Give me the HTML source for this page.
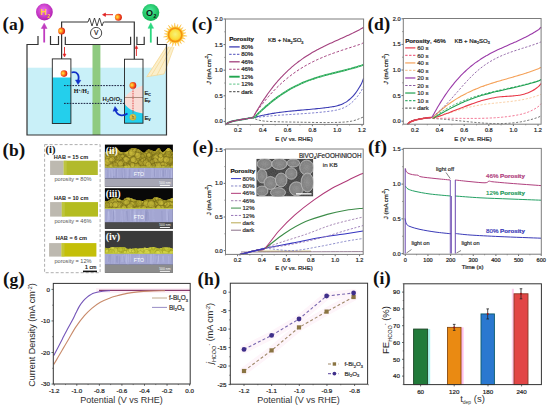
<!DOCTYPE html>
<html><head><meta charset="utf-8"><style>
html,body{margin:0;padding:0;background:#fff;width:550px;height:409px;overflow:hidden}
svg{display:block}
</style></head><body>
<svg width="550" height="409" viewBox="0 0 550 409">
<defs>
<radialGradient id="gE" cx="0.35" cy="0.45" r="0.65"><stop offset="0" stop-color="#ffe850"/><stop offset="0.35" stop-color="#ffa020"/><stop offset="0.8" stop-color="#e83018"/><stop offset="1" stop-color="#d02010"/></radialGradient>
<radialGradient id="gH" cx="0.45" cy="0.4" r="0.6"><stop offset="0" stop-color="#f070f0"/><stop offset="1" stop-color="#b020b0"/></radialGradient>
<radialGradient id="gO" cx="0.45" cy="0.4" r="0.6"><stop offset="0" stop-color="#50f0a0"/><stop offset="1" stop-color="#10b050"/></radialGradient>
<radialGradient id="gS" cx="0.5" cy="0.45" r="0.55"><stop offset="0" stop-color="#f6f27a"/><stop offset="0.6" stop-color="#fbe040"/><stop offset="1" stop-color="#ffc020"/></radialGradient>
<radialGradient id="gHole" cx="0.45" cy="0.45" r="0.6"><stop offset="0" stop-color="#f8f080"/><stop offset="1" stop-color="#c0a020"/></radialGradient>
</defs>

<text x="2.4" y="29.8" font-size="17.5" fill="#111" text-anchor="start" font-weight="bold" font-family='"Liberation Serif",serif' ><tspan font-size="19.5">(</tspan>a<tspan font-size="19.5">)</tspan></text>
<rect x="27" y="67.7" width="139.5" height="67.3" fill="#c9f0f8" stroke="none" stroke-width="1" />
<rect x="92.5" y="44.5" width="7.9" height="90.5" fill="#8fca80" stroke="none" stroke-width="1" />
<polygon points="166,46.5 174,47 164,74 146.5,76.8" fill="#fbefcc"/>
<path d="M166.5,46.5L147,76.5M169,46.7L151,76M171.5,46.8L157,75.2M174,47L164,74M146.5,76.8L164,74" stroke="#f5d68e" stroke-width="0.7" fill="none"/>
<path d="M38,36V44.5H27V135H166.5V44.5H157.4V36.7" fill="none" stroke="#333" stroke-width="1.2" />
<path d="M50.5,36V44.5H58.5V36" fill="none" stroke="#333" stroke-width="1.2" />
<path d="M65.3,36.7V44.5H130.6V36.7" fill="none" stroke="#333" stroke-width="1.2" />
<path d="M136.9,36.7V44.5H144.2V36.7" fill="none" stroke="#333" stroke-width="1.2" />
<path d="M61.6,58.9V22H88" fill="none" stroke="#333" stroke-width="1.2" />
<path d="M105,22H134.3V59.4" fill="none" stroke="#333" stroke-width="1.2" />
<path d="M88,22L89.5,18L92,26L94.5,18L97,26L99.5,18L102,26L103.5,22H105" fill="none" stroke="#333" stroke-width="0.9" />
<circle cx="96.1" cy="33" r="5.6" fill="#fff" stroke="#333" stroke-width="0.9"/>
<text x="96.1" y="35.3" font-size="6.5" fill="#222" text-anchor="middle" font-weight="normal" font-family='"Liberation Sans",sans-serif' stroke="#222" stroke-width="0.22" >V</text>
<path d="M113,14.7H104" fill="none" stroke="#e02020" stroke-width="1" />
<path d="M105.5,13L102.5,14.7L105.5,16.4Z" fill="#e02020" stroke="#e02020" stroke-width="0.6" />
<path d="M64.5,47V55" fill="none" stroke="#e02020" stroke-width="0.9" />
<path d="M63,54L64.5,57L66,54Z" fill="#e02020" stroke="#e02020" stroke-width="0.5" />
<path d="M136.4,56V48" fill="none" stroke="#e02020" stroke-width="0.9" />
<path d="M135,48.5L136.4,45.5L137.8,48.5Z" fill="#e02020" stroke="#e02020" stroke-width="0.5" />
<circle cx="61.6" cy="31.1" r="3.5" fill="url(#gE)"/>
<circle cx="118.4" cy="17.3" r="3.5" fill="url(#gE)"/>
<circle cx="44.4" cy="12" r="8.4" fill="url(#gH)"/>
<text x="43.6" y="15.4" font-size="9" fill="#ffd23a" text-anchor="middle" font-weight="bold" font-family='"Liberation Sans",sans-serif' >H</text>
<text x="48.6" y="17.6" font-size="5" fill="#ffd23a" text-anchor="middle" font-weight="bold" font-family='"Liberation Sans",sans-serif' >2</text>
<path d="M44.2,42.5V27" fill="none" stroke="#c03cc0" stroke-width="1.8" />
<path d="M41.3,28.5L44.2,23.2L47.1,28.5Z" fill="#c03cc0" stroke="#c03cc0" stroke-width="0.5" />
<circle cx="150.8" cy="12.5" r="8.5" fill="url(#gO)"/>
<text x="149.6" y="15.8" font-size="9" fill="#111" text-anchor="middle" font-weight="bold" font-family='"Liberation Sans",sans-serif' >O</text>
<text x="155" y="18" font-size="5" fill="#111" text-anchor="middle" font-weight="bold" font-family='"Liberation Sans",sans-serif' >2</text>
<path d="M150.8,42.6V27" fill="none" stroke="#2cd880" stroke-width="1.8" />
<path d="M148,28.3L150.8,22.8L153.6,28.3Z" fill="#2cd880" stroke="#2cd880" stroke-width="0.5" />
<path d="M182.4,34.83L187.14,36.1L182.24,36.4ZM182.13,36.86L185.39,39.04L181.53,38.32ZM181.3,38.73L184.6,42.36L180.31,39.97ZM179.97,40.29L181.54,43.89L178.68,41.2ZM178.26,41.42L179.07,46.26L176.76,41.93ZM176.3,42.02L175.67,45.89L174.72,42.08ZM174.25,42.04L172.31,46.55L172.71,41.66ZM172.27,41.48L169.65,44.4L170.91,40.68ZM170.54,40.39L166.48,43.14L169.45,39.24ZM169.18,38.85L165.4,39.89L168.46,37.44ZM168.31,37L163.41,37.11L168.02,35.44ZM168,34.97L164.25,33.8L168.16,33.4ZM168.27,32.94L164.08,30.39L168.87,31.48ZM169.1,31.07L166.59,28.06L170.09,29.83ZM170.43,29.51L168.29,25.09L171.72,28.6ZM172.14,28.38L171.65,24.49L173.64,27.87ZM174.1,27.78L174.69,22.91L175.68,27.72ZM176.15,27.76L177.84,24.22L177.69,28.14ZM178.13,28.32L181.25,24.54L179.49,29.12ZM179.86,29.41L183.2,27.35L180.95,30.56ZM181.22,30.95L185.89,29.45L181.94,32.36ZM182.09,32.8L186.01,32.87L182.38,34.36Z" fill="#ffc83a" stroke="#f8b030" stroke-width="0.3" />
<circle cx="175.2" cy="34.9" r="8.4" fill="#ffd850"/>
<circle cx="175.2" cy="34.9" r="6.7" fill="url(#gS)" stroke="#f59410" stroke-width="1.7"/>
<rect x="52.3" y="58.9" width="18.6" height="64.6" fill="#fff" stroke="none" stroke-width="1" />
<rect x="52.3" y="77.5" width="18.6" height="46" fill="#24cfec" stroke="none" stroke-width="1" />
<rect x="52.3" y="58.9" width="18.6" height="64.6" fill="none" stroke="#222" stroke-width="0.9" />
<circle cx="64" cy="73.6" r="3.3" fill="url(#gE)"/>
<rect x="124.5" y="59.2" width="18.5" height="64" fill="#fff" stroke="none" stroke-width="1" />
<rect x="124.5" y="67.7" width="18.5" height="55.5" fill="#c9f0f8" stroke="none" stroke-width="1" />
<path d="M143,85.5C137,87 128,92 124.5,98V123.2H143Z" fill="#f9dcd6" stroke="none" stroke-width="0" />
<path d="M124.5,103.5C127,108 133,112 143,113.5V123.2H124.5Z" fill="#24cfec" stroke="none" stroke-width="0" />
<line x1="124.5" y1="97.5" x2="143" y2="97.5" stroke="#9a7a6a" stroke-width="0.8" />
<line x1="133" y1="89.5" x2="133" y2="113.5" stroke="#d81818" stroke-width="0.9" stroke-dasharray="0.9,0.8" />
<circle cx="132.9" cy="85.4" r="3.4" fill="url(#gE)"/>
<circle cx="132.9" cy="117.3" r="3.3" fill="url(#gHole)"/>
<text x="132.9" y="119.2" font-size="4.5" fill="#7a5a10" text-anchor="middle" font-weight="bold" font-family='"Liberation Sans",sans-serif' >h</text>
<rect x="124.5" y="59.2" width="18.5" height="64" fill="none" stroke="#222" stroke-width="0.9" />
<line x1="64" y1="85.6" x2="124.5" y2="85.6" stroke="#1a2040" stroke-width="1" stroke-dasharray="1.7,1.1" />
<line x1="64" y1="103.4" x2="124.5" y2="103.4" stroke="#1a2040" stroke-width="1" stroke-dasharray="1.7,1.1" />
<path d="M71.5,72.5C77,71 80,75 78,81" fill="none" stroke="#1030c8" stroke-width="1.8" />
<path d="M75.5,80L78,84.5L80.8,80.3Z" fill="#1030c8" stroke="#1030c8" stroke-width="0.5" />
<path d="M127.5,113.5C123,116.5 117,116 115.5,110" fill="none" stroke="#1030c8" stroke-width="1.8" />
<path d="M113,111.3L115,106.5L118,110.5Z" fill="#1030c8" stroke="#1030c8" stroke-width="0.5" />
<text x="73.8" y="93.3" font-size="6" fill="#111" text-anchor="start" font-weight="bold" font-family='"Liberation Serif",serif' >H<tspan font-size="3.8" dy="-2">+</tspan><tspan dy="2">/H</tspan><tspan font-size="3.8" dy="1">2</tspan></text>
<text x="102.6" y="101.4" font-size="6" fill="#222" text-anchor="start" font-weight="bold" font-family='"Liberation Sans",sans-serif' >H<tspan font-size="3.8" dy="1">2</tspan><tspan dy="-1">O/O</tspan><tspan font-size="3.8" dy="1">2</tspan></text>
<text x="144.4" y="94.6" font-size="5.8" fill="#222" text-anchor="start" font-weight="normal" font-family='"Liberation Sans",sans-serif' stroke="#222" stroke-width="0.22" >E<tspan font-size="3.5" dy="1">C</tspan></text>
<text x="144.4" y="101.6" font-size="5.8" fill="#222" text-anchor="start" font-weight="normal" font-family='"Liberation Sans",sans-serif' stroke="#222" stroke-width="0.22" >E<tspan font-size="3.5" dy="1">F</tspan></text>
<text x="144.4" y="120.3" font-size="5.8" fill="#222" text-anchor="start" font-weight="normal" font-family='"Liberation Sans",sans-serif' stroke="#222" stroke-width="0.22" >E<tspan font-size="3.5" dy="1">V</tspan></text>
<text x="2.4" y="155.5" font-size="17.5" fill="#111" text-anchor="start" font-weight="bold" font-family='"Liberation Serif",serif' ><tspan font-size="19.5">(</tspan>b<tspan font-size="19.5">)</tspan></text>
<rect x="44.6" y="144.6" width="55.5" height="128.1" fill="none" stroke="#999" stroke-width="0.8" stroke-dasharray="3,2"/>
<text x="45.6" y="153.4" font-size="10.5" fill="#111" text-anchor="start" font-weight="bold" font-family='"Liberation Serif",serif' >(i)</text>
<rect x="50.1" y="160.7" width="13.6" height="14.3" fill="#bdb9b0" stroke="none" stroke-width="1" />
<rect x="63.7" y="160.7" width="34.1" height="14.3" fill="#b2ba2c" stroke="none" stroke-width="1" />
<rect x="63.7" y="160.7" width="3" height="14.3" fill="#c4cc50" stroke="none" stroke-width="1" opacity="0.6"/>
<rect x="50.1" y="202.1" width="11.7" height="14.5" fill="#bdb9b0" stroke="none" stroke-width="1" />
<rect x="61.8" y="202.1" width="36.2" height="14.5" fill="#b4bc20" stroke="none" stroke-width="1" />
<rect x="61.8" y="202.1" width="3" height="14.5" fill="#c4cc50" stroke="none" stroke-width="1" opacity="0.6"/>
<rect x="49.1" y="243.1" width="12.4" height="13.5" fill="#bdb9b0" stroke="none" stroke-width="1" />
<rect x="61.5" y="243.1" width="34.9" height="13.5" fill="#c4bf08" stroke="none" stroke-width="1" />
<rect x="61.5" y="243.1" width="3" height="13.5" fill="#c4cc50" stroke="none" stroke-width="1" opacity="0.6"/>
<text x="71" y="158.8" font-size="5.6" fill="#222" text-anchor="middle" font-weight="bold" font-family='"Liberation Sans",sans-serif' >HAB = 15 cm</text>
<text x="71.2" y="200" font-size="5.6" fill="#222" text-anchor="middle" font-weight="bold" font-family='"Liberation Sans",sans-serif' >HAB = 10 cm</text>
<text x="71.4" y="240.2" font-size="5.6" fill="#222" text-anchor="middle" font-weight="bold" font-family='"Liberation Sans",sans-serif' >HAB = 6 cm</text>
<text x="73" y="180.5" font-size="5.6" fill="#555" text-anchor="middle" font-weight="normal" font-family='"Liberation Sans",sans-serif' >porosity = 80%</text>
<text x="73" y="222.6" font-size="5.6" fill="#555" text-anchor="middle" font-weight="normal" font-family='"Liberation Sans",sans-serif' >porosity = 46%</text>
<text x="73" y="262.6" font-size="5.6" fill="#555" text-anchor="middle" font-weight="normal" font-family='"Liberation Sans",sans-serif' >porosity = 12%</text>
<text x="90.7" y="269.3" font-size="5.2" fill="#222" text-anchor="middle" font-weight="normal" font-family='"Liberation Sans",sans-serif' stroke="#222" stroke-width="0.22" >1 cm</text>
<rect x="83" y="270.6" width="14" height="1.6" fill="#111" stroke="none" stroke-width="1" />
<rect x="104.9" y="144.6" width="68" height="42.1" fill="#050505" stroke="none" stroke-width="1" />
<rect x="104.9" y="178.6" width="68" height="8.1" fill="#a6a6b4" stroke="none" stroke-width="1" />
<rect x="104.9" y="167.4" width="68" height="11.2" fill="#a3a6d2" stroke="none" stroke-width="1" />
<line x1="127.1" y1="167.85" x2="127.34" y2="178.38" stroke="#b8bce4" stroke-width="0.7" opacity="0.5"/>
<line x1="111.71" y1="169.15" x2="112.36" y2="177.96" stroke="#c4c8ee" stroke-width="0.7" opacity="0.5"/>
<line x1="134.45" y1="167.61" x2="133.8" y2="177.33" stroke="#b8bce4" stroke-width="0.7" opacity="0.5"/>
<line x1="113.69" y1="168.07" x2="113.9" y2="175.76" stroke="#b8bce4" stroke-width="0.7" opacity="0.5"/>
<line x1="144.63" y1="167.55" x2="144.19" y2="176.93" stroke="#c4c8ee" stroke-width="0.7" opacity="0.5"/>
<line x1="124.8" y1="167.83" x2="124.19" y2="177.67" stroke="#b8bce4" stroke-width="0.7" opacity="0.5"/>
<line x1="117.51" y1="169.14" x2="117.73" y2="177.48" stroke="#b8bce4" stroke-width="0.7" opacity="0.5"/>
<line x1="153.11" y1="169.09" x2="153.3" y2="177.11" stroke="#b8bce4" stroke-width="0.7" opacity="0.5"/>
<line x1="134.05" y1="168.34" x2="134.19" y2="177.24" stroke="#8488b8" stroke-width="0.7" opacity="0.5"/>
<line x1="122.04" y1="167.94" x2="122.49" y2="178.35" stroke="#8488b8" stroke-width="0.7" opacity="0.5"/>
<line x1="140.59" y1="170.03" x2="140.96" y2="177.74" stroke="#c4c8ee" stroke-width="0.7" opacity="0.5"/>
<line x1="113.31" y1="168.65" x2="113.72" y2="178.14" stroke="#8488b8" stroke-width="0.7" opacity="0.5"/>
<line x1="133.65" y1="170.29" x2="132.98" y2="176.93" stroke="#8488b8" stroke-width="0.7" opacity="0.5"/>
<line x1="128.19" y1="168.45" x2="128.18" y2="176.21" stroke="#c4c8ee" stroke-width="0.7" opacity="0.5"/>
<line x1="161.68" y1="170.23" x2="161.64" y2="176.61" stroke="#c4c8ee" stroke-width="0.7" opacity="0.5"/>
<line x1="154.39" y1="168.33" x2="154.51" y2="176.56" stroke="#8488b8" stroke-width="0.7" opacity="0.5"/>
<line x1="124.47" y1="168.56" x2="124.74" y2="178.53" stroke="#8488b8" stroke-width="0.7" opacity="0.5"/>
<line x1="129.22" y1="169.23" x2="129.21" y2="177.95" stroke="#8488b8" stroke-width="0.7" opacity="0.5"/>
<line x1="114.07" y1="168.14" x2="113.89" y2="175.99" stroke="#c4c8ee" stroke-width="0.7" opacity="0.5"/>
<line x1="116.55" y1="168.6" x2="116.19" y2="178.19" stroke="#8488b8" stroke-width="0.7" opacity="0.5"/>
<line x1="163.29" y1="168.24" x2="163.15" y2="177.52" stroke="#8488b8" stroke-width="0.7" opacity="0.5"/>
<line x1="169.57" y1="167.85" x2="169.05" y2="177.9" stroke="#c4c8ee" stroke-width="0.7" opacity="0.5"/>
<line x1="106.21" y1="169.89" x2="105.7" y2="177.75" stroke="#c4c8ee" stroke-width="0.7" opacity="0.5"/>
<line x1="133.47" y1="168.51" x2="133.58" y2="175.74" stroke="#b8bce4" stroke-width="0.7" opacity="0.5"/>
<line x1="162.97" y1="170.25" x2="163.21" y2="176.38" stroke="#8488b8" stroke-width="0.7" opacity="0.5"/>
<line x1="165.67" y1="169.74" x2="166.27" y2="176.21" stroke="#8488b8" stroke-width="0.7" opacity="0.5"/>
<line x1="132.07" y1="168.58" x2="132.04" y2="177.4" stroke="#c4c8ee" stroke-width="0.7" opacity="0.5"/>
<line x1="109.91" y1="168.03" x2="109.37" y2="177.58" stroke="#c4c8ee" stroke-width="0.7" opacity="0.5"/>
<line x1="112.26" y1="169.1" x2="112.32" y2="175.75" stroke="#b8bce4" stroke-width="0.7" opacity="0.5"/>
<line x1="107.11" y1="170.02" x2="107.29" y2="178.15" stroke="#8488b8" stroke-width="0.7" opacity="0.5"/>
<line x1="169.42" y1="169.21" x2="169.37" y2="178.25" stroke="#8488b8" stroke-width="0.7" opacity="0.5"/>
<line x1="171.94" y1="168.8" x2="171.91" y2="178.34" stroke="#c4c8ee" stroke-width="0.7" opacity="0.5"/>
<line x1="155.63" y1="169.62" x2="155.59" y2="176.52" stroke="#b8bce4" stroke-width="0.7" opacity="0.5"/>
<line x1="106.95" y1="170.25" x2="106.99" y2="178.16" stroke="#b8bce4" stroke-width="0.7" opacity="0.5"/>
<line x1="166.65" y1="169.67" x2="166.32" y2="176.67" stroke="#c4c8ee" stroke-width="0.7" opacity="0.5"/>
<line x1="152.05" y1="168.18" x2="151.83" y2="178.1" stroke="#c4c8ee" stroke-width="0.7" opacity="0.5"/>
<line x1="141.08" y1="169.74" x2="140.81" y2="177.93" stroke="#c4c8ee" stroke-width="0.7" opacity="0.5"/>
<line x1="159.41" y1="169.85" x2="159.79" y2="177.92" stroke="#b8bce4" stroke-width="0.7" opacity="0.5"/>
<line x1="138.42" y1="169.59" x2="139.2" y2="176.23" stroke="#8488b8" stroke-width="0.7" opacity="0.5"/>
<line x1="122.76" y1="169.48" x2="123.5" y2="177.26" stroke="#b8bce4" stroke-width="0.7" opacity="0.5"/>
<line x1="171.6" y1="170.27" x2="171.38" y2="177.94" stroke="#c4c8ee" stroke-width="0.7" opacity="0.5"/>
<line x1="136.9" y1="168.41" x2="136.87" y2="175.64" stroke="#b8bce4" stroke-width="0.7" opacity="0.5"/>
<clipPath id="c367428"><path d="M104.9,151.91C105.72,151.73 108.03,151.56 109.84,150.86C111.64,150.15 113.84,147.44 115.74,147.67C117.63,147.91 119.33,151.67 121.22,152.29C123.11,152.92 125.27,152.08 127.07,151.4C128.86,150.72 130.2,148.59 132,148.2C133.8,147.81 135.91,148.32 137.87,149.06C139.83,149.8 142,152.58 143.77,152.64C145.53,152.71 146.62,149.68 148.46,149.45C150.3,149.22 153.07,151.51 154.8,151.26C156.52,151 157.48,147.74 158.81,147.91C160.14,148.08 161.12,152.25 162.76,152.27C164.41,152.29 166.99,147.95 168.68,148.02C170.37,148.09 172.2,151.91 172.9,152.69L172.9,167.4L104.9,167.4Z"/></clipPath>
<path d="M104.9,151.91C105.72,151.73 108.03,151.56 109.84,150.86C111.64,150.15 113.84,147.44 115.74,147.67C117.63,147.91 119.33,151.67 121.22,152.29C123.11,152.92 125.27,152.08 127.07,151.4C128.86,150.72 130.2,148.59 132,148.2C133.8,147.81 135.91,148.32 137.87,149.06C139.83,149.8 142,152.58 143.77,152.64C145.53,152.71 146.62,149.68 148.46,149.45C150.3,149.22 153.07,151.51 154.8,151.26C156.52,151 157.48,147.74 158.81,147.91C160.14,148.08 161.12,152.25 162.76,152.27C164.41,152.29 166.99,147.95 168.68,148.02C170.37,148.09 172.2,151.91 172.9,152.69L172.9,167.4L104.9,167.4Z" fill="#a89a2a" stroke="none" stroke-width="0" />
<g clip-path="url(#c367428)">
<circle cx="115.5" cy="158.28" r="1.54" fill="#ccbc3c" stroke="#5e5410" stroke-width="0.6" opacity="0.6"/>
<circle cx="149.08" cy="157.84" r="3.46" fill="#a89a2a" stroke="#5e5410" stroke-width="0.6" opacity="0.6"/>
<circle cx="171.99" cy="151.14" r="3.34" fill="#ccbc3c" stroke="#5e5410" stroke-width="0.6" opacity="0.6"/>
<circle cx="122.02" cy="153.12" r="2.01" fill="#ccbc3c" stroke="#5e5410" stroke-width="0.6" opacity="0.6"/>
<circle cx="127.07" cy="158.2" r="3.25" fill="#ccbc3c" stroke="#5e5410" stroke-width="0.6" opacity="0.6"/>
<circle cx="166.78" cy="154.35" r="2.46" fill="#ccbc3c" stroke="#5e5410" stroke-width="0.6" opacity="0.6"/>
<circle cx="160.32" cy="157.64" r="3.24" fill="#ccbc3c" stroke="#5e5410" stroke-width="0.6" opacity="0.6"/>
<circle cx="113.79" cy="150.27" r="2.57" fill="#a89a2a" stroke="#5e5410" stroke-width="0.6" opacity="0.6"/>
<circle cx="157.7" cy="159.49" r="3.13" fill="#ccbc3c" stroke="#5e5410" stroke-width="0.6" opacity="0.6"/>
<circle cx="116.62" cy="156.76" r="3.02" fill="#ccbc3c" stroke="#5e5410" stroke-width="0.6" opacity="0.6"/>
<circle cx="109.1" cy="160.98" r="2.61" fill="#a89a2a" stroke="#5e5410" stroke-width="0.6" opacity="0.6"/>
<circle cx="158.23" cy="149.34" r="2.68" fill="#ccbc3c" stroke="#5e5410" stroke-width="0.6" opacity="0.6"/>
<circle cx="117.91" cy="148.05" r="1.71" fill="#a89a2a" stroke="#5e5410" stroke-width="0.6" opacity="0.6"/>
<circle cx="143.1" cy="162.55" r="3.42" fill="#a89a2a" stroke="#5e5410" stroke-width="0.6" opacity="0.6"/>
<circle cx="127.04" cy="166.86" r="2.77" fill="#ccbc3c" stroke="#5e5410" stroke-width="0.6" opacity="0.6"/>
<circle cx="152.01" cy="156.34" r="2.62" fill="#a89a2a" stroke="#5e5410" stroke-width="0.6" opacity="0.6"/>
<circle cx="139.43" cy="152.2" r="2.6" fill="#a89a2a" stroke="#5e5410" stroke-width="0.6" opacity="0.6"/>
<circle cx="167.65" cy="165.23" r="1.93" fill="#a89a2a" stroke="#5e5410" stroke-width="0.6" opacity="0.6"/>
<circle cx="114.23" cy="149.66" r="2.43" fill="#ccbc3c" stroke="#5e5410" stroke-width="0.6" opacity="0.6"/>
<circle cx="150.54" cy="155.85" r="1.95" fill="#a89a2a" stroke="#5e5410" stroke-width="0.6" opacity="0.6"/>
<circle cx="158.21" cy="165.32" r="1.82" fill="#ccbc3c" stroke="#5e5410" stroke-width="0.6" opacity="0.6"/>
<circle cx="148.66" cy="154.6" r="2.03" fill="#ccbc3c" stroke="#5e5410" stroke-width="0.6" opacity="0.6"/>
<circle cx="170.69" cy="151.64" r="3.5" fill="#a89a2a" stroke="#5e5410" stroke-width="0.6" opacity="0.6"/>
<circle cx="165.08" cy="150.49" r="2.9" fill="#ccbc3c" stroke="#5e5410" stroke-width="0.6" opacity="0.6"/>
<circle cx="115.88" cy="155.92" r="2.58" fill="#a89a2a" stroke="#5e5410" stroke-width="0.6" opacity="0.6"/>
<circle cx="133.55" cy="154.4" r="1.69" fill="#a89a2a" stroke="#5e5410" stroke-width="0.6" opacity="0.6"/>
<circle cx="106.22" cy="158.39" r="2.42" fill="#ccbc3c" stroke="#5e5410" stroke-width="0.6" opacity="0.6"/>
<circle cx="131.04" cy="157.65" r="2.12" fill="#ccbc3c" stroke="#5e5410" stroke-width="0.6" opacity="0.6"/>
<circle cx="112.57" cy="165.75" r="1.98" fill="#ccbc3c" stroke="#5e5410" stroke-width="0.6" opacity="0.6"/>
<circle cx="110.62" cy="152.69" r="3.4" fill="#ccbc3c" stroke="#5e5410" stroke-width="0.6" opacity="0.6"/>
<circle cx="123.29" cy="149.82" r="2.39" fill="#ccbc3c" stroke="#5e5410" stroke-width="0.6" opacity="0.6"/>
<circle cx="160.59" cy="152.42" r="1.81" fill="#ccbc3c" stroke="#5e5410" stroke-width="0.6" opacity="0.6"/>
<circle cx="143.7" cy="161.35" r="1.69" fill="#ccbc3c" stroke="#5e5410" stroke-width="0.6" opacity="0.6"/>
<circle cx="159.27" cy="150.9" r="3.38" fill="#a89a2a" stroke="#5e5410" stroke-width="0.6" opacity="0.6"/>
<circle cx="168.71" cy="160.02" r="3.18" fill="#ccbc3c" stroke="#5e5410" stroke-width="0.6" opacity="0.6"/>
<circle cx="146.26" cy="151.69" r="2.06" fill="#ccbc3c" stroke="#5e5410" stroke-width="0.6" opacity="0.6"/>
<circle cx="135.76" cy="154.05" r="2.66" fill="#a89a2a" stroke="#5e5410" stroke-width="0.6" opacity="0.6"/>
<circle cx="147.18" cy="148.07" r="2.99" fill="#ccbc3c" stroke="#5e5410" stroke-width="0.6" opacity="0.6"/>
<circle cx="170.81" cy="152.49" r="1.88" fill="#a89a2a" stroke="#5e5410" stroke-width="0.6" opacity="0.6"/>
<circle cx="147.65" cy="157.93" r="1.93" fill="#a89a2a" stroke="#5e5410" stroke-width="0.6" opacity="0.6"/>
<circle cx="138.91" cy="150.79" r="2.23" fill="#ccbc3c" stroke="#5e5410" stroke-width="0.6" opacity="0.6"/>
<circle cx="172.53" cy="147.95" r="1.54" fill="#ccbc3c" stroke="#5e5410" stroke-width="0.6" opacity="0.6"/>
<circle cx="142.37" cy="151.03" r="2.5" fill="#a89a2a" stroke="#5e5410" stroke-width="0.6" opacity="0.6"/>
<circle cx="112.13" cy="163.74" r="2.41" fill="#a89a2a" stroke="#5e5410" stroke-width="0.6" opacity="0.6"/>
<circle cx="142.02" cy="165.15" r="3.54" fill="#a89a2a" stroke="#5e5410" stroke-width="0.6" opacity="0.6"/>
<circle cx="151.67" cy="167.05" r="2.22" fill="#ccbc3c" stroke="#5e5410" stroke-width="0.6" opacity="0.6"/>
<circle cx="154.46" cy="150.02" r="3.58" fill="#ccbc3c" stroke="#5e5410" stroke-width="0.6" opacity="0.6"/>
<circle cx="161.82" cy="147.49" r="2.81" fill="#a89a2a" stroke="#5e5410" stroke-width="0.6" opacity="0.6"/>
<circle cx="134.19" cy="148.32" r="2.9" fill="#a89a2a" stroke="#5e5410" stroke-width="0.6" opacity="0.6"/>
<circle cx="164.1" cy="160.74" r="2.09" fill="#ccbc3c" stroke="#5e5410" stroke-width="0.6" opacity="0.6"/>
<circle cx="152" cy="148.11" r="1.89" fill="#a89a2a" stroke="#5e5410" stroke-width="0.6" opacity="0.6"/>
<circle cx="135.22" cy="152.52" r="3.52" fill="#ccbc3c" stroke="#5e5410" stroke-width="0.6" opacity="0.6"/>
<circle cx="126.9" cy="147.9" r="3.35" fill="#ccbc3c" stroke="#5e5410" stroke-width="0.6" opacity="0.6"/>
<circle cx="129.15" cy="147.22" r="2.3" fill="#a89a2a" stroke="#5e5410" stroke-width="0.6" opacity="0.6"/>
<circle cx="123.87" cy="160.45" r="2.02" fill="#ccbc3c" stroke="#5e5410" stroke-width="0.6" opacity="0.6"/>
<circle cx="111.08" cy="163.7" r="1.8" fill="#ccbc3c" stroke="#5e5410" stroke-width="0.6" opacity="0.6"/>
<circle cx="107.73" cy="147.65" r="2.14" fill="#ccbc3c" stroke="#5e5410" stroke-width="0.6" opacity="0.6"/>
<circle cx="110.64" cy="166.54" r="3.29" fill="#ccbc3c" stroke="#5e5410" stroke-width="0.6" opacity="0.6"/>
<circle cx="149.61" cy="161.66" r="3.35" fill="#a89a2a" stroke="#5e5410" stroke-width="0.6" opacity="0.6"/>
<circle cx="156.87" cy="161.76" r="2.54" fill="#a89a2a" stroke="#5e5410" stroke-width="0.6" opacity="0.6"/>
<circle cx="154.14" cy="160.19" r="1.59" fill="#ccbc3c" stroke="#5e5410" stroke-width="0.6" opacity="0.6"/>
<circle cx="165.55" cy="159.87" r="3.04" fill="#ccbc3c" stroke="#5e5410" stroke-width="0.6" opacity="0.6"/>
<circle cx="114.37" cy="157.78" r="2.56" fill="#ccbc3c" stroke="#5e5410" stroke-width="0.6" opacity="0.6"/>
<circle cx="161.1" cy="159" r="3.37" fill="#ccbc3c" stroke="#5e5410" stroke-width="0.6" opacity="0.6"/>
<circle cx="169.91" cy="160.19" r="1.68" fill="#ccbc3c" stroke="#5e5410" stroke-width="0.6" opacity="0.6"/>
<circle cx="113.95" cy="154.49" r="1.72" fill="#a89a2a" stroke="#5e5410" stroke-width="0.6" opacity="0.6"/>
<circle cx="142.88" cy="159.88" r="2.82" fill="#ccbc3c" stroke="#5e5410" stroke-width="0.6" opacity="0.6"/>
<circle cx="121.53" cy="152.53" r="2.46" fill="#ccbc3c" stroke="#5e5410" stroke-width="0.6" opacity="0.6"/>
<circle cx="155.78" cy="157.36" r="2.62" fill="#ccbc3c" stroke="#5e5410" stroke-width="0.6" opacity="0.6"/>
<circle cx="140.67" cy="162.26" r="2.5" fill="#ccbc3c" stroke="#5e5410" stroke-width="0.6" opacity="0.6"/>
<circle cx="162.44" cy="151.94" r="3.09" fill="#ccbc3c" stroke="#5e5410" stroke-width="0.6" opacity="0.6"/>
<circle cx="155.21" cy="166.91" r="2.54" fill="#a89a2a" stroke="#5e5410" stroke-width="0.6" opacity="0.6"/>
<circle cx="110.12" cy="165.59" r="2.1" fill="#ccbc3c" stroke="#5e5410" stroke-width="0.6" opacity="0.6"/>
<circle cx="146.85" cy="160.18" r="1.66" fill="#ccbc3c" stroke="#5e5410" stroke-width="0.6" opacity="0.6"/>
<circle cx="127.46" cy="160.36" r="2.96" fill="#ccbc3c" stroke="#5e5410" stroke-width="0.6" opacity="0.6"/>
<circle cx="143.51" cy="147.45" r="1.63" fill="#a89a2a" stroke="#5e5410" stroke-width="0.6" opacity="0.6"/>
<circle cx="171.03" cy="149.21" r="1.96" fill="#a89a2a" stroke="#5e5410" stroke-width="0.6" opacity="0.6"/>
<circle cx="124.68" cy="157.63" r="2.48" fill="#a89a2a" stroke="#5e5410" stroke-width="0.6" opacity="0.6"/>
<circle cx="157.07" cy="167.26" r="2.65" fill="#a89a2a" stroke="#5e5410" stroke-width="0.6" opacity="0.6"/>
<circle cx="171.41" cy="166.11" r="1.54" fill="#a89a2a" stroke="#5e5410" stroke-width="0.6" opacity="0.6"/>
<circle cx="110.1" cy="157.43" r="3.59" fill="#a89a2a" stroke="#5e5410" stroke-width="0.6" opacity="0.6"/>
<circle cx="131.21" cy="165.71" r="3.45" fill="#ccbc3c" stroke="#5e5410" stroke-width="0.6" opacity="0.6"/>
<circle cx="144.44" cy="150.06" r="2.6" fill="#a89a2a" stroke="#5e5410" stroke-width="0.6" opacity="0.6"/>
<circle cx="113.92" cy="163.77" r="2.57" fill="#ccbc3c" stroke="#5e5410" stroke-width="0.6" opacity="0.6"/>
<circle cx="152.73" cy="151.87" r="3.39" fill="#a89a2a" stroke="#5e5410" stroke-width="0.6" opacity="0.6"/>
<circle cx="131.7" cy="150.41" r="3.49" fill="#ccbc3c" stroke="#5e5410" stroke-width="0.6" opacity="0.6"/>
<circle cx="135.55" cy="153.3" r="1.8" fill="#a89a2a" stroke="#5e5410" stroke-width="0.6" opacity="0.6"/>
<circle cx="130.48" cy="149.64" r="2.2" fill="#a89a2a" stroke="#5e5410" stroke-width="0.6" opacity="0.6"/>
<circle cx="155.95" cy="164.15" r="1.75" fill="#ccbc3c" stroke="#5e5410" stroke-width="0.6" opacity="0.6"/>
<circle cx="153.39" cy="165.41" r="2.11" fill="#a89a2a" stroke="#5e5410" stroke-width="0.6" opacity="0.6"/>
<circle cx="109.32" cy="155.08" r="3.33" fill="#ccbc3c" stroke="#5e5410" stroke-width="0.6" opacity="0.6"/>
<circle cx="129.43" cy="155.85" r="2.08" fill="#ccbc3c" stroke="#5e5410" stroke-width="0.6" opacity="0.6"/>
<circle cx="123.98" cy="148.24" r="2.89" fill="#ccbc3c" stroke="#5e5410" stroke-width="0.6" opacity="0.6"/>
<circle cx="168.52" cy="152.24" r="2.06" fill="#ccbc3c" stroke="#5e5410" stroke-width="0.6" opacity="0.6"/>
<circle cx="126.36" cy="162.82" r="3.15" fill="#a89a2a" stroke="#5e5410" stroke-width="0.6" opacity="0.6"/>
<circle cx="165.03" cy="163.6" r="2.82" fill="#ccbc3c" stroke="#5e5410" stroke-width="0.6" opacity="0.6"/>
<circle cx="142.25" cy="161.74" r="1.6" fill="#ccbc3c" stroke="#5e5410" stroke-width="0.6" opacity="0.6"/>
<circle cx="132.84" cy="159.62" r="1.79" fill="#a89a2a" stroke="#5e5410" stroke-width="0.6" opacity="0.6"/>
<circle cx="137.92" cy="165.62" r="2.66" fill="#ccbc3c" stroke="#5e5410" stroke-width="0.6" opacity="0.6"/>
<circle cx="137.01" cy="154.14" r="2.13" fill="#ccbc3c" stroke="#5e5410" stroke-width="0.6" opacity="0.6"/>
<circle cx="155.13" cy="160.39" r="2.35" fill="#ccbc3c" stroke="#5e5410" stroke-width="0.6" opacity="0.6"/>
<circle cx="125.36" cy="158.46" r="2.33" fill="#ccbc3c" stroke="#5e5410" stroke-width="0.6" opacity="0.6"/>
<circle cx="148.64" cy="148.72" r="2.55" fill="#a89a2a" stroke="#5e5410" stroke-width="0.6" opacity="0.6"/>
<circle cx="142.33" cy="156.35" r="2.2" fill="#a89a2a" stroke="#5e5410" stroke-width="0.6" opacity="0.6"/>
<circle cx="133.96" cy="158.27" r="2.01" fill="#ccbc3c" stroke="#5e5410" stroke-width="0.6" opacity="0.6"/>
<circle cx="128.15" cy="149.04" r="2" fill="#a89a2a" stroke="#5e5410" stroke-width="0.6" opacity="0.6"/>
<circle cx="159.94" cy="151.28" r="1.54" fill="#a89a2a" stroke="#5e5410" stroke-width="0.6" opacity="0.6"/>
<circle cx="130.93" cy="162.27" r="1.94" fill="#a89a2a" stroke="#5e5410" stroke-width="0.6" opacity="0.6"/>
<circle cx="127.9" cy="148.45" r="2.08" fill="#a89a2a" stroke="#5e5410" stroke-width="0.6" opacity="0.6"/>
<circle cx="113.46" cy="157.37" r="2.82" fill="#ccbc3c" stroke="#5e5410" stroke-width="0.6" opacity="0.6"/>
<circle cx="111.2" cy="165.32" r="2.31" fill="#ccbc3c" stroke="#5e5410" stroke-width="0.6" opacity="0.6"/>
<circle cx="135.22" cy="166.47" r="3.28" fill="#ccbc3c" stroke="#5e5410" stroke-width="0.6" opacity="0.6"/>
<circle cx="113.55" cy="155.79" r="3.1" fill="#a89a2a" stroke="#5e5410" stroke-width="0.6" opacity="0.6"/>
<circle cx="170.74" cy="157.09" r="1.65" fill="#ccbc3c" stroke="#5e5410" stroke-width="0.6" opacity="0.6"/>
<circle cx="163.07" cy="166.84" r="2.02" fill="#ccbc3c" stroke="#5e5410" stroke-width="0.6" opacity="0.6"/>
<circle cx="120.12" cy="150.27" r="3.54" fill="#ccbc3c" stroke="#5e5410" stroke-width="0.6" opacity="0.6"/>
<circle cx="168.92" cy="161.78" r="2.86" fill="#a89a2a" stroke="#5e5410" stroke-width="0.6" opacity="0.6"/>
<circle cx="110.68" cy="162.89" r="1.5" fill="#ccbc3c" stroke="#5e5410" stroke-width="0.6" opacity="0.6"/>
<circle cx="120.72" cy="165.78" r="2.86" fill="#a89a2a" stroke="#5e5410" stroke-width="0.6" opacity="0.6"/>
<circle cx="170.35" cy="159.85" r="2.61" fill="#a89a2a" stroke="#5e5410" stroke-width="0.6" opacity="0.6"/>
<circle cx="152.4" cy="149.47" r="1.65" fill="#ccbc3c" stroke="#5e5410" stroke-width="0.6" opacity="0.6"/>
<circle cx="169.06" cy="151.07" r="2.05" fill="#ccbc3c" stroke="#5e5410" stroke-width="0.6" opacity="0.6"/>
<circle cx="104.98" cy="158.06" r="3.59" fill="#a89a2a" stroke="#5e5410" stroke-width="0.6" opacity="0.6"/>
<circle cx="170.11" cy="160.22" r="3.36" fill="#a89a2a" stroke="#5e5410" stroke-width="0.6" opacity="0.6"/>
<circle cx="140.69" cy="158.25" r="1.56" fill="#a89a2a" stroke="#5e5410" stroke-width="0.6" opacity="0.6"/>
<circle cx="152.82" cy="153.41" r="1.55" fill="#a89a2a" stroke="#5e5410" stroke-width="0.6" opacity="0.6"/>
<circle cx="165.07" cy="160.27" r="1.67" fill="#ccbc3c" stroke="#5e5410" stroke-width="0.6" opacity="0.6"/>
<circle cx="150.28" cy="165.89" r="1.98" fill="#ccbc3c" stroke="#5e5410" stroke-width="0.6" opacity="0.6"/>
<circle cx="152.22" cy="161.71" r="2.26" fill="#a89a2a" stroke="#5e5410" stroke-width="0.6" opacity="0.6"/>
<circle cx="118.37" cy="163.3" r="3.05" fill="#ccbc3c" stroke="#5e5410" stroke-width="0.6" opacity="0.6"/>
<circle cx="109.49" cy="157.21" r="1.92" fill="#ccbc3c" stroke="#5e5410" stroke-width="0.6" opacity="0.6"/>
<circle cx="120.59" cy="151.67" r="3.1" fill="#a89a2a" stroke="#5e5410" stroke-width="0.6" opacity="0.6"/>
<circle cx="112.31" cy="159.8" r="2.78" fill="#ccbc3c" stroke="#5e5410" stroke-width="0.6" opacity="0.6"/>
<circle cx="137.88" cy="165.59" r="1.62" fill="#ccbc3c" stroke="#5e5410" stroke-width="0.6" opacity="0.6"/>
<circle cx="114.85" cy="155.15" r="1.95" fill="#ccbc3c" stroke="#5e5410" stroke-width="0.6" opacity="0.6"/>
<circle cx="114.55" cy="148.25" r="1.63" fill="#a89a2a" stroke="#5e5410" stroke-width="0.6" opacity="0.6"/>
<circle cx="135.48" cy="161.58" r="2.16" fill="#ccbc3c" stroke="#5e5410" stroke-width="0.6" opacity="0.6"/>
<circle cx="172.73" cy="166.02" r="2.19" fill="#ccbc3c" stroke="#5e5410" stroke-width="0.6" opacity="0.6"/>
<circle cx="149.27" cy="157.8" r="2.48" fill="#a89a2a" stroke="#5e5410" stroke-width="0.6" opacity="0.6"/>
<circle cx="150.08" cy="154.85" r="2.29" fill="#a89a2a" stroke="#5e5410" stroke-width="0.6" opacity="0.6"/>
<circle cx="134.99" cy="149.4" r="1.66" fill="#ccbc3c" stroke="#5e5410" stroke-width="0.6" opacity="0.6"/>
<circle cx="128.8" cy="166.5" r="1.76" fill="#ccbc3c" stroke="#5e5410" stroke-width="0.6" opacity="0.6"/>
<circle cx="130.75" cy="162.73" r="2.15" fill="#a89a2a" stroke="#5e5410" stroke-width="0.6" opacity="0.6"/>
<circle cx="110.87" cy="161.45" r="1.91" fill="#ccbc3c" stroke="#5e5410" stroke-width="0.6" opacity="0.6"/>
<circle cx="167.43" cy="151.1" r="2.26" fill="#a89a2a" stroke="#5e5410" stroke-width="0.6" opacity="0.6"/>
<circle cx="106.96" cy="155.5" r="3.2" fill="#a89a2a" stroke="#5e5410" stroke-width="0.6" opacity="0.6"/>
<circle cx="107.66" cy="147.9" r="1.63" fill="#ccbc3c" stroke="#5e5410" stroke-width="0.6" opacity="0.6"/>
<circle cx="122.38" cy="162.3" r="3.39" fill="#a89a2a" stroke="#5e5410" stroke-width="0.6" opacity="0.6"/>
<circle cx="129.58" cy="153.97" r="3.5" fill="#ccbc3c" stroke="#5e5410" stroke-width="0.6" opacity="0.6"/>
<circle cx="122.73" cy="161.68" r="2.16" fill="#a89a2a" stroke="#5e5410" stroke-width="0.6" opacity="0.6"/>
<circle cx="125.12" cy="161.78" r="2.75" fill="#ccbc3c" stroke="#5e5410" stroke-width="0.6" opacity="0.6"/>
<circle cx="169.26" cy="148.52" r="3.23" fill="#ccbc3c" stroke="#5e5410" stroke-width="0.6" opacity="0.6"/>
<circle cx="137.21" cy="166.53" r="3.5" fill="#a89a2a" stroke="#5e5410" stroke-width="0.6" opacity="0.6"/>
<circle cx="158.61" cy="165.65" r="3.21" fill="#ccbc3c" stroke="#5e5410" stroke-width="0.6" opacity="0.6"/>
<circle cx="168.01" cy="150.9" r="3.19" fill="#ccbc3c" stroke="#5e5410" stroke-width="0.6" opacity="0.6"/>
<circle cx="125.53" cy="161.18" r="1.82" fill="#ccbc3c" stroke="#5e5410" stroke-width="0.6" opacity="0.6"/>
<circle cx="127.19" cy="153.65" r="2.26" fill="#ccbc3c" stroke="#5e5410" stroke-width="0.6" opacity="0.6"/>
<circle cx="110.27" cy="151.19" r="3.08" fill="#ccbc3c" stroke="#5e5410" stroke-width="0.6" opacity="0.6"/>
<circle cx="132.63" cy="160.32" r="2.51" fill="#ccbc3c" stroke="#5e5410" stroke-width="0.6" opacity="0.6"/>
<circle cx="127.05" cy="167" r="3.36" fill="#ccbc3c" stroke="#5e5410" stroke-width="0.6" opacity="0.6"/>
<circle cx="122.91" cy="148.9" r="1.7" fill="#a89a2a" stroke="#5e5410" stroke-width="0.6" opacity="0.6"/>
<circle cx="172.11" cy="166.84" r="1.86" fill="#ccbc3c" stroke="#5e5410" stroke-width="0.6" opacity="0.6"/>
<circle cx="133.25" cy="159.73" r="2.92" fill="#ccbc3c" stroke="#5e5410" stroke-width="0.6" opacity="0.6"/>
<circle cx="141.52" cy="162.83" r="3.1" fill="#a89a2a" stroke="#5e5410" stroke-width="0.6" opacity="0.6"/>
<circle cx="124.88" cy="158.65" r="2.28" fill="#ccbc3c" stroke="#5e5410" stroke-width="0.6" opacity="0.6"/>
<circle cx="122.6" cy="156.08" r="1.89" fill="#ccbc3c" stroke="#5e5410" stroke-width="0.6" opacity="0.6"/>
<circle cx="115.33" cy="165.06" r="2.71" fill="#a89a2a" stroke="#5e5410" stroke-width="0.6" opacity="0.6"/>
<circle cx="109.31" cy="152.28" r="2.02" fill="#ccbc3c" stroke="#5e5410" stroke-width="0.6" opacity="0.6"/>
<circle cx="120.63" cy="163.53" r="2.87" fill="#ccbc3c" stroke="#5e5410" stroke-width="0.6" opacity="0.6"/>
<circle cx="111.86" cy="156.79" r="3.22" fill="#a89a2a" stroke="#5e5410" stroke-width="0.6" opacity="0.6"/>
<circle cx="167.08" cy="148.02" r="2.12" fill="#ccbc3c" stroke="#5e5410" stroke-width="0.6" opacity="0.6"/>
<circle cx="108.33" cy="159.33" r="3.24" fill="#ccbc3c" stroke="#5e5410" stroke-width="0.6" opacity="0.6"/>
<circle cx="168.15" cy="154.72" r="3.32" fill="#a89a2a" stroke="#5e5410" stroke-width="0.6" opacity="0.6"/>
<circle cx="145.91" cy="162.85" r="2.9" fill="#ccbc3c" stroke="#5e5410" stroke-width="0.6" opacity="0.6"/>
<circle cx="112.09" cy="159.24" r="2.8" fill="#ccbc3c" stroke="#5e5410" stroke-width="0.6" opacity="0.6"/>
<circle cx="107.45" cy="154.07" r="1.59" fill="#a89a2a" stroke="#5e5410" stroke-width="0.6" opacity="0.6"/>
<circle cx="107.5" cy="161.99" r="3.42" fill="#ccbc3c" stroke="#5e5410" stroke-width="0.6" opacity="0.6"/>
<circle cx="160.58" cy="155.46" r="2.28" fill="#ccbc3c" stroke="#5e5410" stroke-width="0.6" opacity="0.6"/>
<circle cx="126.13" cy="151.31" r="3.17" fill="#ccbc3c" stroke="#5e5410" stroke-width="0.6" opacity="0.6"/>
<circle cx="137.78" cy="155.45" r="3.17" fill="#ccbc3c" stroke="#5e5410" stroke-width="0.6" opacity="0.6"/>
<circle cx="142.31" cy="160.11" r="1.69" fill="#ccbc3c" stroke="#5e5410" stroke-width="0.6" opacity="0.6"/>
<circle cx="131.95" cy="152.68" r="3.58" fill="#ccbc3c" stroke="#5e5410" stroke-width="0.6" opacity="0.6"/>
<circle cx="125.82" cy="166.45" r="2.16" fill="#ccbc3c" stroke="#5e5410" stroke-width="0.6" opacity="0.6"/>
<circle cx="164.99" cy="155.56" r="1.54" fill="#a89a2a" stroke="#5e5410" stroke-width="0.6" opacity="0.6"/>
<circle cx="148.72" cy="155.09" r="2.35" fill="#ccbc3c" stroke="#5e5410" stroke-width="0.6" opacity="0.6"/>
<circle cx="134.42" cy="150.36" r="1.74" fill="#ccbc3c" stroke="#5e5410" stroke-width="0.6" opacity="0.6"/>
<circle cx="132.52" cy="165.03" r="2.47" fill="#ccbc3c" stroke="#5e5410" stroke-width="0.6" opacity="0.6"/>
<circle cx="113.74" cy="148.24" r="1.8" fill="#a89a2a" stroke="#5e5410" stroke-width="0.6" opacity="0.6"/>
<circle cx="110.95" cy="159.77" r="2.28" fill="#ccbc3c" stroke="#5e5410" stroke-width="0.6" opacity="0.6"/>
<circle cx="116.57" cy="154.23" r="1.84" fill="#ccbc3c" stroke="#5e5410" stroke-width="0.6" opacity="0.6"/>
<circle cx="167.83" cy="149.4" r="2.53" fill="#ccbc3c" stroke="#5e5410" stroke-width="0.6" opacity="0.6"/>
<circle cx="125.41" cy="164.11" r="1.59" fill="#a89a2a" stroke="#5e5410" stroke-width="0.6" opacity="0.6"/>
<circle cx="126.29" cy="159.47" r="2.84" fill="#ccbc3c" stroke="#5e5410" stroke-width="0.6" opacity="0.6"/>
<circle cx="166.39" cy="159.73" r="3.23" fill="#ccbc3c" stroke="#5e5410" stroke-width="0.6" opacity="0.6"/>
<circle cx="148.44" cy="164.5" r="2.8" fill="#ccbc3c" stroke="#5e5410" stroke-width="0.6" opacity="0.6"/>
<circle cx="162.45" cy="163.95" r="1.88" fill="#ccbc3c" stroke="#5e5410" stroke-width="0.6" opacity="0.6"/>
</g>
<line x1="104.9" y1="167.1" x2="172.9" y2="167.1" stroke="#c8d050" stroke-width="0.8" />
<text x="105.7" y="153.8" font-size="10" fill="#fff" text-anchor="start" font-weight="bold" font-family='"Liberation Serif",serif' >(ii)</text>
<text x="139" y="176.22" font-size="5.2" fill="#fff" text-anchor="middle" font-weight="normal" font-family='"Liberation Sans",sans-serif' >FTO</text>
<rect x="159.9" y="184.9" width="10" height="0.9" fill="#fff" stroke="none" stroke-width="1" />
<text x="164.9" y="183.7" font-size="3.4" fill="#fff" text-anchor="middle" font-weight="normal" font-family='"Liberation Sans",sans-serif' >500 nm</text>
<rect x="104.9" y="188.2" width="68" height="40.6" fill="#080808" stroke="none" stroke-width="1" />
<rect x="104.9" y="222.3" width="68" height="6.5" fill="#4a4a4a" stroke="none" stroke-width="1" />
<rect x="104.9" y="208.8" width="68" height="13.5" fill="#a3a6d2" stroke="none" stroke-width="1" />
<line x1="108.19" y1="211.62" x2="107.65" y2="221.22" stroke="#c4c8ee" stroke-width="0.7" opacity="0.5"/>
<line x1="121.95" y1="210.97" x2="122.59" y2="222.18" stroke="#b8bce4" stroke-width="0.7" opacity="0.5"/>
<line x1="161.85" y1="210.82" x2="162.12" y2="221.33" stroke="#8488b8" stroke-width="0.7" opacity="0.5"/>
<line x1="145.57" y1="210.45" x2="145.77" y2="221.38" stroke="#8488b8" stroke-width="0.7" opacity="0.5"/>
<line x1="126.05" y1="209.55" x2="125.87" y2="221.2" stroke="#b8bce4" stroke-width="0.7" opacity="0.5"/>
<line x1="134.77" y1="208.87" x2="134.96" y2="220.83" stroke="#c4c8ee" stroke-width="0.7" opacity="0.5"/>
<line x1="135.34" y1="210.66" x2="135.85" y2="219.79" stroke="#8488b8" stroke-width="0.7" opacity="0.5"/>
<line x1="132.22" y1="209" x2="132" y2="221.2" stroke="#8488b8" stroke-width="0.7" opacity="0.5"/>
<line x1="139.19" y1="210.77" x2="138.46" y2="221.91" stroke="#b8bce4" stroke-width="0.7" opacity="0.5"/>
<line x1="126.42" y1="210.96" x2="125.75" y2="220.04" stroke="#8488b8" stroke-width="0.7" opacity="0.5"/>
<line x1="149.13" y1="211.15" x2="148.38" y2="222.1" stroke="#b8bce4" stroke-width="0.7" opacity="0.5"/>
<line x1="154.45" y1="211.24" x2="153.96" y2="219.35" stroke="#8488b8" stroke-width="0.7" opacity="0.5"/>
<line x1="124.69" y1="211.23" x2="125.16" y2="220.24" stroke="#b8bce4" stroke-width="0.7" opacity="0.5"/>
<line x1="167.75" y1="209" x2="167.51" y2="220.03" stroke="#c4c8ee" stroke-width="0.7" opacity="0.5"/>
<line x1="127.1" y1="210.64" x2="127.75" y2="220.93" stroke="#8488b8" stroke-width="0.7" opacity="0.5"/>
<line x1="139.05" y1="211.56" x2="138.58" y2="221.51" stroke="#b8bce4" stroke-width="0.7" opacity="0.5"/>
<line x1="121.31" y1="209.92" x2="120.82" y2="221.09" stroke="#b8bce4" stroke-width="0.7" opacity="0.5"/>
<line x1="168.14" y1="210.84" x2="168.77" y2="221.79" stroke="#8488b8" stroke-width="0.7" opacity="0.5"/>
<line x1="113.11" y1="210.39" x2="113.33" y2="221.22" stroke="#8488b8" stroke-width="0.7" opacity="0.5"/>
<line x1="142.6" y1="210.54" x2="143.21" y2="221.99" stroke="#b8bce4" stroke-width="0.7" opacity="0.5"/>
<line x1="147.6" y1="209.98" x2="148.07" y2="221.51" stroke="#8488b8" stroke-width="0.7" opacity="0.5"/>
<line x1="144.08" y1="209.88" x2="144.51" y2="220.97" stroke="#c4c8ee" stroke-width="0.7" opacity="0.5"/>
<line x1="146.63" y1="211.67" x2="146.3" y2="220.75" stroke="#8488b8" stroke-width="0.7" opacity="0.5"/>
<line x1="148.23" y1="211.75" x2="148.37" y2="220.31" stroke="#8488b8" stroke-width="0.7" opacity="0.5"/>
<line x1="154.51" y1="211.04" x2="154.07" y2="221.43" stroke="#b8bce4" stroke-width="0.7" opacity="0.5"/>
<line x1="134.36" y1="210.34" x2="134.99" y2="221.9" stroke="#c4c8ee" stroke-width="0.7" opacity="0.5"/>
<line x1="146.44" y1="208.94" x2="145.73" y2="220.6" stroke="#8488b8" stroke-width="0.7" opacity="0.5"/>
<line x1="112.53" y1="209.87" x2="112.09" y2="220.55" stroke="#b8bce4" stroke-width="0.7" opacity="0.5"/>
<line x1="114.36" y1="209.9" x2="114.89" y2="221.82" stroke="#c4c8ee" stroke-width="0.7" opacity="0.5"/>
<line x1="168.15" y1="209.53" x2="167.59" y2="222.01" stroke="#b8bce4" stroke-width="0.7" opacity="0.5"/>
<line x1="115.09" y1="210.8" x2="114.73" y2="219.87" stroke="#c4c8ee" stroke-width="0.7" opacity="0.5"/>
<line x1="109.16" y1="211.26" x2="109.79" y2="220.52" stroke="#b8bce4" stroke-width="0.7" opacity="0.5"/>
<line x1="135.13" y1="211.61" x2="135.51" y2="221.55" stroke="#c4c8ee" stroke-width="0.7" opacity="0.5"/>
<line x1="108.35" y1="210.39" x2="108.2" y2="221.59" stroke="#c4c8ee" stroke-width="0.7" opacity="0.5"/>
<line x1="166.49" y1="209.11" x2="166.67" y2="220.33" stroke="#c4c8ee" stroke-width="0.7" opacity="0.5"/>
<line x1="114.93" y1="209.4" x2="115.1" y2="220.78" stroke="#b8bce4" stroke-width="0.7" opacity="0.5"/>
<line x1="133.22" y1="210.64" x2="133.24" y2="222.11" stroke="#b8bce4" stroke-width="0.7" opacity="0.5"/>
<line x1="108.65" y1="211.47" x2="109.1" y2="220.15" stroke="#c4c8ee" stroke-width="0.7" opacity="0.5"/>
<line x1="130.54" y1="210.11" x2="131.2" y2="222.06" stroke="#b8bce4" stroke-width="0.7" opacity="0.5"/>
<line x1="135.72" y1="209.48" x2="135.09" y2="221.6" stroke="#c4c8ee" stroke-width="0.7" opacity="0.5"/>
<line x1="113.66" y1="211.47" x2="114.34" y2="219.47" stroke="#8488b8" stroke-width="0.7" opacity="0.5"/>
<line x1="153.08" y1="209.6" x2="153.17" y2="220.99" stroke="#b8bce4" stroke-width="0.7" opacity="0.5"/>
<clipPath id="c169671"><path d="M104.9,200.99C105.48,200.97 107,201.39 108.41,200.83C109.82,200.27 111.86,198.11 113.36,197.62C114.85,197.14 115.88,197.47 117.37,197.95C118.87,198.42 120.97,200.51 122.34,200.5C123.72,200.49 124.25,198.32 125.63,197.9C127.01,197.49 129.17,197.75 130.63,198.03C132.08,198.31 133.12,199.17 134.36,199.58C135.6,200 136.62,200.3 138.07,200.54C139.52,200.78 141.44,201.23 143.08,201.03C144.72,200.83 146.44,199.62 147.9,199.34C149.36,199.05 150.71,199.64 151.84,199.32C152.96,198.99 153.33,197.59 154.65,197.4C155.97,197.21 158.08,197.71 159.74,198.19C161.41,198.67 163.22,200.08 164.67,200.3C166.11,200.52 167.09,199.92 168.41,199.52C169.72,199.13 171.82,198.25 172.56,197.95C173.31,197.65 172.84,197.76 172.9,197.73L172.9,208.8L104.9,208.8Z"/></clipPath>
<path d="M104.9,200.99C105.48,200.97 107,201.39 108.41,200.83C109.82,200.27 111.86,198.11 113.36,197.62C114.85,197.14 115.88,197.47 117.37,197.95C118.87,198.42 120.97,200.51 122.34,200.5C123.72,200.49 124.25,198.32 125.63,197.9C127.01,197.49 129.17,197.75 130.63,198.03C132.08,198.31 133.12,199.17 134.36,199.58C135.6,200 136.62,200.3 138.07,200.54C139.52,200.78 141.44,201.23 143.08,201.03C144.72,200.83 146.44,199.62 147.9,199.34C149.36,199.05 150.71,199.64 151.84,199.32C152.96,198.99 153.33,197.59 154.65,197.4C155.97,197.21 158.08,197.71 159.74,198.19C161.41,198.67 163.22,200.08 164.67,200.3C166.11,200.52 167.09,199.92 168.41,199.52C169.72,199.13 171.82,198.25 172.56,197.95C173.31,197.65 172.84,197.76 172.9,197.73L172.9,208.8L104.9,208.8Z" fill="#a89e28" stroke="none" stroke-width="0" />
<g clip-path="url(#c169671)">
<circle cx="128.35" cy="198.93" r="1.56" fill="#c8bc3c" stroke="#5e5410" stroke-width="0.6" opacity="0.6"/>
<circle cx="114.31" cy="204.7" r="1.59" fill="#c8bc3c" stroke="#5e5410" stroke-width="0.6" opacity="0.6"/>
<circle cx="155" cy="198.06" r="2.74" fill="#a89e28" stroke="#5e5410" stroke-width="0.6" opacity="0.6"/>
<circle cx="118.45" cy="208.28" r="2.62" fill="#c8bc3c" stroke="#5e5410" stroke-width="0.6" opacity="0.6"/>
<circle cx="109.38" cy="207.28" r="3.42" fill="#a89e28" stroke="#5e5410" stroke-width="0.6" opacity="0.6"/>
<circle cx="112.18" cy="199.67" r="1.74" fill="#c8bc3c" stroke="#5e5410" stroke-width="0.6" opacity="0.6"/>
<circle cx="169.45" cy="207.78" r="3.08" fill="#c8bc3c" stroke="#5e5410" stroke-width="0.6" opacity="0.6"/>
<circle cx="161" cy="204.56" r="2.1" fill="#c8bc3c" stroke="#5e5410" stroke-width="0.6" opacity="0.6"/>
<circle cx="113.92" cy="206.41" r="2.86" fill="#a89e28" stroke="#5e5410" stroke-width="0.6" opacity="0.6"/>
<circle cx="126.6" cy="202.17" r="1.54" fill="#a89e28" stroke="#5e5410" stroke-width="0.6" opacity="0.6"/>
<circle cx="168.15" cy="197.86" r="3.1" fill="#a89e28" stroke="#5e5410" stroke-width="0.6" opacity="0.6"/>
<circle cx="157.21" cy="204.22" r="2.5" fill="#a89e28" stroke="#5e5410" stroke-width="0.6" opacity="0.6"/>
<circle cx="146.94" cy="197.66" r="2.37" fill="#a89e28" stroke="#5e5410" stroke-width="0.6" opacity="0.6"/>
<circle cx="140.17" cy="198.43" r="2.48" fill="#c8bc3c" stroke="#5e5410" stroke-width="0.6" opacity="0.6"/>
<circle cx="141.48" cy="199.79" r="3.31" fill="#c8bc3c" stroke="#5e5410" stroke-width="0.6" opacity="0.6"/>
<circle cx="143.97" cy="200.6" r="2.42" fill="#c8bc3c" stroke="#5e5410" stroke-width="0.6" opacity="0.6"/>
<circle cx="118.64" cy="206.07" r="3.55" fill="#c8bc3c" stroke="#5e5410" stroke-width="0.6" opacity="0.6"/>
<circle cx="128.55" cy="198.4" r="2.96" fill="#c8bc3c" stroke="#5e5410" stroke-width="0.6" opacity="0.6"/>
<circle cx="170.67" cy="204.11" r="3.51" fill="#c8bc3c" stroke="#5e5410" stroke-width="0.6" opacity="0.6"/>
<circle cx="122.62" cy="208.15" r="2.1" fill="#c8bc3c" stroke="#5e5410" stroke-width="0.6" opacity="0.6"/>
<circle cx="168.7" cy="199.96" r="1.85" fill="#c8bc3c" stroke="#5e5410" stroke-width="0.6" opacity="0.6"/>
<circle cx="157.04" cy="202.94" r="3.58" fill="#c8bc3c" stroke="#5e5410" stroke-width="0.6" opacity="0.6"/>
<circle cx="158.41" cy="204.52" r="2.25" fill="#a89e28" stroke="#5e5410" stroke-width="0.6" opacity="0.6"/>
<circle cx="168.04" cy="207.56" r="3.06" fill="#a89e28" stroke="#5e5410" stroke-width="0.6" opacity="0.6"/>
<circle cx="165.31" cy="197.59" r="1.93" fill="#a89e28" stroke="#5e5410" stroke-width="0.6" opacity="0.6"/>
<circle cx="134.01" cy="203.57" r="1.86" fill="#c8bc3c" stroke="#5e5410" stroke-width="0.6" opacity="0.6"/>
<circle cx="120.78" cy="202.6" r="2.62" fill="#c8bc3c" stroke="#5e5410" stroke-width="0.6" opacity="0.6"/>
<circle cx="156.1" cy="204.73" r="2.23" fill="#a89e28" stroke="#5e5410" stroke-width="0.6" opacity="0.6"/>
<circle cx="140.38" cy="207.28" r="2.45" fill="#c8bc3c" stroke="#5e5410" stroke-width="0.6" opacity="0.6"/>
<circle cx="155.36" cy="199.25" r="2.42" fill="#a89e28" stroke="#5e5410" stroke-width="0.6" opacity="0.6"/>
<circle cx="144.28" cy="198.75" r="2.47" fill="#c8bc3c" stroke="#5e5410" stroke-width="0.6" opacity="0.6"/>
<circle cx="121.08" cy="199.5" r="2.13" fill="#c8bc3c" stroke="#5e5410" stroke-width="0.6" opacity="0.6"/>
<circle cx="161.1" cy="204.4" r="3.02" fill="#c8bc3c" stroke="#5e5410" stroke-width="0.6" opacity="0.6"/>
<circle cx="154.07" cy="204.23" r="2.23" fill="#c8bc3c" stroke="#5e5410" stroke-width="0.6" opacity="0.6"/>
<circle cx="127.21" cy="199.48" r="3.55" fill="#c8bc3c" stroke="#5e5410" stroke-width="0.6" opacity="0.6"/>
<circle cx="172.55" cy="199.19" r="2.88" fill="#c8bc3c" stroke="#5e5410" stroke-width="0.6" opacity="0.6"/>
<circle cx="131.03" cy="208.61" r="3.17" fill="#c8bc3c" stroke="#5e5410" stroke-width="0.6" opacity="0.6"/>
<circle cx="125.12" cy="200.45" r="1.73" fill="#c8bc3c" stroke="#5e5410" stroke-width="0.6" opacity="0.6"/>
<circle cx="123.99" cy="207.48" r="2.47" fill="#c8bc3c" stroke="#5e5410" stroke-width="0.6" opacity="0.6"/>
<circle cx="132.03" cy="206.4" r="2.96" fill="#c8bc3c" stroke="#5e5410" stroke-width="0.6" opacity="0.6"/>
<circle cx="171.6" cy="200.71" r="1.55" fill="#a89e28" stroke="#5e5410" stroke-width="0.6" opacity="0.6"/>
<circle cx="145.95" cy="201.95" r="3.06" fill="#a89e28" stroke="#5e5410" stroke-width="0.6" opacity="0.6"/>
<circle cx="152.58" cy="204.06" r="2.86" fill="#c8bc3c" stroke="#5e5410" stroke-width="0.6" opacity="0.6"/>
<circle cx="150.32" cy="204.8" r="3.34" fill="#c8bc3c" stroke="#5e5410" stroke-width="0.6" opacity="0.6"/>
<circle cx="152.51" cy="207.1" r="2.93" fill="#c8bc3c" stroke="#5e5410" stroke-width="0.6" opacity="0.6"/>
<circle cx="113.35" cy="202.27" r="2.05" fill="#c8bc3c" stroke="#5e5410" stroke-width="0.6" opacity="0.6"/>
<circle cx="111.55" cy="202.13" r="3.14" fill="#c8bc3c" stroke="#5e5410" stroke-width="0.6" opacity="0.6"/>
<circle cx="153.36" cy="199.1" r="3.28" fill="#a89e28" stroke="#5e5410" stroke-width="0.6" opacity="0.6"/>
<circle cx="135.85" cy="204.45" r="2.36" fill="#c8bc3c" stroke="#5e5410" stroke-width="0.6" opacity="0.6"/>
<circle cx="149.86" cy="207.34" r="3.38" fill="#a89e28" stroke="#5e5410" stroke-width="0.6" opacity="0.6"/>
<circle cx="157.82" cy="201.77" r="2.53" fill="#c8bc3c" stroke="#5e5410" stroke-width="0.6" opacity="0.6"/>
<circle cx="107.49" cy="203.55" r="1.84" fill="#c8bc3c" stroke="#5e5410" stroke-width="0.6" opacity="0.6"/>
<circle cx="140.21" cy="198.46" r="2.71" fill="#c8bc3c" stroke="#5e5410" stroke-width="0.6" opacity="0.6"/>
<circle cx="118.84" cy="202.77" r="1.53" fill="#a89e28" stroke="#5e5410" stroke-width="0.6" opacity="0.6"/>
<circle cx="140.37" cy="202.02" r="3.49" fill="#c8bc3c" stroke="#5e5410" stroke-width="0.6" opacity="0.6"/>
<circle cx="172.24" cy="199.41" r="2.58" fill="#c8bc3c" stroke="#5e5410" stroke-width="0.6" opacity="0.6"/>
<circle cx="154.48" cy="204.36" r="2.84" fill="#a89e28" stroke="#5e5410" stroke-width="0.6" opacity="0.6"/>
<circle cx="123.56" cy="201.9" r="1.53" fill="#a89e28" stroke="#5e5410" stroke-width="0.6" opacity="0.6"/>
<circle cx="167.15" cy="204.53" r="2.92" fill="#c8bc3c" stroke="#5e5410" stroke-width="0.6" opacity="0.6"/>
<circle cx="122.93" cy="199.88" r="3.06" fill="#c8bc3c" stroke="#5e5410" stroke-width="0.6" opacity="0.6"/>
<circle cx="170.96" cy="208.73" r="3.52" fill="#a89e28" stroke="#5e5410" stroke-width="0.6" opacity="0.6"/>
<circle cx="119.32" cy="198.79" r="3.13" fill="#c8bc3c" stroke="#5e5410" stroke-width="0.6" opacity="0.6"/>
<circle cx="118.04" cy="204.69" r="3.01" fill="#c8bc3c" stroke="#5e5410" stroke-width="0.6" opacity="0.6"/>
<circle cx="128.91" cy="204.65" r="3.22" fill="#a89e28" stroke="#5e5410" stroke-width="0.6" opacity="0.6"/>
<circle cx="136.73" cy="200.68" r="2.65" fill="#c8bc3c" stroke="#5e5410" stroke-width="0.6" opacity="0.6"/>
<circle cx="157.93" cy="202.7" r="3.15" fill="#c8bc3c" stroke="#5e5410" stroke-width="0.6" opacity="0.6"/>
<circle cx="123.08" cy="201.63" r="2.03" fill="#a89e28" stroke="#5e5410" stroke-width="0.6" opacity="0.6"/>
<circle cx="151.06" cy="202.84" r="3.19" fill="#a89e28" stroke="#5e5410" stroke-width="0.6" opacity="0.6"/>
<circle cx="129.24" cy="204.83" r="2.17" fill="#a89e28" stroke="#5e5410" stroke-width="0.6" opacity="0.6"/>
<circle cx="134.04" cy="204.63" r="2.88" fill="#a89e28" stroke="#5e5410" stroke-width="0.6" opacity="0.6"/>
<circle cx="115.29" cy="200.79" r="2.31" fill="#c8bc3c" stroke="#5e5410" stroke-width="0.6" opacity="0.6"/>
<circle cx="161.2" cy="207.72" r="3.15" fill="#c8bc3c" stroke="#5e5410" stroke-width="0.6" opacity="0.6"/>
<circle cx="140.98" cy="201.27" r="2.72" fill="#c8bc3c" stroke="#5e5410" stroke-width="0.6" opacity="0.6"/>
<circle cx="105.68" cy="208.25" r="2.88" fill="#a89e28" stroke="#5e5410" stroke-width="0.6" opacity="0.6"/>
<circle cx="146.26" cy="203.95" r="3.29" fill="#c8bc3c" stroke="#5e5410" stroke-width="0.6" opacity="0.6"/>
<circle cx="157.69" cy="201.28" r="1.82" fill="#a89e28" stroke="#5e5410" stroke-width="0.6" opacity="0.6"/>
<circle cx="158.73" cy="199.23" r="3.37" fill="#c8bc3c" stroke="#5e5410" stroke-width="0.6" opacity="0.6"/>
<circle cx="171.35" cy="198.34" r="3.39" fill="#c8bc3c" stroke="#5e5410" stroke-width="0.6" opacity="0.6"/>
<circle cx="158.49" cy="206.95" r="1.91" fill="#c8bc3c" stroke="#5e5410" stroke-width="0.6" opacity="0.6"/>
<circle cx="119.39" cy="198.2" r="3.26" fill="#c8bc3c" stroke="#5e5410" stroke-width="0.6" opacity="0.6"/>
<circle cx="164.92" cy="203.68" r="2.06" fill="#c8bc3c" stroke="#5e5410" stroke-width="0.6" opacity="0.6"/>
<circle cx="161.14" cy="202.74" r="2.67" fill="#a89e28" stroke="#5e5410" stroke-width="0.6" opacity="0.6"/>
<circle cx="136.66" cy="198.96" r="2.53" fill="#a89e28" stroke="#5e5410" stroke-width="0.6" opacity="0.6"/>
<circle cx="116.09" cy="204.2" r="3.04" fill="#c8bc3c" stroke="#5e5410" stroke-width="0.6" opacity="0.6"/>
<circle cx="162.07" cy="202.68" r="2.68" fill="#c8bc3c" stroke="#5e5410" stroke-width="0.6" opacity="0.6"/>
<circle cx="125.08" cy="202.66" r="2.39" fill="#c8bc3c" stroke="#5e5410" stroke-width="0.6" opacity="0.6"/>
<circle cx="110.03" cy="204.63" r="2.84" fill="#c8bc3c" stroke="#5e5410" stroke-width="0.6" opacity="0.6"/>
<circle cx="106.3" cy="197.83" r="3.05" fill="#a89e28" stroke="#5e5410" stroke-width="0.6" opacity="0.6"/>
<circle cx="159.88" cy="198.38" r="2.52" fill="#c8bc3c" stroke="#5e5410" stroke-width="0.6" opacity="0.6"/>
<circle cx="107.2" cy="205.56" r="2.81" fill="#a89e28" stroke="#5e5410" stroke-width="0.6" opacity="0.6"/>
<circle cx="111.32" cy="204.88" r="2.22" fill="#c8bc3c" stroke="#5e5410" stroke-width="0.6" opacity="0.6"/>
<circle cx="142.58" cy="207.79" r="2.1" fill="#a89e28" stroke="#5e5410" stroke-width="0.6" opacity="0.6"/>
<circle cx="133.62" cy="203.67" r="3.24" fill="#a89e28" stroke="#5e5410" stroke-width="0.6" opacity="0.6"/>
<circle cx="129.05" cy="202.98" r="2.2" fill="#a89e28" stroke="#5e5410" stroke-width="0.6" opacity="0.6"/>
<circle cx="164.26" cy="201.27" r="1.93" fill="#a89e28" stroke="#5e5410" stroke-width="0.6" opacity="0.6"/>
<circle cx="158.75" cy="201.11" r="2.17" fill="#a89e28" stroke="#5e5410" stroke-width="0.6" opacity="0.6"/>
<circle cx="113.57" cy="208.49" r="1.68" fill="#c8bc3c" stroke="#5e5410" stroke-width="0.6" opacity="0.6"/>
<circle cx="132.02" cy="203.67" r="2.35" fill="#c8bc3c" stroke="#5e5410" stroke-width="0.6" opacity="0.6"/>
<circle cx="108.28" cy="200.75" r="1.51" fill="#c8bc3c" stroke="#5e5410" stroke-width="0.6" opacity="0.6"/>
<circle cx="160.79" cy="202.76" r="3.11" fill="#c8bc3c" stroke="#5e5410" stroke-width="0.6" opacity="0.6"/>
<circle cx="158.55" cy="207.76" r="2.78" fill="#c8bc3c" stroke="#5e5410" stroke-width="0.6" opacity="0.6"/>
<circle cx="114.9" cy="205.05" r="2.95" fill="#c8bc3c" stroke="#5e5410" stroke-width="0.6" opacity="0.6"/>
<circle cx="110.54" cy="197.75" r="2.83" fill="#c8bc3c" stroke="#5e5410" stroke-width="0.6" opacity="0.6"/>
<circle cx="156.76" cy="198.47" r="1.88" fill="#c8bc3c" stroke="#5e5410" stroke-width="0.6" opacity="0.6"/>
<circle cx="133.57" cy="198.46" r="3.45" fill="#c8bc3c" stroke="#5e5410" stroke-width="0.6" opacity="0.6"/>
<circle cx="129.98" cy="206.76" r="3.15" fill="#c8bc3c" stroke="#5e5410" stroke-width="0.6" opacity="0.6"/>
<circle cx="153.19" cy="207.22" r="1.89" fill="#c8bc3c" stroke="#5e5410" stroke-width="0.6" opacity="0.6"/>
<circle cx="126.56" cy="202.25" r="2.85" fill="#c8bc3c" stroke="#5e5410" stroke-width="0.6" opacity="0.6"/>
<circle cx="138.75" cy="203.3" r="3.23" fill="#a89e28" stroke="#5e5410" stroke-width="0.6" opacity="0.6"/>
<circle cx="144.02" cy="207.86" r="2.44" fill="#c8bc3c" stroke="#5e5410" stroke-width="0.6" opacity="0.6"/>
<circle cx="151.14" cy="204.13" r="3.59" fill="#c8bc3c" stroke="#5e5410" stroke-width="0.6" opacity="0.6"/>
</g>
<line x1="104.9" y1="208.5" x2="172.9" y2="208.5" stroke="#c8d050" stroke-width="0.8" />
<text x="105.7" y="197.4" font-size="10" fill="#fff" text-anchor="start" font-weight="bold" font-family='"Liberation Serif",serif' >(iii)</text>
<text x="139" y="219.18" font-size="5.2" fill="#fff" text-anchor="middle" font-weight="normal" font-family='"Liberation Sans",sans-serif' >FTO</text>
<rect x="159.9" y="227" width="10" height="0.9" fill="#fff" stroke="none" stroke-width="1" />
<text x="164.9" y="225.8" font-size="3.4" fill="#fff" text-anchor="middle" font-weight="normal" font-family='"Liberation Sans",sans-serif' >500 nm</text>
<rect x="104.9" y="230.9" width="68" height="41.8" fill="#3a3a3a" stroke="none" stroke-width="1" />
<rect x="104.9" y="264.6" width="68" height="8.1" fill="#8c8c8c" stroke="none" stroke-width="1" />
<rect x="104.9" y="253.6" width="68" height="11" fill="#a3a6d2" stroke="none" stroke-width="1" />
<line x1="171.11" y1="255.03" x2="170.97" y2="264.29" stroke="#b8bce4" stroke-width="0.7" opacity="0.5"/>
<line x1="137.04" y1="256.29" x2="137.24" y2="263.32" stroke="#c4c8ee" stroke-width="0.7" opacity="0.5"/>
<line x1="151.21" y1="253.97" x2="151.96" y2="264.34" stroke="#c4c8ee" stroke-width="0.7" opacity="0.5"/>
<line x1="114.04" y1="253.65" x2="114.39" y2="263.87" stroke="#b8bce4" stroke-width="0.7" opacity="0.5"/>
<line x1="155.26" y1="256.37" x2="155.05" y2="262.36" stroke="#b8bce4" stroke-width="0.7" opacity="0.5"/>
<line x1="162.72" y1="255.79" x2="162.05" y2="262.71" stroke="#b8bce4" stroke-width="0.7" opacity="0.5"/>
<line x1="138.77" y1="255.61" x2="139.4" y2="261.86" stroke="#c4c8ee" stroke-width="0.7" opacity="0.5"/>
<line x1="153.45" y1="253.63" x2="152.68" y2="262.65" stroke="#b8bce4" stroke-width="0.7" opacity="0.5"/>
<line x1="110.74" y1="254.53" x2="111.11" y2="264.1" stroke="#8488b8" stroke-width="0.7" opacity="0.5"/>
<line x1="146.2" y1="254.55" x2="146.92" y2="262.42" stroke="#8488b8" stroke-width="0.7" opacity="0.5"/>
<line x1="150.75" y1="254.03" x2="151.23" y2="263.51" stroke="#b8bce4" stroke-width="0.7" opacity="0.5"/>
<line x1="116.39" y1="256.01" x2="116.35" y2="262.27" stroke="#8488b8" stroke-width="0.7" opacity="0.5"/>
<line x1="168.71" y1="255.95" x2="168.82" y2="263.72" stroke="#c4c8ee" stroke-width="0.7" opacity="0.5"/>
<line x1="147.06" y1="255.55" x2="147.55" y2="262.8" stroke="#b8bce4" stroke-width="0.7" opacity="0.5"/>
<line x1="154.02" y1="253.65" x2="153.46" y2="262.1" stroke="#b8bce4" stroke-width="0.7" opacity="0.5"/>
<line x1="134.11" y1="256.26" x2="133.92" y2="262.55" stroke="#b8bce4" stroke-width="0.7" opacity="0.5"/>
<line x1="157.09" y1="254.3" x2="157.01" y2="262.53" stroke="#8488b8" stroke-width="0.7" opacity="0.5"/>
<line x1="123.02" y1="254.87" x2="123.16" y2="262.15" stroke="#c4c8ee" stroke-width="0.7" opacity="0.5"/>
<line x1="124.73" y1="254.02" x2="125.36" y2="261.62" stroke="#c4c8ee" stroke-width="0.7" opacity="0.5"/>
<line x1="123.75" y1="256.15" x2="124.24" y2="262.55" stroke="#8488b8" stroke-width="0.7" opacity="0.5"/>
<line x1="128.64" y1="253.86" x2="128.73" y2="262.21" stroke="#c4c8ee" stroke-width="0.7" opacity="0.5"/>
<line x1="158.18" y1="255.77" x2="158.95" y2="263.67" stroke="#c4c8ee" stroke-width="0.7" opacity="0.5"/>
<line x1="150.8" y1="255" x2="150.33" y2="263.84" stroke="#c4c8ee" stroke-width="0.7" opacity="0.5"/>
<line x1="158.44" y1="254.98" x2="157.78" y2="262.18" stroke="#c4c8ee" stroke-width="0.7" opacity="0.5"/>
<line x1="121" y1="255.34" x2="121.64" y2="261.94" stroke="#b8bce4" stroke-width="0.7" opacity="0.5"/>
<line x1="126.91" y1="255.12" x2="126.43" y2="263.96" stroke="#c4c8ee" stroke-width="0.7" opacity="0.5"/>
<line x1="117.51" y1="255.7" x2="117.29" y2="262.91" stroke="#8488b8" stroke-width="0.7" opacity="0.5"/>
<line x1="157.64" y1="256.17" x2="157.23" y2="261.83" stroke="#8488b8" stroke-width="0.7" opacity="0.5"/>
<line x1="130.46" y1="253.92" x2="130.67" y2="262.24" stroke="#c4c8ee" stroke-width="0.7" opacity="0.5"/>
<line x1="126.56" y1="253.69" x2="126.21" y2="262.78" stroke="#c4c8ee" stroke-width="0.7" opacity="0.5"/>
<line x1="107.65" y1="256.57" x2="108.24" y2="263.14" stroke="#b8bce4" stroke-width="0.7" opacity="0.5"/>
<line x1="119.71" y1="256.38" x2="119.36" y2="264.31" stroke="#8488b8" stroke-width="0.7" opacity="0.5"/>
<line x1="156.81" y1="256.06" x2="157.55" y2="263.84" stroke="#c4c8ee" stroke-width="0.7" opacity="0.5"/>
<line x1="128.1" y1="256.58" x2="127.91" y2="264.52" stroke="#c4c8ee" stroke-width="0.7" opacity="0.5"/>
<line x1="142.74" y1="256.21" x2="142.68" y2="261.76" stroke="#c4c8ee" stroke-width="0.7" opacity="0.5"/>
<line x1="163.22" y1="255.52" x2="163.89" y2="262.48" stroke="#c4c8ee" stroke-width="0.7" opacity="0.5"/>
<line x1="122.63" y1="255.29" x2="122.86" y2="261.73" stroke="#b8bce4" stroke-width="0.7" opacity="0.5"/>
<line x1="139.34" y1="254.15" x2="139.9" y2="263.49" stroke="#c4c8ee" stroke-width="0.7" opacity="0.5"/>
<line x1="171.84" y1="254.27" x2="171.11" y2="263.83" stroke="#8488b8" stroke-width="0.7" opacity="0.5"/>
<line x1="109.37" y1="255.26" x2="108.62" y2="261.84" stroke="#8488b8" stroke-width="0.7" opacity="0.5"/>
<line x1="158.09" y1="255.73" x2="158.32" y2="261.64" stroke="#c4c8ee" stroke-width="0.7" opacity="0.5"/>
<line x1="112.17" y1="254.55" x2="111.38" y2="264" stroke="#b8bce4" stroke-width="0.7" opacity="0.5"/>
<clipPath id="c938514"><path d="M104.9,247.6C105.43,247.75 107.16,248.51 108.06,248.52C108.97,248.52 109.55,247.86 110.35,247.65C111.16,247.44 112,247.3 112.92,247.25C113.84,247.2 114.97,247.33 115.88,247.34C116.8,247.34 117.44,247.34 118.41,247.29C119.39,247.23 120.61,247.01 121.73,247.03C122.85,247.04 124.2,247.09 125.12,247.39C126.05,247.7 126.51,248.61 127.29,248.86C128.07,249.1 128.76,248.88 129.79,248.87C130.81,248.85 132.44,248.94 133.45,248.78C134.45,248.62 135.03,247.88 135.8,247.89C136.57,247.91 137.09,248.8 138.07,248.86C139.05,248.92 140.6,248.45 141.69,248.26C142.78,248.06 143.52,247.73 144.6,247.68C145.68,247.63 147.05,248.02 148.18,247.96C149.32,247.89 150.46,247.43 151.41,247.29C152.37,247.15 152.93,246.98 153.91,247.11C154.89,247.25 156.34,247.84 157.3,248.11C158.26,248.38 158.83,248.79 159.66,248.74C160.48,248.69 161.41,248.02 162.24,247.82C163.06,247.62 163.62,247.57 164.62,247.54C165.62,247.52 167.23,247.6 168.23,247.67C169.23,247.74 169.85,247.79 170.63,247.98C171.41,248.17 172.52,248.64 172.9,248.81C173.28,248.97 172.9,248.93 172.9,248.96L172.9,253.6L104.9,253.6Z"/></clipPath>
<path d="M104.9,247.6C105.43,247.75 107.16,248.51 108.06,248.52C108.97,248.52 109.55,247.86 110.35,247.65C111.16,247.44 112,247.3 112.92,247.25C113.84,247.2 114.97,247.33 115.88,247.34C116.8,247.34 117.44,247.34 118.41,247.29C119.39,247.23 120.61,247.01 121.73,247.03C122.85,247.04 124.2,247.09 125.12,247.39C126.05,247.7 126.51,248.61 127.29,248.86C128.07,249.1 128.76,248.88 129.79,248.87C130.81,248.85 132.44,248.94 133.45,248.78C134.45,248.62 135.03,247.88 135.8,247.89C136.57,247.91 137.09,248.8 138.07,248.86C139.05,248.92 140.6,248.45 141.69,248.26C142.78,248.06 143.52,247.73 144.6,247.68C145.68,247.63 147.05,248.02 148.18,247.96C149.32,247.89 150.46,247.43 151.41,247.29C152.37,247.15 152.93,246.98 153.91,247.11C154.89,247.25 156.34,247.84 157.3,248.11C158.26,248.38 158.83,248.79 159.66,248.74C160.48,248.69 161.41,248.02 162.24,247.82C163.06,247.62 163.62,247.57 164.62,247.54C165.62,247.52 167.23,247.6 168.23,247.67C169.23,247.74 169.85,247.79 170.63,247.98C171.41,248.17 172.52,248.64 172.9,248.81C173.28,248.97 172.9,248.93 172.9,248.96L172.9,253.6L104.9,253.6Z" fill="#c2c432" stroke="none" stroke-width="0" />
<g clip-path="url(#c938514)">
<circle cx="158.46" cy="253.11" r="2.68" fill="#c2c432" stroke="#8a8a18" stroke-width="0.6" opacity="0.6"/>
<circle cx="113" cy="251.98" r="3.54" fill="#c2c432" stroke="#8a8a18" stroke-width="0.6" opacity="0.6"/>
<circle cx="172.29" cy="253.59" r="3.44" fill="#dcdc50" stroke="#8a8a18" stroke-width="0.6" opacity="0.6"/>
<circle cx="131.43" cy="249.74" r="1.84" fill="#dcdc50" stroke="#8a8a18" stroke-width="0.6" opacity="0.6"/>
<circle cx="171.44" cy="247.95" r="2.84" fill="#c2c432" stroke="#8a8a18" stroke-width="0.6" opacity="0.6"/>
<circle cx="159.78" cy="249.25" r="1.79" fill="#dcdc50" stroke="#8a8a18" stroke-width="0.6" opacity="0.6"/>
<circle cx="158.59" cy="253.23" r="2.1" fill="#c2c432" stroke="#8a8a18" stroke-width="0.6" opacity="0.6"/>
<circle cx="134.5" cy="253.02" r="1.96" fill="#dcdc50" stroke="#8a8a18" stroke-width="0.6" opacity="0.6"/>
<circle cx="117.19" cy="252.57" r="2.6" fill="#dcdc50" stroke="#8a8a18" stroke-width="0.6" opacity="0.6"/>
<circle cx="153.29" cy="248.3" r="1.67" fill="#dcdc50" stroke="#8a8a18" stroke-width="0.6" opacity="0.6"/>
<circle cx="165.37" cy="251.82" r="3.1" fill="#dcdc50" stroke="#8a8a18" stroke-width="0.6" opacity="0.6"/>
<circle cx="118.91" cy="251.04" r="2.99" fill="#dcdc50" stroke="#8a8a18" stroke-width="0.6" opacity="0.6"/>
<circle cx="144.54" cy="248.34" r="1.64" fill="#dcdc50" stroke="#8a8a18" stroke-width="0.6" opacity="0.6"/>
<circle cx="140.23" cy="252.55" r="3.42" fill="#dcdc50" stroke="#8a8a18" stroke-width="0.6" opacity="0.6"/>
<circle cx="160.02" cy="249.21" r="3.27" fill="#c2c432" stroke="#8a8a18" stroke-width="0.6" opacity="0.6"/>
<circle cx="111.04" cy="249.7" r="3.1" fill="#dcdc50" stroke="#8a8a18" stroke-width="0.6" opacity="0.6"/>
<circle cx="164.2" cy="248.76" r="1.89" fill="#c2c432" stroke="#8a8a18" stroke-width="0.6" opacity="0.6"/>
<circle cx="107.39" cy="251.63" r="2.71" fill="#dcdc50" stroke="#8a8a18" stroke-width="0.6" opacity="0.6"/>
<circle cx="129.12" cy="253.15" r="3.53" fill="#dcdc50" stroke="#8a8a18" stroke-width="0.6" opacity="0.6"/>
<circle cx="113.11" cy="251.72" r="3.21" fill="#c2c432" stroke="#8a8a18" stroke-width="0.6" opacity="0.6"/>
<circle cx="157.88" cy="252.73" r="2.71" fill="#dcdc50" stroke="#8a8a18" stroke-width="0.6" opacity="0.6"/>
<circle cx="124.72" cy="247.71" r="3.03" fill="#c2c432" stroke="#8a8a18" stroke-width="0.6" opacity="0.6"/>
<circle cx="139.81" cy="250.5" r="2.63" fill="#dcdc50" stroke="#8a8a18" stroke-width="0.6" opacity="0.6"/>
<circle cx="121.46" cy="247.58" r="2.8" fill="#dcdc50" stroke="#8a8a18" stroke-width="0.6" opacity="0.6"/>
<circle cx="111.88" cy="248.65" r="3.22" fill="#dcdc50" stroke="#8a8a18" stroke-width="0.6" opacity="0.6"/>
<circle cx="106.22" cy="253.11" r="3.05" fill="#c2c432" stroke="#8a8a18" stroke-width="0.6" opacity="0.6"/>
<circle cx="106.1" cy="250.96" r="2.71" fill="#dcdc50" stroke="#8a8a18" stroke-width="0.6" opacity="0.6"/>
<circle cx="121.11" cy="249.93" r="2.24" fill="#dcdc50" stroke="#8a8a18" stroke-width="0.6" opacity="0.6"/>
<circle cx="153.66" cy="247.3" r="1.76" fill="#c2c432" stroke="#8a8a18" stroke-width="0.6" opacity="0.6"/>
<circle cx="144.74" cy="252.03" r="1.73" fill="#dcdc50" stroke="#8a8a18" stroke-width="0.6" opacity="0.6"/>
<circle cx="132.48" cy="247.9" r="2.74" fill="#dcdc50" stroke="#8a8a18" stroke-width="0.6" opacity="0.6"/>
<circle cx="114.91" cy="250.78" r="3.07" fill="#dcdc50" stroke="#8a8a18" stroke-width="0.6" opacity="0.6"/>
<circle cx="169.38" cy="247.12" r="2.83" fill="#dcdc50" stroke="#8a8a18" stroke-width="0.6" opacity="0.6"/>
<circle cx="133.49" cy="252.54" r="2.6" fill="#c2c432" stroke="#8a8a18" stroke-width="0.6" opacity="0.6"/>
<circle cx="170.89" cy="247.34" r="2.26" fill="#c2c432" stroke="#8a8a18" stroke-width="0.6" opacity="0.6"/>
<circle cx="121.25" cy="249.21" r="2.41" fill="#dcdc50" stroke="#8a8a18" stroke-width="0.6" opacity="0.6"/>
<circle cx="159.6" cy="253.02" r="3.21" fill="#dcdc50" stroke="#8a8a18" stroke-width="0.6" opacity="0.6"/>
<circle cx="108.54" cy="250.41" r="3.51" fill="#c2c432" stroke="#8a8a18" stroke-width="0.6" opacity="0.6"/>
<circle cx="121.85" cy="249.79" r="2.83" fill="#c2c432" stroke="#8a8a18" stroke-width="0.6" opacity="0.6"/>
<circle cx="112.31" cy="248.24" r="2.18" fill="#dcdc50" stroke="#8a8a18" stroke-width="0.6" opacity="0.6"/>
<circle cx="139.22" cy="247.14" r="1.79" fill="#c2c432" stroke="#8a8a18" stroke-width="0.6" opacity="0.6"/>
<circle cx="157.71" cy="253.18" r="2.83" fill="#dcdc50" stroke="#8a8a18" stroke-width="0.6" opacity="0.6"/>
<circle cx="107.24" cy="251.23" r="2.06" fill="#dcdc50" stroke="#8a8a18" stroke-width="0.6" opacity="0.6"/>
<circle cx="147.3" cy="251.15" r="3.19" fill="#dcdc50" stroke="#8a8a18" stroke-width="0.6" opacity="0.6"/>
<circle cx="147.15" cy="248.65" r="2.59" fill="#c2c432" stroke="#8a8a18" stroke-width="0.6" opacity="0.6"/>
<circle cx="120.99" cy="247.26" r="1.74" fill="#c2c432" stroke="#8a8a18" stroke-width="0.6" opacity="0.6"/>
<circle cx="148.93" cy="247.79" r="2.75" fill="#dcdc50" stroke="#8a8a18" stroke-width="0.6" opacity="0.6"/>
<circle cx="166.2" cy="247.56" r="2.74" fill="#dcdc50" stroke="#8a8a18" stroke-width="0.6" opacity="0.6"/>
<circle cx="134.82" cy="250.38" r="3.36" fill="#c2c432" stroke="#8a8a18" stroke-width="0.6" opacity="0.6"/>
<circle cx="144.16" cy="248.81" r="3.05" fill="#dcdc50" stroke="#8a8a18" stroke-width="0.6" opacity="0.6"/>
<circle cx="142.05" cy="252.54" r="2.78" fill="#dcdc50" stroke="#8a8a18" stroke-width="0.6" opacity="0.6"/>
<circle cx="119.97" cy="249.55" r="2.65" fill="#c2c432" stroke="#8a8a18" stroke-width="0.6" opacity="0.6"/>
<circle cx="136.24" cy="250.62" r="2.79" fill="#c2c432" stroke="#8a8a18" stroke-width="0.6" opacity="0.6"/>
<circle cx="160.58" cy="247.2" r="2.2" fill="#dcdc50" stroke="#8a8a18" stroke-width="0.6" opacity="0.6"/>
<circle cx="139.75" cy="249.53" r="2.73" fill="#dcdc50" stroke="#8a8a18" stroke-width="0.6" opacity="0.6"/>
<circle cx="167.75" cy="248.07" r="3.5" fill="#c2c432" stroke="#8a8a18" stroke-width="0.6" opacity="0.6"/>
<circle cx="142.75" cy="250.24" r="2.1" fill="#dcdc50" stroke="#8a8a18" stroke-width="0.6" opacity="0.6"/>
<circle cx="124.99" cy="252.1" r="1.83" fill="#dcdc50" stroke="#8a8a18" stroke-width="0.6" opacity="0.6"/>
<circle cx="146.1" cy="249.3" r="2.88" fill="#dcdc50" stroke="#8a8a18" stroke-width="0.6" opacity="0.6"/>
<circle cx="131.28" cy="249.9" r="3.04" fill="#dcdc50" stroke="#8a8a18" stroke-width="0.6" opacity="0.6"/>
<circle cx="140.32" cy="253.53" r="2.92" fill="#dcdc50" stroke="#8a8a18" stroke-width="0.6" opacity="0.6"/>
<circle cx="133.24" cy="251.41" r="1.79" fill="#dcdc50" stroke="#8a8a18" stroke-width="0.6" opacity="0.6"/>
<circle cx="146.81" cy="252.61" r="3.22" fill="#dcdc50" stroke="#8a8a18" stroke-width="0.6" opacity="0.6"/>
<circle cx="111.36" cy="252.65" r="3.44" fill="#c2c432" stroke="#8a8a18" stroke-width="0.6" opacity="0.6"/>
</g>
<line x1="104.9" y1="253.3" x2="172.9" y2="253.3" stroke="#c8d050" stroke-width="0.8" />
<text x="105.7" y="240.1" font-size="10" fill="#fff" text-anchor="start" font-weight="bold" font-family='"Liberation Serif",serif' >(iv)</text>
<text x="139" y="262.28" font-size="5.2" fill="#fff" text-anchor="middle" font-weight="normal" font-family='"Liberation Sans",sans-serif' >FTO</text>
<rect x="159.9" y="270.9" width="10" height="0.9" fill="#fff" stroke="none" stroke-width="1" />
<text x="164.9" y="269.7" font-size="3.4" fill="#fff" text-anchor="middle" font-weight="normal" font-family='"Liberation Sans",sans-serif' >500 nm</text>
<text x="191.8" y="30" font-size="17.5" fill="#111" text-anchor="start" font-weight="bold" font-family='"Liberation Serif",serif' ><tspan font-size="19.5">(</tspan>c<tspan font-size="19.5">)</tspan></text>
<line x1="223.6" y1="121.4" x2="225.4" y2="121.4" stroke="#444" stroke-width="0.8" />
<text x="222.6" y="123.42" font-size="5.6" fill="#262626" text-anchor="end" font-weight="normal" font-family='"Liberation Sans",sans-serif' stroke="#262626" stroke-width="0.22" >0.0</text>
<line x1="223.6" y1="95.8" x2="225.4" y2="95.8" stroke="#444" stroke-width="0.8" />
<text x="222.6" y="97.82" font-size="5.6" fill="#262626" text-anchor="end" font-weight="normal" font-family='"Liberation Sans",sans-serif' stroke="#262626" stroke-width="0.22" >0.5</text>
<line x1="223.6" y1="70.2" x2="225.4" y2="70.2" stroke="#444" stroke-width="0.8" />
<text x="222.6" y="72.22" font-size="5.6" fill="#262626" text-anchor="end" font-weight="normal" font-family='"Liberation Sans",sans-serif' stroke="#262626" stroke-width="0.22" >1.0</text>
<line x1="223.6" y1="44.6" x2="225.4" y2="44.6" stroke="#444" stroke-width="0.8" />
<text x="222.6" y="46.62" font-size="5.6" fill="#262626" text-anchor="end" font-weight="normal" font-family='"Liberation Sans",sans-serif' stroke="#262626" stroke-width="0.22" >1.5</text>
<line x1="223.6" y1="19" x2="225.4" y2="19" stroke="#444" stroke-width="0.8" />
<text x="222.6" y="21.02" font-size="5.6" fill="#262626" text-anchor="end" font-weight="normal" font-family='"Liberation Sans",sans-serif' stroke="#262626" stroke-width="0.22" >2.0</text>
<line x1="224.3" y1="108.6" x2="225.4" y2="108.6" stroke="#444" stroke-width="0.6" />
<line x1="224.3" y1="83" x2="225.4" y2="83" stroke="#444" stroke-width="0.6" />
<line x1="224.3" y1="57.4" x2="225.4" y2="57.4" stroke="#444" stroke-width="0.6" />
<line x1="224.3" y1="31.8" x2="225.4" y2="31.8" stroke="#444" stroke-width="0.6" />
<line x1="238" y1="124.4" x2="238" y2="126.2" stroke="#444" stroke-width="0.8" />
<text x="238" y="132.3" font-size="5.6" fill="#262626" text-anchor="middle" font-weight="normal" font-family='"Liberation Sans",sans-serif' stroke="#262626" stroke-width="0.22" >0.2</text>
<line x1="262.8" y1="124.4" x2="262.8" y2="126.2" stroke="#444" stroke-width="0.8" />
<text x="262.8" y="132.3" font-size="5.6" fill="#262626" text-anchor="middle" font-weight="normal" font-family='"Liberation Sans",sans-serif' stroke="#262626" stroke-width="0.22" >0.4</text>
<line x1="287.6" y1="124.4" x2="287.6" y2="126.2" stroke="#444" stroke-width="0.8" />
<text x="287.6" y="132.3" font-size="5.6" fill="#262626" text-anchor="middle" font-weight="normal" font-family='"Liberation Sans",sans-serif' stroke="#262626" stroke-width="0.22" >0.6</text>
<line x1="312.4" y1="124.4" x2="312.4" y2="126.2" stroke="#444" stroke-width="0.8" />
<text x="312.4" y="132.3" font-size="5.6" fill="#262626" text-anchor="middle" font-weight="normal" font-family='"Liberation Sans",sans-serif' stroke="#262626" stroke-width="0.22" >0.8</text>
<line x1="337.2" y1="124.4" x2="337.2" y2="126.2" stroke="#444" stroke-width="0.8" />
<text x="337.2" y="132.3" font-size="5.6" fill="#262626" text-anchor="middle" font-weight="normal" font-family='"Liberation Sans",sans-serif' stroke="#262626" stroke-width="0.22" >1.0</text>
<line x1="362" y1="124.4" x2="362" y2="126.2" stroke="#444" stroke-width="0.8" />
<text x="362" y="132.3" font-size="5.6" fill="#262626" text-anchor="middle" font-weight="normal" font-family='"Liberation Sans",sans-serif' stroke="#262626" stroke-width="0.22" >1.2</text>
<line x1="225.6" y1="124.4" x2="225.6" y2="125.5" stroke="#444" stroke-width="0.6" />
<line x1="250.4" y1="124.4" x2="250.4" y2="125.5" stroke="#444" stroke-width="0.6" />
<line x1="275.2" y1="124.4" x2="275.2" y2="125.5" stroke="#444" stroke-width="0.6" />
<line x1="300" y1="124.4" x2="300" y2="125.5" stroke="#444" stroke-width="0.6" />
<line x1="324.8" y1="124.4" x2="324.8" y2="125.5" stroke="#444" stroke-width="0.6" />
<line x1="349.6" y1="124.4" x2="349.6" y2="125.5" stroke="#444" stroke-width="0.6" />
<text x="294" y="141.2" font-size="6" fill="#262626" text-anchor="middle" font-weight="normal" font-family='"Liberation Sans",sans-serif' stroke="#262626" stroke-width="0.22" >E (V vs. RHE)</text>
<text transform="translate(210.5,69) rotate(-90)" font-size="6" fill="#262626" text-anchor="middle" font-family='"Liberation Sans",sans-serif' stroke="#262626" stroke-width="0.22"><tspan font-style="italic">J</tspan> (mA cm<tspan font-size="3.8" dy="-2.2">-2</tspan><tspan dy="2.2">)</tspan></text>
<path d="M225.9,124.2C226.42,123.9 227.65,122.95 229,122.4C230.35,121.85 232.17,121.33 234,120.9C235.83,120.47 238,120.13 240,119.8C242,119.47 243.9,119.15 246,118.9C248.1,118.65 249.38,117.92 252.6,118.3C255.82,118.68 257.4,120.55 265.3,121.2C273.2,121.85 288.8,121.98 300,122.2C311.2,122.42 323.95,122.67 332.5,122.5C341.05,122.33 346.15,122.12 351.3,121.2C356.45,120.28 361.38,117.7 363.4,117" fill="none" stroke="#666" stroke-width="0.9" stroke-dasharray="2.2,1.6" stroke-linejoin="round"/>
<path d="M225.9,124.2C226.42,123.9 227.65,122.95 229,122.4C230.35,121.85 232.17,121.33 234,120.9C235.83,120.47 238,120.15 240,119.8C242,119.45 243.9,119.17 246,118.8C248.1,118.43 251.16,117.77 252.6,117.6C254.04,117.43 253.95,117.78 254.62,117.76C255.29,117.75 255.96,117.58 256.64,117.48C257.31,117.39 257.98,117.31 258.65,117.22C259.33,117.13 260,117.05 260.67,116.97C261.35,116.89 262.02,116.81 262.69,116.73C263.36,116.66 264.04,116.58 264.71,116.51C265.38,116.44 266.05,116.37 266.73,116.3C267.4,116.23 268.07,116.17 268.75,116.1C269.42,116.04 270.09,115.98 270.76,115.92C271.44,115.86 272.11,115.8 272.78,115.74C273.45,115.68 274.13,115.62 274.8,115.57C275.47,115.52 276.15,115.46 276.82,115.41C277.49,115.36 278.16,115.31 278.84,115.26C279.51,115.21 280.18,115.16 280.85,115.11C281.53,115.06 282.2,115.01 282.87,114.97C283.55,114.92 284.22,114.88 284.89,114.83C285.56,114.79 286.24,114.74 286.91,114.7C287.58,114.65 288.25,114.61 288.93,114.57C289.6,114.52 290.27,114.48 290.95,114.44C291.62,114.4 292.29,114.35 292.96,114.31C293.64,114.27 294.31,114.23 294.98,114.19C295.65,114.14 296.33,114.1 297,114.06C297.67,114.02 298.35,113.97 299.02,113.93C299.69,113.89 300.36,113.84 301.04,113.8C301.71,113.76 302.38,113.71 303.05,113.67C303.73,113.62 304.4,113.57 305.07,113.53C305.75,113.48 306.42,113.43 307.09,113.39C307.76,113.34 308.44,113.29 309.11,113.24C309.78,113.19 310.45,113.13 311.13,113.08C311.8,113.03 312.47,112.97 313.15,112.92C313.82,112.86 314.49,112.81 315.16,112.75C315.84,112.69 316.51,112.63 317.18,112.57C317.85,112.51 318.53,112.44 319.2,112.38C319.87,112.31 320.55,112.25 321.22,112.18C321.89,112.11 322.56,112.04 323.24,111.96C323.91,111.89 324.58,111.82 325.25,111.74C325.93,111.66 326.6,111.58 327.27,111.5C327.95,111.42 328.62,111.33 329.29,111.25C329.96,111.16 330.64,111.07 331.31,110.98C331.98,110.88 332.65,110.79 333.33,110.68C334,110.57 334.67,110.45 335.35,110.32C336.02,110.19 336.69,110.05 337.36,109.89C338.04,109.73 338.71,109.56 339.38,109.36C340.05,109.16 340.73,108.95 341.4,108.71C342.07,108.47 342.75,108.2 343.42,107.91C344.09,107.62 344.76,107.3 345.44,106.94C346.11,106.59 346.78,106.21 347.45,105.78C348.13,105.36 348.8,104.91 349.47,104.41C350.15,103.91 350.82,103.38 351.49,102.8C352.16,102.22 352.84,101.6 353.51,100.93C354.18,100.25 354.85,99.54 355.53,98.77C356.2,98 356.87,97.18 357.55,96.3C358.22,95.43 358.89,94.5 359.56,93.51C360.24,92.52 360.91,91.58 361.58,90.36C362.25,89.15 363.26,86.89 363.6,86.2" fill="none" stroke="#7070c8" stroke-width="0.9" stroke-dasharray="2.2,1.6" stroke-linejoin="round"/>
<path d="M225.9,124.2C226.42,123.9 227.65,122.95 229,122.4C230.35,121.85 232.17,121.33 234,120.9C235.83,120.47 238,120.15 240,119.8C242,119.45 243.9,119.18 246,118.8C248.1,118.42 251.16,117.74 252.6,117.5C254.04,117.26 253.95,117.46 254.62,117.34C255.29,117.22 255.96,116.97 256.64,116.79C257.31,116.61 257.98,116.44 258.65,116.28C259.33,116.11 260,115.95 260.67,115.79C261.35,115.63 262.02,115.48 262.69,115.33C263.36,115.18 264.04,115.04 264.71,114.9C265.38,114.76 266.05,114.62 266.73,114.49C267.4,114.36 268.07,114.23 268.75,114.11C269.42,113.98 270.09,113.86 270.76,113.74C271.44,113.63 272.11,113.51 272.78,113.4C273.45,113.29 274.13,113.19 274.8,113.09C275.47,112.98 276.15,112.88 276.82,112.78C277.49,112.69 278.16,112.59 278.84,112.5C279.51,112.41 280.18,112.32 280.85,112.23C281.53,112.15 282.2,112.06 282.87,111.98C283.55,111.9 284.22,111.82 284.89,111.74C285.56,111.66 286.24,111.59 286.91,111.51C287.58,111.44 288.25,111.37 288.93,111.3C289.6,111.23 290.27,111.16 290.95,111.09C291.62,111.02 292.29,110.96 292.96,110.89C293.64,110.83 294.31,110.76 294.98,110.7C295.65,110.64 296.33,110.57 297,110.51C297.67,110.45 298.35,110.39 299.02,110.33C299.69,110.27 300.36,110.21 301.04,110.15C301.71,110.09 302.38,110.03 303.05,109.97C303.73,109.91 304.4,109.86 305.07,109.8C305.75,109.74 306.42,109.68 307.09,109.62C307.76,109.56 308.44,109.5 309.11,109.44C309.78,109.38 310.45,109.31 311.13,109.25C311.8,109.19 312.47,109.13 313.15,109.06C313.82,109 314.49,108.93 315.16,108.87C315.84,108.8 316.51,108.73 317.18,108.66C317.85,108.59 318.53,108.52 319.2,108.45C319.87,108.38 320.55,108.31 321.22,108.23C321.89,108.15 322.56,108.08 323.24,108C323.91,107.92 324.58,107.83 325.25,107.75C325.93,107.66 326.6,107.58 327.27,107.49C327.95,107.4 328.62,107.31 329.29,107.21C329.96,107.12 330.64,107.02 331.31,106.92C331.98,106.81 332.65,106.71 333.33,106.59C334,106.47 334.67,106.34 335.35,106.2C336.02,106.05 336.69,105.9 337.36,105.72C338.04,105.54 338.71,105.35 339.38,105.13C340.05,104.91 340.73,104.67 341.4,104.39C342.07,104.12 342.75,103.83 343.42,103.49C344.09,103.16 344.76,102.8 345.44,102.4C346.11,101.99 346.78,101.56 347.45,101.08C348.13,100.6 348.8,100.08 349.47,99.52C350.15,98.95 350.82,98.34 351.49,97.68C352.16,97.01 352.84,96.3 353.51,95.54C354.18,94.77 354.85,93.95 355.53,93.07C356.2,92.19 356.87,91.25 357.55,90.25C358.22,89.24 358.89,88.18 359.56,87.04C360.24,85.91 360.91,84.91 361.58,83.43C362.25,81.96 363.26,79.07 363.6,78.2" fill="none" stroke="#3c3cb4" stroke-width="1.1" stroke-linejoin="round"/>
<path d="M225.9,124.2C226.42,123.9 227.65,122.95 229,122.4C230.35,121.85 232.17,121.33 234,120.9C235.83,120.47 238,120.15 240,119.8C242,119.45 243.9,119.18 246,118.8C248.1,118.42 251.16,117.76 252.6,117.5C254.04,117.24 253.95,117.64 254.62,117.25C255.29,116.87 255.96,115.87 256.64,115.19C257.31,114.52 257.98,113.85 258.65,113.19C259.33,112.53 260,111.89 260.67,111.25C261.35,110.61 262.02,109.98 262.69,109.36C263.36,108.74 264.04,108.13 264.71,107.53C265.38,106.93 266.05,106.34 266.73,105.76C267.4,105.18 268.07,104.6 268.75,104.04C269.42,103.47 270.09,102.92 270.76,102.37C271.44,101.83 272.11,101.29 272.78,100.76C273.45,100.23 274.13,99.72 274.8,99.21C275.47,98.69 276.15,98.19 276.82,97.7C277.49,97.21 278.16,96.72 278.84,96.25C279.51,95.77 280.18,95.3 280.85,94.85C281.53,94.39 282.2,93.94 282.87,93.49C283.55,93.05 284.22,92.62 284.89,92.19C285.56,91.77 286.24,91.35 286.91,90.94C287.58,90.53 288.25,90.13 288.93,89.74C289.6,89.35 290.27,88.96 290.95,88.59C291.62,88.21 292.29,87.84 292.96,87.48C293.64,87.12 294.31,86.77 294.98,86.42C295.65,86.08 296.33,85.74 297,85.41C297.67,85.08 298.35,84.76 299.02,84.44C299.69,84.13 300.36,83.82 301.04,83.52C301.71,83.22 302.38,82.93 303.05,82.64C303.73,82.36 304.4,82.08 305.07,81.81C305.75,81.53 306.42,81.27 307.09,81.01C307.76,80.75 308.44,80.49 309.11,80.25C309.78,80 310.45,79.76 311.13,79.52C311.8,79.28 312.47,79.05 313.15,78.82C313.82,78.6 314.49,78.37 315.16,78.16C315.84,77.94 316.51,77.73 317.18,77.52C317.85,77.31 318.53,77.1 319.2,76.9C319.87,76.7 320.55,76.5 321.22,76.31C321.89,76.11 322.56,75.92 323.24,75.74C323.91,75.55 324.58,75.36 325.25,75.18C325.93,75 326.6,74.82 327.27,74.64C327.95,74.46 328.62,74.29 329.29,74.11C329.96,73.94 330.64,73.77 331.31,73.59C331.98,73.42 332.65,73.25 333.33,73.09C334,72.92 334.67,72.75 335.35,72.58C336.02,72.41 336.69,72.25 337.36,72.08C338.04,71.91 338.71,71.75 339.38,71.58C340.05,71.42 340.73,71.25 341.4,71.08C342.07,70.91 342.75,70.75 343.42,70.58C344.09,70.41 344.76,70.24 345.44,70.07C346.11,69.9 346.78,69.72 347.45,69.55C348.13,69.37 348.8,69.2 349.47,69.02C350.15,68.84 350.82,68.66 351.49,68.47C352.16,68.29 352.84,68.11 353.51,67.92C354.18,67.73 354.85,67.54 355.53,67.34C356.2,67.14 356.87,66.95 357.55,66.74C358.22,66.54 358.89,66.33 359.56,66.12C360.24,65.91 360.91,65.73 361.58,65.48C362.25,65.22 363.26,64.75 363.6,64.6" fill="none" stroke="#22a650" stroke-width="1.7" stroke-linejoin="round"/>
<path d="M225.9,124.2C226.42,123.9 227.65,122.95 229,122.4C230.35,121.85 232.17,121.33 234,120.9C235.83,120.47 238,120.15 240,119.8C242,119.45 243.9,119.18 246,118.8C248.1,118.42 251.16,117.76 252.6,117.5C254.04,117.24 253.95,117.64 254.62,117.25C255.29,116.87 255.96,115.87 256.64,115.19C257.31,114.52 257.98,113.85 258.65,113.19C259.33,112.53 260,111.89 260.67,111.25C261.35,110.61 262.02,109.98 262.69,109.36C263.36,108.74 264.04,108.13 264.71,107.53C265.38,106.93 266.05,106.34 266.73,105.76C267.4,105.18 268.07,104.6 268.75,104.04C269.42,103.47 270.09,102.92 270.76,102.37C271.44,101.83 272.11,101.29 272.78,100.76C273.45,100.23 274.13,99.72 274.8,99.21C275.47,98.69 276.15,98.19 276.82,97.7C277.49,97.21 278.16,96.72 278.84,96.25C279.51,95.77 280.18,95.3 280.85,94.85C281.53,94.39 282.2,93.94 282.87,93.49C283.55,93.05 284.22,92.62 284.89,92.19C285.56,91.77 286.24,91.35 286.91,90.94C287.58,90.53 288.25,90.13 288.93,89.74C289.6,89.35 290.27,88.96 290.95,88.59C291.62,88.21 292.29,87.84 292.96,87.48C293.64,87.12 294.31,86.77 294.98,86.42C295.65,86.08 296.33,85.74 297,85.41C297.67,85.08 298.35,84.76 299.02,84.44C299.69,84.13 300.36,83.82 301.04,83.52C301.71,83.22 302.38,82.93 303.05,82.64C303.73,82.36 304.4,82.08 305.07,81.81C305.75,81.53 306.42,81.27 307.09,81.01C307.76,80.75 308.44,80.49 309.11,80.25C309.78,80 310.45,79.76 311.13,79.52C311.8,79.28 312.47,79.05 313.15,78.82C313.82,78.6 314.49,78.37 315.16,78.16C315.84,77.94 316.51,77.73 317.18,77.52C317.85,77.31 318.53,77.1 319.2,76.9C319.87,76.7 320.55,76.5 321.22,76.31C321.89,76.11 322.56,75.92 323.24,75.74C323.91,75.55 324.58,75.36 325.25,75.18C325.93,75 326.6,74.82 327.27,74.64C327.95,74.46 328.62,74.29 329.29,74.11C329.96,73.94 330.64,73.77 331.31,73.59C331.98,73.42 332.65,73.25 333.33,73.09C334,72.92 334.67,72.75 335.35,72.58C336.02,72.41 336.69,72.25 337.36,72.08C338.04,71.91 338.71,71.75 339.38,71.58C340.05,71.42 340.73,71.25 341.4,71.08C342.07,70.91 342.75,70.75 343.42,70.58C344.09,70.41 344.76,70.24 345.44,70.07C346.11,69.9 346.78,69.72 347.45,69.55C348.13,69.37 348.8,69.2 349.47,69.02C350.15,68.84 350.82,68.66 351.49,68.47C352.16,68.29 352.84,68.11 353.51,67.92C354.18,67.73 354.85,67.54 355.53,67.34C356.2,67.14 356.87,66.95 357.55,66.74C358.22,66.54 358.89,66.33 359.56,66.12C360.24,65.91 360.91,65.73 361.58,65.48C362.25,65.22 363.26,64.75 363.6,64.6" fill="none" stroke="#7fd0a0" stroke-width="0.8" stroke-dasharray="1.5,1.5" stroke-linejoin="round"/>
<path d="M225.9,124.2C226.42,123.9 227.65,122.95 229,122.4C230.35,121.85 232.17,121.33 234,120.9C235.83,120.47 238,120.15 240,119.8C242,119.45 243.9,119.2 246,118.8C248.1,118.4 251.16,118.09 252.6,117.4C254.04,116.71 253.95,115.59 254.62,114.64C255.29,113.7 255.96,112.7 256.64,111.75C257.31,110.8 257.98,109.86 258.65,108.94C259.33,108.03 260,107.12 260.67,106.24C261.35,105.35 262.02,104.47 262.69,103.62C263.36,102.76 264.04,101.91 264.71,101.09C265.38,100.26 266.05,99.44 266.73,98.64C267.4,97.84 268.07,97.06 268.75,96.28C269.42,95.51 270.09,94.75 270.76,94.01C271.44,93.26 272.11,92.53 272.78,91.81C273.45,91.09 274.13,90.39 274.8,89.69C275.47,89 276.15,88.32 276.82,87.65C277.49,86.98 278.16,86.33 278.84,85.69C279.51,85.04 280.18,84.41 280.85,83.79C281.53,83.17 282.2,82.56 282.87,81.97C283.55,81.37 284.22,80.79 284.89,80.21C285.56,79.64 286.24,79.07 286.91,78.52C287.58,77.97 288.25,77.43 288.93,76.9C289.6,76.36 290.27,75.84 290.95,75.33C291.62,74.82 292.29,74.32 292.96,73.83C293.64,73.34 294.31,72.86 294.98,72.38C295.65,71.91 296.33,71.45 297,70.99C297.67,70.54 298.35,70.1 299.02,69.66C299.69,69.22 300.36,68.79 301.04,68.38C301.71,67.96 302.38,67.54 303.05,67.14C303.73,66.74 304.4,66.34 305.07,65.95C305.75,65.57 306.42,65.19 307.09,64.81C307.76,64.44 308.44,64.08 309.11,63.72C309.78,63.36 310.45,63.01 311.13,62.66C311.8,62.32 312.47,61.98 313.15,61.65C313.82,61.31 314.49,60.99 315.16,60.67C315.84,60.35 316.51,60.04 317.18,59.73C317.85,59.42 318.53,59.12 319.2,58.82C319.87,58.52 320.55,58.23 321.22,57.94C321.89,57.65 322.56,57.37 323.24,57.09C323.91,56.81 324.58,56.54 325.25,56.27C325.93,56 326.6,55.74 327.27,55.47C327.95,55.21 328.62,54.96 329.29,54.7C329.96,54.45 330.64,54.2 331.31,53.95C331.98,53.7 332.65,53.46 333.33,53.22C334,52.98 334.67,52.74 335.35,52.5C336.02,52.27 336.69,52.03 337.36,51.8C338.04,51.57 338.71,51.34 339.38,51.11C340.05,50.89 340.73,50.66 341.4,50.44C342.07,50.21 342.75,49.99 343.42,49.77C344.09,49.55 344.76,49.33 345.44,49.11C346.11,48.89 346.78,48.67 347.45,48.45C348.13,48.24 348.8,48.02 349.47,47.8C350.15,47.58 350.82,47.37 351.49,47.15C352.16,46.93 352.84,46.71 353.51,46.49C354.18,46.28 354.85,46.06 355.53,45.84C356.2,45.62 356.87,45.4 357.55,45.17C358.22,44.95 358.89,44.73 359.56,44.5C360.24,44.28 360.91,44.16 361.58,43.82C362.25,43.49 363.26,42.72 363.6,42.5" fill="none" stroke="#a3407e" stroke-width="1" stroke-dasharray="2.6,1.8" stroke-linejoin="round"/>
<path d="M225.9,124.2C226.42,123.9 227.65,122.95 229,122.4C230.35,121.85 232.17,121.33 234,120.9C235.83,120.47 238,120.15 240,119.8C242,119.45 243.9,119.2 246,118.8C248.1,118.4 251.16,118.09 252.6,117.4C254.04,116.71 253.95,115.7 254.62,114.66C255.29,113.61 255.96,112.29 256.64,111.13C257.31,109.97 257.98,108.84 258.65,107.73C259.33,106.61 260,105.52 260.67,104.45C261.35,103.37 262.02,102.32 262.69,101.28C263.36,100.25 264.04,99.24 264.71,98.24C265.38,97.24 266.05,96.27 266.73,95.31C267.4,94.35 268.07,93.41 268.75,92.49C269.42,91.56 270.09,90.66 270.76,89.77C271.44,88.88 272.11,88.01 272.78,87.16C273.45,86.31 274.13,85.47 274.8,84.65C275.47,83.83 276.15,83.03 276.82,82.24C277.49,81.45 278.16,80.68 278.84,79.93C279.51,79.17 280.18,78.43 280.85,77.7C281.53,76.97 282.2,76.26 282.87,75.57C283.55,74.87 284.22,74.18 284.89,73.52C285.56,72.85 286.24,72.19 286.91,71.55C287.58,70.9 288.25,70.28 288.93,69.66C289.6,69.04 290.27,68.44 290.95,67.85C291.62,67.26 292.29,66.68 292.96,66.11C293.64,65.54 294.31,64.99 294.98,64.44C295.65,63.9 296.33,63.36 297,62.84C297.67,62.32 298.35,61.8 299.02,61.3C299.69,60.8 300.36,60.31 301.04,59.83C301.71,59.34 302.38,58.87 303.05,58.41C303.73,57.94 304.4,57.49 305.07,57.04C305.75,56.6 306.42,56.16 307.09,55.73C307.76,55.3 308.44,54.88 309.11,54.47C309.78,54.05 310.45,53.65 311.13,53.25C311.8,52.85 312.47,52.46 313.15,52.08C313.82,51.69 314.49,51.31 315.16,50.94C315.84,50.57 316.51,50.2 317.18,49.84C317.85,49.48 318.53,49.12 319.2,48.77C319.87,48.42 320.55,48.08 321.22,47.74C321.89,47.4 322.56,47.06 323.24,46.73C323.91,46.39 324.58,46.07 325.25,45.74C325.93,45.42 326.6,45.1 327.27,44.78C327.95,44.46 328.62,44.14 329.29,43.83C329.96,43.52 330.64,43.21 331.31,42.9C331.98,42.59 332.65,42.28 333.33,41.98C334,41.67 334.67,41.37 335.35,41.07C336.02,40.76 336.69,40.46 337.36,40.16C338.04,39.86 338.71,39.56 339.38,39.25C340.05,38.95 340.73,38.65 341.4,38.35C342.07,38.05 342.75,37.75 343.42,37.44C344.09,37.14 344.76,36.83 345.44,36.53C346.11,36.22 346.78,35.91 347.45,35.6C348.13,35.29 348.8,34.98 349.47,34.66C350.15,34.35 350.82,34.03 351.49,33.71C352.16,33.39 352.84,33.06 353.51,32.73C354.18,32.4 354.85,32.07 355.53,31.74C356.2,31.4 356.87,31.06 357.55,30.72C358.22,30.37 358.89,30.02 359.56,29.67C360.24,29.31 360.91,28.99 361.58,28.58C362.25,28.17 363.26,27.43 363.6,27.2" fill="none" stroke="#a3407e" stroke-width="1.1" stroke-linejoin="round"/>
<rect x="225.4" y="19" width="138.2" height="105.4" fill="none" stroke="#7c7c7c" stroke-width="1" />
<text x="229.2" y="41.4" font-size="6.2" fill="#111" text-anchor="start" font-weight="bold" font-family='"Liberation Sans",sans-serif' stroke="#111" stroke-width="0.18">Porosity</text>
<line x1="229.2" y1="46.9" x2="239.7" y2="46.9" stroke="#3c3cb4" stroke-width="1.3" />
<text x="241.2" y="49" font-size="6" fill="#262626" text-anchor="start" font-weight="normal" font-family='"Liberation Sans",sans-serif' stroke="#262626" stroke-width="0.22" >80%</text>
<line x1="229.2" y1="54.35" x2="239.7" y2="54.35" stroke="#7070c8" stroke-width="1.1" stroke-dasharray="2.4,1.5" />
<text x="241.2" y="56.45" font-size="6" fill="#262626" text-anchor="start" font-weight="normal" font-family='"Liberation Sans",sans-serif' stroke="#262626" stroke-width="0.22" >80%</text>
<line x1="229.2" y1="61.8" x2="239.7" y2="61.8" stroke="#a3407e" stroke-width="1.3" />
<text x="241.2" y="63.9" font-size="6" fill="#262626" text-anchor="start" font-weight="normal" font-family='"Liberation Sans",sans-serif' stroke="#262626" stroke-width="0.22" >46%</text>
<line x1="229.2" y1="69.25" x2="239.7" y2="69.25" stroke="#a3407e" stroke-width="1.1" stroke-dasharray="2.4,1.5" />
<text x="241.2" y="71.35" font-size="6" fill="#262626" text-anchor="start" font-weight="normal" font-family='"Liberation Sans",sans-serif' stroke="#262626" stroke-width="0.22" >46%</text>
<line x1="229.2" y1="76.7" x2="239.7" y2="76.7" stroke="#22a650" stroke-width="1.9" />
<text x="241.2" y="78.8" font-size="6" fill="#262626" text-anchor="start" font-weight="normal" font-family='"Liberation Sans",sans-serif' stroke="#262626" stroke-width="0.22" >12%</text>
<line x1="229.2" y1="84.15" x2="239.7" y2="84.15" stroke="#7fd0a0" stroke-width="1.1" stroke-dasharray="2.4,1.5" />
<text x="241.2" y="86.25" font-size="6" fill="#262626" text-anchor="start" font-weight="normal" font-family='"Liberation Sans",sans-serif' stroke="#262626" stroke-width="0.22" >12%</text>
<line x1="229.2" y1="91.6" x2="239.7" y2="91.6" stroke="#666" stroke-width="1.1" stroke-dasharray="2.4,1.5" />
<text x="241.2" y="93.7" font-size="6" fill="#262626" text-anchor="start" font-weight="normal" font-family='"Liberation Sans",sans-serif' stroke="#262626" stroke-width="0.22" >dark</text>
<text x="268" y="42" font-size="6" fill="#222" text-anchor="start" font-weight="normal" font-family='"Liberation Sans",sans-serif' stroke="#222" stroke-width="0.22" >KB + Na<tspan font-size="3.8" dy="1.5">2</tspan><tspan dy="-1.5">SO</tspan><tspan font-size="3.8" dy="1.5">3</tspan></text>
<text x="367.4" y="30.2" font-size="17.5" fill="#111" text-anchor="start" font-weight="bold" font-family='"Liberation Serif",serif' ><tspan font-size="19.5">(</tspan>d<tspan font-size="19.5">)</tspan></text>
<line x1="401.5" y1="121.2" x2="403.3" y2="121.2" stroke="#444" stroke-width="0.8" />
<text x="400.5" y="123.22" font-size="5.6" fill="#262626" text-anchor="end" font-weight="normal" font-family='"Liberation Sans",sans-serif' stroke="#262626" stroke-width="0.22" >0.0</text>
<line x1="401.5" y1="95.6" x2="403.3" y2="95.6" stroke="#444" stroke-width="0.8" />
<text x="400.5" y="97.62" font-size="5.6" fill="#262626" text-anchor="end" font-weight="normal" font-family='"Liberation Sans",sans-serif' stroke="#262626" stroke-width="0.22" >0.5</text>
<line x1="401.5" y1="70" x2="403.3" y2="70" stroke="#444" stroke-width="0.8" />
<text x="400.5" y="72.02" font-size="5.6" fill="#262626" text-anchor="end" font-weight="normal" font-family='"Liberation Sans",sans-serif' stroke="#262626" stroke-width="0.22" >1.0</text>
<line x1="401.5" y1="44.4" x2="403.3" y2="44.4" stroke="#444" stroke-width="0.8" />
<text x="400.5" y="46.42" font-size="5.6" fill="#262626" text-anchor="end" font-weight="normal" font-family='"Liberation Sans",sans-serif' stroke="#262626" stroke-width="0.22" >1.5</text>
<line x1="401.5" y1="18.8" x2="403.3" y2="18.8" stroke="#444" stroke-width="0.8" />
<text x="400.5" y="20.82" font-size="5.6" fill="#262626" text-anchor="end" font-weight="normal" font-family='"Liberation Sans",sans-serif' stroke="#262626" stroke-width="0.22" >2.0</text>
<line x1="402.2" y1="108.4" x2="403.3" y2="108.4" stroke="#444" stroke-width="0.6" />
<line x1="402.2" y1="82.8" x2="403.3" y2="82.8" stroke="#444" stroke-width="0.6" />
<line x1="402.2" y1="57.2" x2="403.3" y2="57.2" stroke="#444" stroke-width="0.6" />
<line x1="402.2" y1="31.6" x2="403.3" y2="31.6" stroke="#444" stroke-width="0.6" />
<line x1="415" y1="124.2" x2="415" y2="126" stroke="#444" stroke-width="0.8" />
<text x="415" y="132.1" font-size="5.6" fill="#262626" text-anchor="middle" font-weight="normal" font-family='"Liberation Sans",sans-serif' stroke="#262626" stroke-width="0.22" >0.2</text>
<line x1="439.6" y1="124.2" x2="439.6" y2="126" stroke="#444" stroke-width="0.8" />
<text x="439.6" y="132.1" font-size="5.6" fill="#262626" text-anchor="middle" font-weight="normal" font-family='"Liberation Sans",sans-serif' stroke="#262626" stroke-width="0.22" >0.4</text>
<line x1="464.2" y1="124.2" x2="464.2" y2="126" stroke="#444" stroke-width="0.8" />
<text x="464.2" y="132.1" font-size="5.6" fill="#262626" text-anchor="middle" font-weight="normal" font-family='"Liberation Sans",sans-serif' stroke="#262626" stroke-width="0.22" >0.6</text>
<line x1="488.8" y1="124.2" x2="488.8" y2="126" stroke="#444" stroke-width="0.8" />
<text x="488.8" y="132.1" font-size="5.6" fill="#262626" text-anchor="middle" font-weight="normal" font-family='"Liberation Sans",sans-serif' stroke="#262626" stroke-width="0.22" >0.8</text>
<line x1="513.4" y1="124.2" x2="513.4" y2="126" stroke="#444" stroke-width="0.8" />
<text x="513.4" y="132.1" font-size="5.6" fill="#262626" text-anchor="middle" font-weight="normal" font-family='"Liberation Sans",sans-serif' stroke="#262626" stroke-width="0.22" >1.0</text>
<line x1="538" y1="124.2" x2="538" y2="126" stroke="#444" stroke-width="0.8" />
<text x="538" y="132.1" font-size="5.6" fill="#262626" text-anchor="middle" font-weight="normal" font-family='"Liberation Sans",sans-serif' stroke="#262626" stroke-width="0.22" >1.2</text>
<line x1="402.7" y1="124.2" x2="402.7" y2="125.3" stroke="#444" stroke-width="0.6" />
<line x1="427.3" y1="124.2" x2="427.3" y2="125.3" stroke="#444" stroke-width="0.6" />
<line x1="451.9" y1="124.2" x2="451.9" y2="125.3" stroke="#444" stroke-width="0.6" />
<line x1="476.5" y1="124.2" x2="476.5" y2="125.3" stroke="#444" stroke-width="0.6" />
<line x1="501.1" y1="124.2" x2="501.1" y2="125.3" stroke="#444" stroke-width="0.6" />
<line x1="525.7" y1="124.2" x2="525.7" y2="125.3" stroke="#444" stroke-width="0.6" />
<text x="473" y="140.6" font-size="6" fill="#262626" text-anchor="middle" font-weight="normal" font-family='"Liberation Sans",sans-serif' stroke="#262626" stroke-width="0.22" >E (V vs. RHE)</text>
<text transform="translate(387.5,69) rotate(-90)" font-size="6" fill="#262626" text-anchor="middle" font-family='"Liberation Sans",sans-serif' stroke="#262626" stroke-width="0.22"><tspan font-style="italic">J</tspan> (mA cm<tspan font-size="3.8" dy="-2.2">-2</tspan><tspan dy="2.2">)</tspan></text>
<path d="M407.6,124C408.08,123.63 409.43,122.4 410.5,121.8C411.57,121.2 412.42,120.87 414,120.4C415.58,119.93 418,119.4 420,119C422,118.6 424.12,118.25 426,118C427.88,117.75 430.08,117.42 431.3,117.5C432.52,117.58 432.65,118.32 433.33,118.51C434.01,118.7 434.69,118.58 435.36,118.62C436.04,118.65 436.72,118.7 437.39,118.74C438.07,118.78 438.75,118.83 439.43,118.88C440.1,118.93 440.78,118.98 441.46,119.03C442.13,119.08 442.81,119.14 443.49,119.19C444.17,119.25 444.84,119.31 445.52,119.37C446.2,119.43 446.87,119.49 447.55,119.56C448.23,119.62 448.91,119.69 449.58,119.75C450.26,119.82 450.94,119.89 451.61,119.96C452.29,120.02 452.97,120.09 453.65,120.16C454.32,120.24 455,120.31 455.68,120.38C456.35,120.45 457.03,120.52 457.71,120.6C458.39,120.67 459.06,120.74 459.74,120.81C460.42,120.89 461.1,120.96 461.77,121.03C462.45,121.11 463.13,121.18 463.8,121.25C464.48,121.33 465.16,121.4 465.84,121.47C466.51,121.54 467.19,121.62 467.87,121.69C468.54,121.76 469.22,121.83 469.9,121.9C470.58,121.97 471.25,122.03 471.93,122.1C472.61,122.17 473.28,122.23 473.96,122.3C474.64,122.36 475.32,122.43 475.99,122.49C476.67,122.55 477.35,122.61 478.02,122.67C478.7,122.73 479.38,122.78 480.06,122.84C480.73,122.89 481.41,122.94 482.09,122.99C482.76,123.04 483.44,123.09 484.12,123.13C484.8,123.18 485.47,123.22 486.15,123.26C486.83,123.3 487.5,123.34 488.18,123.37C488.86,123.41 489.54,123.44 490.21,123.47C490.89,123.49 491.57,123.52 492.24,123.54C492.92,123.56 493.6,123.58 494.28,123.59C494.95,123.61 495.63,123.62 496.31,123.63C496.98,123.63 497.66,123.64 498.34,123.64C499.02,123.64 499.69,123.63 500.37,123.62C501.05,123.61 501.72,123.6 502.4,123.58C503.08,123.56 503.76,123.54 504.43,123.51C505.11,123.49 505.79,123.46 506.46,123.42C507.14,123.38 507.82,123.34 508.5,123.3C509.17,123.25 509.85,123.2 510.53,123.14C511.2,123.08 511.88,123.02 512.56,122.95C513.24,122.88 513.91,122.81 514.59,122.73C515.27,122.65 515.95,122.57 516.62,122.48C517.3,122.38 517.98,122.29 518.65,122.18C519.33,122.08 520.01,121.97 520.69,121.86C521.36,121.74 522.04,121.62 522.72,121.49C523.39,121.36 524.07,121.22 524.75,121.08C525.43,120.94 526.1,120.79 526.78,120.63C527.46,120.47 528.13,120.31 528.81,120.14C529.49,119.97 530.17,119.79 530.84,119.6C531.52,119.42 532.2,119.22 532.87,119.02C533.55,118.82 534.23,118.61 534.91,118.39C535.58,118.18 536.26,117.95 536.94,117.72C537.61,117.48 538.29,117.31 538.97,116.99C539.65,116.67 540.66,116 541,115.8" fill="none" stroke="#666" stroke-width="0.9" stroke-dasharray="2.2,1.6" stroke-linejoin="round"/>
<path d="M407.6,124C408.08,123.63 409.43,122.4 410.5,121.8C411.57,121.2 412.42,120.87 414,120.4C415.58,119.93 418,119.4 420,119C422,118.6 424.12,118.25 426,118C427.88,117.75 430.08,117.43 431.3,117.5C432.52,117.57 432.65,118.26 433.33,118.4C434.01,118.54 434.69,118.37 435.36,118.35C436.04,118.34 436.72,118.32 437.39,118.31C438.07,118.3 438.75,118.29 439.43,118.29C440.1,118.28 440.78,118.27 441.46,118.27C442.13,118.26 442.81,118.26 443.49,118.26C444.17,118.25 444.84,118.25 445.52,118.25C446.2,118.25 446.87,118.25 447.55,118.25C448.23,118.26 448.91,118.26 449.58,118.26C450.26,118.27 450.94,118.27 451.61,118.27C452.29,118.28 452.97,118.28 453.65,118.29C454.32,118.29 455,118.3 455.68,118.31C456.35,118.31 457.03,118.32 457.71,118.33C458.39,118.33 459.06,118.34 459.74,118.34C460.42,118.35 461.1,118.36 461.77,118.36C462.45,118.37 463.13,118.37 463.8,118.38C464.48,118.39 465.16,118.39 465.84,118.4C466.51,118.4 467.19,118.4 467.87,118.41C468.54,118.41 469.22,118.41 469.9,118.41C470.58,118.41 471.25,118.42 471.93,118.42C472.61,118.41 473.28,118.41 473.96,118.41C474.64,118.41 475.32,118.4 475.99,118.4C476.67,118.39 477.35,118.39 478.02,118.38C478.7,118.37 479.38,118.36 480.06,118.35C480.73,118.34 481.41,118.33 482.09,118.31C482.76,118.3 483.44,118.28 484.12,118.26C484.8,118.24 485.47,118.22 486.15,118.2C486.83,118.18 487.5,118.15 488.18,118.12C488.86,118.1 489.54,118.07 490.21,118.03C490.89,118 491.57,117.97 492.24,117.93C492.92,117.89 493.6,117.85 494.28,117.81C494.95,117.77 495.63,117.72 496.31,117.67C496.98,117.63 497.66,117.57 498.34,117.52C499.02,117.47 499.69,117.41 500.37,117.35C501.05,117.29 501.72,117.22 502.4,117.15C503.08,117.09 503.76,117.02 504.43,116.94C505.11,116.87 505.79,116.79 506.46,116.71C507.14,116.63 507.82,116.54 508.5,116.45C509.17,116.36 509.85,116.27 510.53,116.17C511.2,116.07 511.88,115.97 512.56,115.87C513.24,115.76 513.91,115.65 514.59,115.54C515.27,115.42 515.95,115.3 516.62,115.18C517.3,115.05 517.98,114.92 518.65,114.78C519.33,114.64 520.01,114.5 520.69,114.34C521.36,114.18 522.04,114.02 522.72,113.83C523.39,113.65 524.07,113.46 524.75,113.25C525.43,113.05 526.1,112.83 526.78,112.59C527.46,112.35 528.13,112.09 528.81,111.82C529.49,111.54 530.17,111.25 530.84,110.94C531.52,110.63 532.2,110.29 532.87,109.94C533.55,109.58 534.23,109.2 534.91,108.8C535.58,108.39 536.26,107.96 536.94,107.51C537.61,107.05 538.29,106.69 538.97,106.06C539.65,105.42 540.66,104.09 541,103.7" fill="none" stroke="#f06a8a" stroke-width="0.9" stroke-dasharray="2.2,1.6" stroke-linejoin="round"/>
<path d="M407.6,124C408.08,123.63 409.43,122.4 410.5,121.8C411.57,121.2 412.42,120.87 414,120.4C415.58,119.93 418,119.4 420,119C422,118.6 424.12,118.25 426,118C427.88,117.75 430.08,117.52 431.3,117.5C432.52,117.48 432.65,117.93 433.33,117.9C434.01,117.86 434.69,117.51 435.36,117.31C436.04,117.11 436.72,116.91 437.39,116.7C438.07,116.5 438.75,116.29 439.43,116.08C440.1,115.87 440.78,115.66 441.46,115.44C442.13,115.23 442.81,115.01 443.49,114.8C444.17,114.58 444.84,114.36 445.52,114.14C446.2,113.93 446.87,113.71 447.55,113.49C448.23,113.27 448.91,113.05 449.58,112.83C450.26,112.62 450.94,112.4 451.61,112.18C452.29,111.97 452.97,111.75 453.65,111.54C454.32,111.33 455,111.12 455.68,110.91C456.35,110.7 457.03,110.49 457.71,110.29C458.39,110.09 459.06,109.89 459.74,109.69C460.42,109.5 461.1,109.3 461.77,109.12C462.45,108.93 463.13,108.74 463.8,108.56C464.48,108.38 465.16,108.21 465.84,108.03C466.51,107.86 467.19,107.69 467.87,107.53C468.54,107.36 469.22,107.2 469.9,107.05C470.58,106.89 471.25,106.74 471.93,106.59C472.61,106.45 473.28,106.3 473.96,106.16C474.64,106.02 475.32,105.89 475.99,105.76C476.67,105.63 477.35,105.5 478.02,105.38C478.7,105.26 479.38,105.14 480.06,105.03C480.73,104.92 481.41,104.81 482.09,104.71C482.76,104.61 483.44,104.51 484.12,104.41C484.8,104.31 485.47,104.22 486.15,104.13C486.83,104.04 487.5,103.96 488.18,103.88C488.86,103.79 489.54,103.71 490.21,103.63C490.89,103.56 491.57,103.48 492.24,103.41C492.92,103.33 493.6,103.26 494.28,103.19C494.95,103.12 495.63,103.05 496.31,102.98C496.98,102.91 497.66,102.84 498.34,102.77C499.02,102.7 499.69,102.64 500.37,102.57C501.05,102.5 501.72,102.43 502.4,102.36C503.08,102.29 503.76,102.22 504.43,102.15C505.11,102.08 505.79,102.01 506.46,101.94C507.14,101.86 507.82,101.79 508.5,101.71C509.17,101.63 509.85,101.55 510.53,101.47C511.2,101.39 511.88,101.3 512.56,101.21C513.24,101.13 513.91,101.04 514.59,100.94C515.27,100.85 515.95,100.75 516.62,100.65C517.3,100.54 517.98,100.44 518.65,100.33C519.33,100.22 520.01,100.1 520.69,99.98C521.36,99.86 522.04,99.74 522.72,99.61C523.39,99.47 524.07,99.34 524.75,99.2C525.43,99.05 526.1,98.91 526.78,98.75C527.46,98.6 528.13,98.44 528.81,98.27C529.49,98.1 530.17,97.92 530.84,97.74C531.52,97.56 532.2,97.37 532.87,97.17C533.55,96.98 534.23,96.77 534.91,96.56C535.58,96.34 536.26,96.12 536.94,95.89C537.61,95.66 538.29,95.43 538.97,95.17C539.65,94.9 540.66,94.44 541,94.3" fill="none" stroke="#f8c89a" stroke-width="0.9" stroke-dasharray="2.2,1.6" stroke-linejoin="round"/>
<path d="M407.6,124C408.08,123.63 409.43,122.4 410.5,121.8C411.57,121.2 412.42,120.87 414,120.4C415.58,119.93 418,119.4 420,119C422,118.6 424.12,118.25 426,118C427.88,117.75 430.08,117.48 431.3,117.5C432.52,117.52 432.65,118.14 433.33,118.14C434.01,118.14 434.69,117.72 435.36,117.5C436.04,117.28 436.72,117.06 437.39,116.83C438.07,116.6 438.75,116.37 439.43,116.13C440.1,115.9 440.78,115.66 441.46,115.42C442.13,115.18 442.81,114.93 443.49,114.68C444.17,114.44 444.84,114.19 445.52,113.94C446.2,113.68 446.87,113.43 447.55,113.17C448.23,112.92 448.91,112.66 449.58,112.4C450.26,112.14 450.94,111.88 451.61,111.62C452.29,111.35 452.97,111.09 453.65,110.83C454.32,110.57 455,110.3 455.68,110.04C456.35,109.77 457.03,109.51 457.71,109.24C458.39,108.98 459.06,108.72 459.74,108.45C460.42,108.19 461.1,107.93 461.77,107.67C462.45,107.41 463.13,107.15 463.8,106.89C464.48,106.63 465.16,106.37 465.84,106.12C466.51,105.86 467.19,105.61 467.87,105.36C468.54,105.11 469.22,104.86 469.9,104.61C470.58,104.36 471.25,104.12 471.93,103.88C472.61,103.64 473.28,103.4 473.96,103.17C474.64,102.94 475.32,102.71 475.99,102.48C476.67,102.26 477.35,102.04 478.02,101.82C478.7,101.6 479.38,101.39 480.06,101.18C480.73,100.97 481.41,100.77 482.09,100.57C482.76,100.37 483.44,100.18 484.12,99.99C484.8,99.81 485.47,99.63 486.15,99.45C486.83,99.28 487.5,99.11 488.18,98.94C488.86,98.78 489.54,98.62 490.21,98.48C490.89,98.33 491.57,98.18 492.24,98.05C492.92,97.91 493.6,97.79 494.28,97.67C494.95,97.55 495.63,97.43 496.31,97.33C496.98,97.23 497.66,97.13 498.34,97.04C499.02,96.96 499.69,96.88 500.37,96.81C501.05,96.74 501.72,96.68 502.4,96.62C503.08,96.57 503.76,96.52 504.43,96.47C505.11,96.43 505.79,96.39 506.46,96.35C507.14,96.3 507.82,96.27 508.5,96.23C509.17,96.19 509.85,96.15 510.53,96.11C511.2,96.06 511.88,96.02 512.56,95.97C513.24,95.91 513.91,95.86 514.59,95.79C515.27,95.73 515.95,95.66 516.62,95.57C517.3,95.49 517.98,95.4 518.65,95.29C519.33,95.19 520.01,95.07 520.69,94.94C521.36,94.81 522.04,94.66 522.72,94.5C523.39,94.33 524.07,94.15 524.75,93.95C525.43,93.75 526.1,93.53 526.78,93.29C527.46,93.05 528.13,92.78 528.81,92.5C529.49,92.21 530.17,91.9 530.84,91.56C531.52,91.22 532.2,90.86 532.87,90.47C533.55,90.07 534.23,89.65 534.91,89.2C535.58,88.75 536.26,88.27 536.94,87.75C537.61,87.23 538.29,86.81 538.97,86.1C539.65,85.39 540.66,83.93 541,83.5" fill="none" stroke="#e83848" stroke-width="1.1" stroke-linejoin="round"/>
<path d="M407.6,124C408.08,123.63 409.43,122.4 410.5,121.8C411.57,121.2 412.42,120.87 414,120.4C415.58,119.93 418,119.4 420,119C422,118.6 424.12,118.25 426,118C427.88,117.75 430.08,117.63 431.3,117.5C432.52,117.37 432.65,117.51 433.33,117.22C434.01,116.93 434.69,116.25 435.36,115.78C436.04,115.3 436.72,114.84 437.39,114.39C438.07,113.93 438.75,113.48 439.43,113.05C440.1,112.61 440.78,112.18 441.46,111.76C442.13,111.34 442.81,110.93 443.49,110.52C444.17,110.12 444.84,109.72 445.52,109.34C446.2,108.95 446.87,108.57 447.55,108.19C448.23,107.82 448.91,107.46 449.58,107.1C450.26,106.74 450.94,106.39 451.61,106.05C452.29,105.7 452.97,105.36 453.65,105.03C454.32,104.7 455,104.38 455.68,104.06C456.35,103.75 457.03,103.44 457.71,103.13C458.39,102.83 459.06,102.53 459.74,102.24C460.42,101.95 461.1,101.66 461.77,101.38C462.45,101.1 463.13,100.83 463.8,100.56C464.48,100.29 465.16,100.03 465.84,99.77C466.51,99.51 467.19,99.26 467.87,99.01C468.54,98.77 469.22,98.52 469.9,98.28C470.58,98.05 471.25,97.81 471.93,97.59C472.61,97.36 473.28,97.13 473.96,96.91C474.64,96.69 475.32,96.48 475.99,96.27C476.67,96.05 477.35,95.85 478.02,95.64C478.7,95.44 479.38,95.24 480.06,95.04C480.73,94.85 481.41,94.65 482.09,94.46C482.76,94.27 483.44,94.09 484.12,93.9C484.8,93.72 485.47,93.54 486.15,93.36C486.83,93.19 487.5,93.01 488.18,92.84C488.86,92.67 489.54,92.5 490.21,92.33C490.89,92.16 491.57,92 492.24,91.83C492.92,91.67 493.6,91.51 494.28,91.35C494.95,91.19 495.63,91.03 496.31,90.87C496.98,90.72 497.66,90.56 498.34,90.41C499.02,90.25 499.69,90.1 500.37,89.95C501.05,89.8 501.72,89.65 502.4,89.5C503.08,89.35 503.76,89.2 504.43,89.05C505.11,88.9 505.79,88.75 506.46,88.61C507.14,88.46 507.82,88.31 508.5,88.16C509.17,88.02 509.85,87.87 510.53,87.72C511.2,87.57 511.88,87.43 512.56,87.28C513.24,87.13 513.91,86.98 514.59,86.83C515.27,86.68 515.95,86.53 516.62,86.38C517.3,86.23 517.98,86.07 518.65,85.92C519.33,85.76 520.01,85.61 520.69,85.45C521.36,85.3 522.04,85.14 522.72,84.98C523.39,84.82 524.07,84.66 524.75,84.49C525.43,84.33 526.1,84.16 526.78,83.99C527.46,83.83 528.13,83.66 528.81,83.48C529.49,83.31 530.17,83.13 530.84,82.96C531.52,82.78 532.2,82.6 532.87,82.41C533.55,82.23 534.23,82.04 534.91,81.85C535.58,81.66 536.26,81.47 536.94,81.27C537.61,81.07 538.29,80.96 538.97,80.67C539.65,80.37 540.66,79.69 541,79.5" fill="none" stroke="#40b070" stroke-width="0.9" stroke-dasharray="2.2,1.6" stroke-linejoin="round"/>
<path d="M407.6,124C408.08,123.63 409.43,122.4 410.5,121.8C411.57,121.2 412.42,120.87 414,120.4C415.58,119.93 418,119.4 420,119C422,118.6 424.12,118.25 426,118C427.88,117.75 430.08,117.51 431.3,117.5C432.52,117.49 432.65,118.05 433.33,117.92C434.01,117.8 434.69,117.15 435.36,116.76C436.04,116.38 436.72,115.99 437.39,115.61C438.07,115.22 438.75,114.84 439.43,114.45C440.1,114.07 440.78,113.69 441.46,113.31C442.13,112.93 442.81,112.55 443.49,112.18C444.17,111.8 444.84,111.43 445.52,111.05C446.2,110.68 446.87,110.31 447.55,109.95C448.23,109.58 448.91,109.22 449.58,108.86C450.26,108.5 450.94,108.14 451.61,107.79C452.29,107.44 452.97,107.09 453.65,106.74C454.32,106.4 455,106.06 455.68,105.72C456.35,105.38 457.03,105.05 457.71,104.73C458.39,104.4 459.06,104.08 459.74,103.76C460.42,103.44 461.1,103.13 461.77,102.82C462.45,102.52 463.13,102.21 463.8,101.92C464.48,101.62 465.16,101.34 465.84,101.05C466.51,100.77 467.19,100.49 467.87,100.22C468.54,99.95 469.22,99.69 469.9,99.43C470.58,99.17 471.25,98.92 471.93,98.67C472.61,98.43 473.28,98.18 473.96,97.95C474.64,97.71 475.32,97.48 475.99,97.25C476.67,97.03 477.35,96.8 478.02,96.59C478.7,96.37 479.38,96.16 480.06,95.95C480.73,95.74 481.41,95.54 482.09,95.34C482.76,95.14 483.44,94.94 484.12,94.75C484.8,94.55 485.47,94.36 486.15,94.18C486.83,93.99 487.5,93.81 488.18,93.63C488.86,93.45 489.54,93.27 490.21,93.1C490.89,92.92 491.57,92.75 492.24,92.58C492.92,92.41 493.6,92.25 494.28,92.08C494.95,91.92 495.63,91.76 496.31,91.59C496.98,91.43 497.66,91.27 498.34,91.12C499.02,90.96 499.69,90.8 500.37,90.65C501.05,90.49 501.72,90.34 502.4,90.18C503.08,90.03 503.76,89.88 504.43,89.72C505.11,89.57 505.79,89.42 506.46,89.27C507.14,89.12 507.82,88.96 508.5,88.81C509.17,88.66 509.85,88.51 510.53,88.36C511.2,88.2 511.88,88.05 512.56,87.9C513.24,87.74 513.91,87.59 514.59,87.43C515.27,87.28 515.95,87.12 516.62,86.96C517.3,86.81 517.98,86.65 518.65,86.49C519.33,86.32 520.01,86.16 520.69,86C521.36,85.83 522.04,85.66 522.72,85.5C523.39,85.33 524.07,85.16 524.75,84.98C525.43,84.81 526.1,84.63 526.78,84.45C527.46,84.27 528.13,84.09 528.81,83.9C529.49,83.72 530.17,83.53 530.84,83.33C531.52,83.14 532.2,82.94 532.87,82.74C533.55,82.54 534.23,82.34 534.91,82.13C535.58,81.92 536.26,81.71 536.94,81.49C537.61,81.28 538.29,81.16 538.97,80.83C539.65,80.5 540.66,79.72 541,79.5" fill="none" stroke="#1fa050" stroke-width="1.1" stroke-linejoin="round"/>
<path d="M407.6,124C408.08,123.63 409.43,122.4 410.5,121.8C411.57,121.2 412.42,120.87 414,120.4C415.58,119.93 418,119.4 420,119C422,118.6 424.12,118.25 426,118C427.88,117.75 430.08,117.66 431.3,117.5C432.52,117.34 432.65,117.45 433.33,117.06C434.01,116.66 434.69,115.75 435.36,115.11C436.04,114.47 436.72,113.85 437.39,113.24C438.07,112.63 438.75,112.03 439.43,111.44C440.1,110.85 440.78,110.27 441.46,109.71C442.13,109.14 442.81,108.59 443.49,108.04C444.17,107.5 444.84,106.97 445.52,106.45C446.2,105.92 446.87,105.41 447.55,104.91C448.23,104.41 448.91,103.92 449.58,103.44C450.26,102.96 450.94,102.49 451.61,102.03C452.29,101.57 452.97,101.12 453.65,100.67C454.32,100.23 455,99.8 455.68,99.37C456.35,98.95 457.03,98.54 457.71,98.13C458.39,97.72 459.06,97.32 459.74,96.93C460.42,96.54 461.1,96.16 461.77,95.79C462.45,95.41 463.13,95.05 463.8,94.69C464.48,94.33 465.16,93.98 465.84,93.64C466.51,93.29 467.19,92.96 467.87,92.63C468.54,92.3 469.22,91.98 469.9,91.66C470.58,91.34 471.25,91.03 471.93,90.73C472.61,90.43 473.28,90.13 473.96,89.84C474.64,89.54 475.32,89.26 475.99,88.98C476.67,88.7 477.35,88.42 478.02,88.15C478.7,87.88 479.38,87.62 480.06,87.36C480.73,87.1 481.41,86.84 482.09,86.59C482.76,86.34 483.44,86.1 484.12,85.86C484.8,85.61 485.47,85.38 486.15,85.14C486.83,84.91 487.5,84.68 488.18,84.45C488.86,84.22 489.54,84 490.21,83.78C490.89,83.56 491.57,83.34 492.24,83.13C492.92,82.91 493.6,82.7 494.28,82.49C494.95,82.28 495.63,82.08 496.31,81.87C496.98,81.66 497.66,81.46 498.34,81.26C499.02,81.06 499.69,80.86 500.37,80.66C501.05,80.46 501.72,80.27 502.4,80.07C503.08,79.88 503.76,79.68 504.43,79.49C505.11,79.29 505.79,79.1 506.46,78.91C507.14,78.71 507.82,78.52 508.5,78.33C509.17,78.14 509.85,77.95 510.53,77.75C511.2,77.56 511.88,77.37 512.56,77.17C513.24,76.98 513.91,76.78 514.59,76.59C515.27,76.39 515.95,76.2 516.62,76C517.3,75.8 517.98,75.6 518.65,75.4C519.33,75.2 520.01,75 520.69,74.79C521.36,74.59 522.04,74.38 522.72,74.17C523.39,73.96 524.07,73.75 524.75,73.54C525.43,73.32 526.1,73.11 526.78,72.89C527.46,72.67 528.13,72.44 528.81,72.22C529.49,71.99 530.17,71.76 530.84,71.53C531.52,71.29 532.2,71.06 532.87,70.81C533.55,70.57 534.23,70.33 534.91,70.08C535.58,69.83 536.26,69.57 536.94,69.31C537.61,69.05 538.29,68.84 538.97,68.52C539.65,68.2 540.66,67.59 541,67.4" fill="none" stroke="#f5a25a" stroke-width="1.1" stroke-linejoin="round"/>
<path d="M407.6,124C408.08,123.63 409.43,122.4 410.5,121.8C411.57,121.2 412.42,120.87 414,120.4C415.58,119.93 418,119.4 420,119C422,118.6 424.12,118.25 426,118C427.88,117.75 430.08,117.81 431.3,117.5C432.52,117.19 432.65,116.65 433.33,116.17C434.01,115.69 434.69,115.15 435.36,114.61C436.04,114.07 436.72,113.5 437.39,112.92C438.07,112.34 438.75,111.73 439.43,111.11C440.1,110.49 440.78,109.85 441.46,109.2C442.13,108.54 442.81,107.87 443.49,107.19C444.17,106.51 444.84,105.81 445.52,105.1C446.2,104.39 446.87,103.67 447.55,102.94C448.23,102.21 448.91,101.47 449.58,100.72C450.26,99.97 450.94,99.22 451.61,98.46C452.29,97.7 452.97,96.93 453.65,96.16C454.32,95.39 455,94.61 455.68,93.84C456.35,93.06 457.03,92.28 457.71,91.51C458.39,90.73 459.06,89.95 459.74,89.18C460.42,88.4 461.1,87.63 461.77,86.86C462.45,86.1 463.13,85.33 463.8,84.58C464.48,83.82 465.16,83.07 465.84,82.33C466.51,81.59 467.19,80.85 467.87,80.13C468.54,79.41 469.22,78.69 469.9,77.99C470.58,77.29 471.25,76.6 471.93,75.93C472.61,75.26 473.28,74.6 473.96,73.95C474.64,73.31 475.32,72.68 475.99,72.08C476.67,71.47 477.35,70.88 478.02,70.3C478.7,69.72 479.38,69.17 480.06,68.62C480.73,68.08 481.41,67.55 482.09,67.04C482.76,66.53 483.44,66.03 484.12,65.55C484.8,65.06 485.47,64.59 486.15,64.14C486.83,63.68 487.5,63.24 488.18,62.81C488.86,62.38 489.54,61.96 490.21,61.55C490.89,61.15 491.57,60.76 492.24,60.37C492.92,59.99 493.6,59.62 494.28,59.26C494.95,58.9 495.63,58.55 496.31,58.21C496.98,57.87 497.66,57.54 498.34,57.21C499.02,56.89 499.69,56.58 500.37,56.27C501.05,55.97 501.72,55.67 502.4,55.38C503.08,55.1 503.76,54.81 504.43,54.54C505.11,54.26 505.79,54 506.46,53.73C507.14,53.47 507.82,53.22 508.5,52.97C509.17,52.72 509.85,52.47 510.53,52.23C511.2,51.99 511.88,51.75 512.56,51.52C513.24,51.29 513.91,51.06 514.59,50.83C515.27,50.61 515.95,50.39 516.62,50.17C517.3,49.95 517.98,49.73 518.65,49.51C519.33,49.3 520.01,49.08 520.69,48.87C521.36,48.66 522.04,48.44 522.72,48.23C523.39,48.02 524.07,47.81 524.75,47.59C525.43,47.38 526.1,47.17 526.78,46.95C527.46,46.73 528.13,46.52 528.81,46.3C529.49,46.08 530.17,45.86 530.84,45.64C531.52,45.41 532.2,45.19 532.87,44.96C533.55,44.73 534.23,44.49 534.91,44.26C535.58,44.02 536.26,43.78 536.94,43.53C537.61,43.28 538.29,43.04 538.97,42.77C539.65,42.5 540.66,42.05 541,41.9" fill="none" stroke="#8a5aa0" stroke-width="0.9" stroke-dasharray="2.2,1.6" stroke-linejoin="round"/>
<path d="M407.6,124C408.08,123.63 409.43,122.4 410.5,121.8C411.57,121.2 412.42,120.87 414,120.4C415.58,119.93 418,119.4 420,119C422,118.6 424.12,118.25 426,118C427.88,117.75 430.08,118.02 431.3,117.5C432.52,116.98 432.65,115.93 433.33,114.88C434.01,113.82 434.69,112.38 435.36,111.17C436.04,109.95 436.72,108.77 437.39,107.6C438.07,106.43 438.75,105.29 439.43,104.17C440.1,103.05 440.78,101.95 441.46,100.88C442.13,99.8 442.81,98.75 443.49,97.72C444.17,96.68 444.84,95.67 445.52,94.68C446.2,93.69 446.87,92.73 447.55,91.78C448.23,90.83 448.91,89.9 449.58,88.99C450.26,88.09 450.94,87.2 451.61,86.33C452.29,85.46 452.97,84.61 453.65,83.78C454.32,82.95 455,82.14 455.68,81.34C456.35,80.55 457.03,79.77 457.71,79.02C458.39,78.26 459.06,77.52 459.74,76.79C460.42,76.07 461.1,75.36 461.77,74.67C462.45,73.98 463.13,73.31 463.8,72.65C464.48,71.99 465.16,71.35 465.84,70.73C466.51,70.1 467.19,69.49 467.87,68.89C468.54,68.3 469.22,67.72 469.9,67.15C470.58,66.58 471.25,66.03 471.93,65.49C472.61,64.95 473.28,64.42 473.96,63.91C474.64,63.39 475.32,62.89 475.99,62.4C476.67,61.91 477.35,61.43 478.02,60.97C478.7,60.5 479.38,60.04 480.06,59.6C480.73,59.15 481.41,58.72 482.09,58.29C482.76,57.86 483.44,57.45 484.12,57.04C484.8,56.63 485.47,56.24 486.15,55.85C486.83,55.46 487.5,55.07 488.18,54.7C488.86,54.33 489.54,53.96 490.21,53.6C490.89,53.24 491.57,52.89 492.24,52.54C492.92,52.19 493.6,51.85 494.28,51.51C494.95,51.18 495.63,50.85 496.31,50.52C496.98,50.2 497.66,49.87 498.34,49.56C499.02,49.24 499.69,48.93 500.37,48.62C501.05,48.3 501.72,48 502.4,47.69C503.08,47.39 503.76,47.09 504.43,46.78C505.11,46.48 505.79,46.19 506.46,45.89C507.14,45.59 507.82,45.29 508.5,45C509.17,44.7 509.85,44.4 510.53,44.11C511.2,43.81 511.88,43.51 512.56,43.21C513.24,42.91 513.91,42.62 514.59,42.31C515.27,42.01 515.95,41.71 516.62,41.4C517.3,41.1 517.98,40.79 518.65,40.48C519.33,40.17 520.01,39.85 520.69,39.53C521.36,39.21 522.04,38.89 522.72,38.56C523.39,38.23 524.07,37.9 524.75,37.56C525.43,37.22 526.1,36.88 526.78,36.53C527.46,36.18 528.13,35.82 528.81,35.46C529.49,35.1 530.17,34.73 530.84,34.35C531.52,33.97 532.2,33.59 532.87,33.19C533.55,32.8 534.23,32.4 534.91,31.99C535.58,31.58 536.26,31.16 536.94,30.73C537.61,30.3 538.29,30.01 538.97,29.41C539.65,28.8 540.66,27.48 541,27.1" fill="none" stroke="#9a3aa8" stroke-width="1.1" stroke-linejoin="round"/>
<path d="M407.6,124C408.08,123.63 409.43,122.4 410.5,121.8C411.57,121.2 412.42,120.87 414,120.4C415.58,119.93 418,119.4 420,119C422,118.6 424.12,118.25 426,118C427.88,117.75 430.42,117.58 431.3,117.5" fill="none" stroke="#e8404c" stroke-width="1.6" stroke-linejoin="round"/>
<rect x="403.3" y="18.5" width="137.8" height="105.7" fill="none" stroke="#7c7c7c" stroke-width="1" />
<text x="405.2" y="42.6" font-size="6.2" fill="#222" text-anchor="start" font-weight="normal" font-family='"Liberation Sans",sans-serif' stroke="#222" stroke-width="0.22" ><tspan font-weight="bold">Porosity</tspan>, 46%</text>
<line x1="405.2" y1="47.9" x2="415.4" y2="47.9" stroke="#e83848" stroke-width="1.2" />
<text x="417.2" y="50" font-size="6" fill="#333" text-anchor="start" font-weight="normal" font-family='"Liberation Sans",sans-serif' stroke="#333" stroke-width="0.22" >60 s</text>
<line x1="405.2" y1="55.42" x2="415.4" y2="55.42" stroke="#f06a8a" stroke-width="1.2" stroke-dasharray="2.4,1.5" />
<text x="417.2" y="57.52" font-size="6" fill="#333" text-anchor="start" font-weight="normal" font-family='"Liberation Sans",sans-serif' stroke="#333" stroke-width="0.22" >60 s</text>
<line x1="405.2" y1="62.94" x2="415.4" y2="62.94" stroke="#f5a25a" stroke-width="1.2" />
<text x="417.2" y="65.04" font-size="6" fill="#333" text-anchor="start" font-weight="normal" font-family='"Liberation Sans",sans-serif' stroke="#333" stroke-width="0.22" >40 s</text>
<line x1="405.2" y1="70.46" x2="415.4" y2="70.46" stroke="#f8c89a" stroke-width="1.2" stroke-dasharray="2.4,1.5" />
<text x="417.2" y="72.56" font-size="6" fill="#333" text-anchor="start" font-weight="normal" font-family='"Liberation Sans",sans-serif' stroke="#333" stroke-width="0.22" >40 s</text>
<line x1="405.2" y1="77.98" x2="415.4" y2="77.98" stroke="#9a3aa8" stroke-width="1.2" />
<text x="417.2" y="80.08" font-size="6" fill="#333" text-anchor="start" font-weight="normal" font-family='"Liberation Sans",sans-serif' stroke="#333" stroke-width="0.22" >20 s</text>
<line x1="405.2" y1="85.5" x2="415.4" y2="85.5" stroke="#8a5aa0" stroke-width="1.2" stroke-dasharray="2.4,1.5" />
<text x="417.2" y="87.6" font-size="6" fill="#333" text-anchor="start" font-weight="normal" font-family='"Liberation Sans",sans-serif' stroke="#333" stroke-width="0.22" >20 s</text>
<line x1="405.2" y1="93.02" x2="415.4" y2="93.02" stroke="#1fa050" stroke-width="1.2" />
<text x="417.2" y="95.12" font-size="6" fill="#333" text-anchor="start" font-weight="normal" font-family='"Liberation Sans",sans-serif' stroke="#333" stroke-width="0.22" >10 s</text>
<line x1="405.2" y1="100.54" x2="415.4" y2="100.54" stroke="#40b070" stroke-width="1.2" stroke-dasharray="2.4,1.5" />
<text x="417.2" y="102.64" font-size="6" fill="#333" text-anchor="start" font-weight="normal" font-family='"Liberation Sans",sans-serif' stroke="#333" stroke-width="0.22" >10 s</text>
<line x1="405.2" y1="108.06" x2="415.4" y2="108.06" stroke="#666" stroke-width="1.2" stroke-dasharray="2.4,1.5" />
<text x="417.2" y="110.16" font-size="6" fill="#333" text-anchor="start" font-weight="normal" font-family='"Liberation Sans",sans-serif' stroke="#333" stroke-width="0.22" >dark</text>
<text x="454.4" y="42.6" font-size="6" fill="#222" text-anchor="start" font-weight="normal" font-family='"Liberation Sans",sans-serif' stroke="#222" stroke-width="0.22" >KB + Na<tspan font-size="3.8" dy="1.5">2</tspan><tspan dy="-1.5">SO</tspan><tspan font-size="3.8" dy="1.5">3</tspan></text>
<text x="192.6" y="152.6" font-size="17.5" fill="#111" text-anchor="start" font-weight="bold" font-family='"Liberation Serif",serif' ><tspan font-size="19.5">(</tspan>e<tspan font-size="19.5">)</tspan></text>
<line x1="223.7" y1="250.6" x2="225.5" y2="250.6" stroke="#444" stroke-width="0.8" />
<text x="222.7" y="252.62" font-size="5.6" fill="#262626" text-anchor="end" font-weight="normal" font-family='"Liberation Sans",sans-serif' stroke="#262626" stroke-width="0.22" >0.0</text>
<line x1="223.7" y1="217" x2="225.5" y2="217" stroke="#444" stroke-width="0.8" />
<text x="222.7" y="219.02" font-size="5.6" fill="#262626" text-anchor="end" font-weight="normal" font-family='"Liberation Sans",sans-serif' stroke="#262626" stroke-width="0.22" >0.5</text>
<line x1="223.7" y1="183.4" x2="225.5" y2="183.4" stroke="#444" stroke-width="0.8" />
<text x="222.7" y="185.42" font-size="5.6" fill="#262626" text-anchor="end" font-weight="normal" font-family='"Liberation Sans",sans-serif' stroke="#262626" stroke-width="0.22" >1.0</text>
<line x1="223.7" y1="149.8" x2="225.5" y2="149.8" stroke="#444" stroke-width="0.8" />
<text x="222.7" y="151.82" font-size="5.6" fill="#262626" text-anchor="end" font-weight="normal" font-family='"Liberation Sans",sans-serif' stroke="#262626" stroke-width="0.22" >1.5</text>
<line x1="224.4" y1="233.8" x2="225.5" y2="233.8" stroke="#444" stroke-width="0.6" />
<line x1="224.4" y1="200.2" x2="225.5" y2="200.2" stroke="#444" stroke-width="0.6" />
<line x1="224.4" y1="166.6" x2="225.5" y2="166.6" stroke="#444" stroke-width="0.6" />
<line x1="237.6" y1="254.4" x2="237.6" y2="256.2" stroke="#444" stroke-width="0.8" />
<text x="237.6" y="262.3" font-size="5.6" fill="#262626" text-anchor="middle" font-weight="normal" font-family='"Liberation Sans",sans-serif' stroke="#262626" stroke-width="0.22" >0.2</text>
<line x1="262" y1="254.4" x2="262" y2="256.2" stroke="#444" stroke-width="0.8" />
<text x="262" y="262.3" font-size="5.6" fill="#262626" text-anchor="middle" font-weight="normal" font-family='"Liberation Sans",sans-serif' stroke="#262626" stroke-width="0.22" >0.4</text>
<line x1="286.4" y1="254.4" x2="286.4" y2="256.2" stroke="#444" stroke-width="0.8" />
<text x="286.4" y="262.3" font-size="5.6" fill="#262626" text-anchor="middle" font-weight="normal" font-family='"Liberation Sans",sans-serif' stroke="#262626" stroke-width="0.22" >0.6</text>
<line x1="310.8" y1="254.4" x2="310.8" y2="256.2" stroke="#444" stroke-width="0.8" />
<text x="310.8" y="262.3" font-size="5.6" fill="#262626" text-anchor="middle" font-weight="normal" font-family='"Liberation Sans",sans-serif' stroke="#262626" stroke-width="0.22" >0.8</text>
<line x1="335.2" y1="254.4" x2="335.2" y2="256.2" stroke="#444" stroke-width="0.8" />
<text x="335.2" y="262.3" font-size="5.6" fill="#262626" text-anchor="middle" font-weight="normal" font-family='"Liberation Sans",sans-serif' stroke="#262626" stroke-width="0.22" >1.0</text>
<line x1="359.6" y1="254.4" x2="359.6" y2="256.2" stroke="#444" stroke-width="0.8" />
<text x="359.6" y="262.3" font-size="5.6" fill="#262626" text-anchor="middle" font-weight="normal" font-family='"Liberation Sans",sans-serif' stroke="#262626" stroke-width="0.22" >1.2</text>
<line x1="225.4" y1="254.4" x2="225.4" y2="255.5" stroke="#444" stroke-width="0.6" />
<line x1="249.8" y1="254.4" x2="249.8" y2="255.5" stroke="#444" stroke-width="0.6" />
<line x1="274.2" y1="254.4" x2="274.2" y2="255.5" stroke="#444" stroke-width="0.6" />
<line x1="298.6" y1="254.4" x2="298.6" y2="255.5" stroke="#444" stroke-width="0.6" />
<line x1="323" y1="254.4" x2="323" y2="255.5" stroke="#444" stroke-width="0.6" />
<line x1="347.4" y1="254.4" x2="347.4" y2="255.5" stroke="#444" stroke-width="0.6" />
<text x="294" y="270" font-size="6" fill="#262626" text-anchor="middle" font-weight="normal" font-family='"Liberation Sans",sans-serif' stroke="#262626" stroke-width="0.22" >E (V vs. RHE)</text>
<text transform="translate(210.5,200) rotate(-90)" font-size="6" fill="#262626" text-anchor="middle" font-family='"Liberation Sans",sans-serif' stroke="#262626" stroke-width="0.22">J (mA cm<tspan font-size="3.8" dy="-2.2">-2</tspan><tspan dy="2.2">)</tspan></text>
<path d="M258,251.2L311,251.2" fill="none" stroke="#b8a850" stroke-width="1" stroke-linejoin="round"/>
<path d="M241,252C250.83,251.97 279.67,251.87 300,251.8C320.33,251.73 352.5,251.63 363,251.6" fill="none" stroke="#8a7088" stroke-width="0.9" stroke-linejoin="round"/>
<path d="M239.6,254.6C240.67,254.33 243.93,253.53 246,253C248.07,252.47 249.92,251.92 252,251.4C254.08,250.88 256.33,250.42 258.5,249.9C260.67,249.38 259.38,248.18 265,248.3C270.62,248.42 283.2,250.88 292.2,250.6C301.2,250.32 310.03,248.17 319,246.6C327.97,245.03 338.67,242.55 346,241.2C353.33,239.85 360.17,238.95 363,238.5" fill="none" stroke="#8888c8" stroke-width="0.9" stroke-dasharray="2.2,1.6" stroke-linejoin="round"/>
<path d="M239.6,254.6C240.67,254.33 243.93,253.53 246,253C248.07,252.47 249.92,251.92 252,251.4C254.08,250.88 256.33,250.42 258.5,249.9C260.67,249.38 259.38,249.43 265,248.3C270.62,247.17 283.2,244.87 292.2,243.1C301.2,241.33 310.03,239.27 319,237.7C327.97,236.13 338.67,234.82 346,233.7C353.33,232.58 360.17,231.45 363,231" fill="none" stroke="#3434c0" stroke-width="1.1" stroke-linejoin="round"/>
<path d="M239.6,254.6C240.67,254.33 243.93,253.53 246,253C248.07,252.47 249.92,251.92 252,251.4C254.08,250.88 256.33,250.42 258.5,249.9C260.67,249.38 261.62,248.88 265,248.3C268.38,247.72 274.27,247.08 278.8,246.4C283.33,245.72 285.5,245.53 292.2,244.2C298.9,242.87 310.03,240.7 319,238.4C327.97,236.1 338.67,232.53 346,230.4C353.33,228.27 360.17,226.4 363,225.6" fill="none" stroke="#9878b8" stroke-width="0.9" stroke-dasharray="2.2,1.6" stroke-linejoin="round"/>
<path d="M239.6,254.6C240.67,254.33 243.93,253.53 246,253C248.07,252.47 249.92,251.92 252,251.4C254.08,250.88 256.33,250.42 258.5,249.9C260.67,249.38 261.62,249.45 265,248.3C268.38,247.15 272.03,245.32 278.8,243C285.57,240.68 296.65,237.47 305.6,234.4C314.55,231.33 322.93,227.5 332.5,224.6C342.07,221.7 357.92,218.27 363,217" fill="none" stroke="#a080b0" stroke-width="0.9" stroke-dasharray="2.2,1.6" stroke-linejoin="round"/>
<path d="M239.6,254.6C240.67,254.33 243.93,253.53 246,253C248.07,252.47 249.92,251.92 252,251.4C254.08,250.88 256.33,250.42 258.5,249.9C260.67,249.38 260.73,251 265,248.3C269.27,245.6 277.33,238.15 284.1,233.7C290.87,229.25 298.42,224.82 305.6,221.6C312.78,218.38 320.47,216.28 327.2,214.4C333.93,212.52 340.03,211.33 346,210.3C351.97,209.27 360.17,208.55 363,208.2" fill="none" stroke="#3c8c48" stroke-width="1.1" stroke-linejoin="round"/>
<path d="M239.6,254.6C240.67,254.33 243.93,253.53 246,253C248.07,252.47 249.92,251.92 252,251.4C254.08,250.88 256.33,250.42 258.5,249.9C260.67,249.38 261.62,251.45 265,248.3C268.38,245.15 273.82,236.57 278.8,231C283.78,225.43 289.08,220.05 294.9,214.9C300.72,209.75 307.43,204.58 313.7,200.1C319.97,195.62 326.67,191.35 332.5,188C338.33,184.65 343.62,182.47 348.7,180C353.78,177.53 360.62,174.33 363,173.2" fill="none" stroke="#b03a78" stroke-width="1.1" stroke-linejoin="round"/>
<path d="M239.6,254.6C240.67,254.33 243.93,253.53 246,253C248.07,252.47 249.92,251.92 252,251.4C254.08,250.88 256.33,250.42 258.5,249.9C260.67,249.38 263.92,248.57 265,248.3" fill="none" stroke="#3838c0" stroke-width="1.3" stroke-linejoin="round"/>
<rect x="225.5" y="149" width="137.7" height="105.4" fill="none" stroke="#7c7c7c" stroke-width="1" />
<clipPath id="semE"><rect x="256.3" y="158.7" width="57" height="37.8"/></clipPath>
<radialGradient id="gGr" cx="0.5" cy="0.5" r="0.55"><stop offset="0" stop-color="#8a8a8a"/><stop offset="0.75" stop-color="#7a7a7a"/><stop offset="1" stop-color="#a8a8a8"/></radialGradient>
<filter id="nz" x="0" y="0" width="1" height="1"><feTurbulence type="fractalNoise" baseFrequency="0.9" numOctaves="2" seed="3"/><feColorMatrix values="0 0 0 0 0.5  0 0 0 0 0.5  0 0 0 0 0.5  0 0 0 0.55 0"/><feComposite in2="SourceGraphic" operator="in"/></filter>
<g clip-path="url(#semE)">
<rect x="256.3" y="158.7" width="57" height="37.8" fill="#3a3a3a" stroke="none" stroke-width="1" />
<ellipse cx="264.6" cy="164" rx="7.5" ry="5.5" fill="url(#gGr)" stroke="#b8b8b8" stroke-width="0.8"/>
<ellipse cx="279.3" cy="164" rx="7.7" ry="5.5" fill="url(#gGr)" stroke="#b8b8b8" stroke-width="0.8"/>
<ellipse cx="293.3" cy="163" rx="6.3" ry="4" fill="url(#gGr)" stroke="#b8b8b8" stroke-width="0.8"/>
<ellipse cx="306.6" cy="167.5" rx="7" ry="7.5" fill="url(#gGr)" stroke="#b8b8b8" stroke-width="0.8"/>
<ellipse cx="262" cy="176" rx="5" ry="7" fill="url(#gGr)" stroke="#b8b8b8" stroke-width="0.8"/>
<ellipse cx="270.4" cy="183" rx="6.5" ry="6.5" fill="url(#gGr)" stroke="#b8b8b8" stroke-width="0.8"/>
<ellipse cx="281.2" cy="180" rx="5.8" ry="7" fill="url(#gGr)" stroke="#b8b8b8" stroke-width="0.8"/>
<ellipse cx="291.3" cy="173.5" rx="5.7" ry="5.8" fill="url(#gGr)" stroke="#b8b8b8" stroke-width="0.8"/>
<ellipse cx="296.4" cy="188.8" rx="7" ry="7" fill="url(#gGr)" stroke="#b8b8b8" stroke-width="0.8"/>
<ellipse cx="278" cy="192.5" rx="7.6" ry="4.8" fill="url(#gGr)" stroke="#b8b8b8" stroke-width="0.8"/>
<ellipse cx="307.3" cy="182.5" rx="6.3" ry="9.5" fill="url(#gGr)" stroke="#b8b8b8" stroke-width="0.8"/>
<ellipse cx="262" cy="191" rx="6" ry="5" fill="url(#gGr)" stroke="#b8b8b8" stroke-width="0.8"/>
<rect x="256.3" y="158.7" width="57" height="37.8" fill="#fff" stroke="none" stroke-width="1" filter="url(#nz)" opacity="0.5"/>
</g>
<rect x="296" y="193.2" width="15.5" height="1.3" fill="#fff" stroke="none" stroke-width="1" />
<text x="230.4" y="173" font-size="6.2" fill="#111" text-anchor="start" font-weight="bold" font-family='"Liberation Sans",sans-serif' stroke="#111" stroke-width="0.18">Porosity</text>
<line x1="231" y1="178.6" x2="241" y2="178.6" stroke="#3434c0" stroke-width="1" />
<text x="242.5" y="180.7" font-size="6" fill="#333" text-anchor="start" font-weight="normal" font-family='"Liberation Sans",sans-serif' stroke="#333" stroke-width="0.22" >80%</text>
<line x1="231" y1="185.97" x2="241" y2="185.97" stroke="#8888c8" stroke-width="1" stroke-dasharray="2.4,1.5" />
<text x="242.5" y="188.07" font-size="6" fill="#333" text-anchor="start" font-weight="normal" font-family='"Liberation Sans",sans-serif' stroke="#333" stroke-width="0.22" >80%</text>
<line x1="231" y1="193.34" x2="241" y2="193.34" stroke="#b03a78" stroke-width="1" />
<text x="242.5" y="195.44" font-size="6" fill="#333" text-anchor="start" font-weight="normal" font-family='"Liberation Sans",sans-serif' stroke="#333" stroke-width="0.22" >46%</text>
<line x1="231" y1="200.71" x2="241" y2="200.71" stroke="#a080b0" stroke-width="1" stroke-dasharray="2.4,1.5" />
<text x="242.5" y="202.81" font-size="6" fill="#333" text-anchor="start" font-weight="normal" font-family='"Liberation Sans",sans-serif' stroke="#333" stroke-width="0.22" >46%</text>
<line x1="231" y1="208.08" x2="241" y2="208.08" stroke="#3c8c48" stroke-width="1" />
<text x="242.5" y="210.18" font-size="6" fill="#333" text-anchor="start" font-weight="normal" font-family='"Liberation Sans",sans-serif' stroke="#333" stroke-width="0.22" >12%</text>
<line x1="231" y1="215.45" x2="241" y2="215.45" stroke="#9878b8" stroke-width="1" stroke-dasharray="2.4,1.5" />
<text x="242.5" y="217.55" font-size="6" fill="#333" text-anchor="start" font-weight="normal" font-family='"Liberation Sans",sans-serif' stroke="#333" stroke-width="0.22" >12%</text>
<line x1="231" y1="222.82" x2="241" y2="222.82" stroke="#b8a850" stroke-width="1" />
<text x="242.5" y="224.92" font-size="6" fill="#333" text-anchor="start" font-weight="normal" font-family='"Liberation Sans",sans-serif' stroke="#333" stroke-width="0.22" >dark</text>
<line x1="231" y1="230.19" x2="241" y2="230.19" stroke="#8a7088" stroke-width="1" />
<text x="242.5" y="232.29" font-size="6" fill="#333" text-anchor="start" font-weight="normal" font-family='"Liberation Sans",sans-serif' stroke="#333" stroke-width="0.22" >dark</text>
<text x="330.2" y="157.8" font-size="6.3" fill="#333" text-anchor="middle" font-weight="normal" font-family='"Liberation Sans",sans-serif' stroke="#333" stroke-width="0.22" >BiVO<tspan font-size="4.2" dy="1.5">4</tspan><tspan dy="-1.5">\FeOOH\NiOOH</tspan></text>
<text x="330.2" y="166.6" font-size="6.2" fill="#333" text-anchor="middle" font-weight="normal" font-family='"Liberation Sans",sans-serif' stroke="#333" stroke-width="0.22" >in KB</text>
<text x="368.1" y="152.5" font-size="17.5" fill="#111" text-anchor="start" font-weight="bold" font-family='"Liberation Serif",serif' ><tspan font-size="19.5">(</tspan>f<tspan font-size="19.5">)</tspan></text>
<line x1="401.5" y1="253.6" x2="403.3" y2="253.6" stroke="#444" stroke-width="0.8" />
<text x="400.5" y="255.62" font-size="5.6" fill="#262626" text-anchor="end" font-weight="normal" font-family='"Liberation Sans",sans-serif' stroke="#262626" stroke-width="0.22" >0.0</text>
<line x1="401.5" y1="218.85" x2="403.3" y2="218.85" stroke="#444" stroke-width="0.8" />
<text x="400.5" y="220.87" font-size="5.6" fill="#262626" text-anchor="end" font-weight="normal" font-family='"Liberation Sans",sans-serif' stroke="#262626" stroke-width="0.22" >0.5</text>
<line x1="401.5" y1="184.1" x2="403.3" y2="184.1" stroke="#444" stroke-width="0.8" />
<text x="400.5" y="186.12" font-size="5.6" fill="#262626" text-anchor="end" font-weight="normal" font-family='"Liberation Sans",sans-serif' stroke="#262626" stroke-width="0.22" >1.0</text>
<line x1="401.5" y1="149.35" x2="403.3" y2="149.35" stroke="#444" stroke-width="0.8" />
<text x="400.5" y="151.37" font-size="5.6" fill="#262626" text-anchor="end" font-weight="normal" font-family='"Liberation Sans",sans-serif' stroke="#262626" stroke-width="0.22" >1.5</text>
<line x1="402.2" y1="236.22" x2="403.3" y2="236.22" stroke="#444" stroke-width="0.6" />
<line x1="402.2" y1="201.47" x2="403.3" y2="201.47" stroke="#444" stroke-width="0.6" />
<line x1="402.2" y1="166.72" x2="403.3" y2="166.72" stroke="#444" stroke-width="0.6" />
<line x1="405.3" y1="254.2" x2="405.3" y2="256" stroke="#444" stroke-width="0.8" />
<text x="405.3" y="262.1" font-size="5.6" fill="#262626" text-anchor="middle" font-weight="normal" font-family='"Liberation Sans",sans-serif' stroke="#262626" stroke-width="0.22" >0</text>
<line x1="427.95" y1="254.2" x2="427.95" y2="256" stroke="#444" stroke-width="0.8" />
<text x="427.95" y="262.1" font-size="5.6" fill="#262626" text-anchor="middle" font-weight="normal" font-family='"Liberation Sans",sans-serif' stroke="#262626" stroke-width="0.22" >100</text>
<line x1="450.6" y1="254.2" x2="450.6" y2="256" stroke="#444" stroke-width="0.8" />
<text x="450.6" y="262.1" font-size="5.6" fill="#262626" text-anchor="middle" font-weight="normal" font-family='"Liberation Sans",sans-serif' stroke="#262626" stroke-width="0.22" >200</text>
<line x1="473.25" y1="254.2" x2="473.25" y2="256" stroke="#444" stroke-width="0.8" />
<text x="473.25" y="262.1" font-size="5.6" fill="#262626" text-anchor="middle" font-weight="normal" font-family='"Liberation Sans",sans-serif' stroke="#262626" stroke-width="0.22" >300</text>
<line x1="495.9" y1="254.2" x2="495.9" y2="256" stroke="#444" stroke-width="0.8" />
<text x="495.9" y="262.1" font-size="5.6" fill="#262626" text-anchor="middle" font-weight="normal" font-family='"Liberation Sans",sans-serif' stroke="#262626" stroke-width="0.22" >400</text>
<line x1="518.55" y1="254.2" x2="518.55" y2="256" stroke="#444" stroke-width="0.8" />
<text x="518.55" y="262.1" font-size="5.6" fill="#262626" text-anchor="middle" font-weight="normal" font-family='"Liberation Sans",sans-serif' stroke="#262626" stroke-width="0.22" >500</text>
<line x1="541.2" y1="254.2" x2="541.2" y2="256" stroke="#444" stroke-width="0.8" />
<text x="541.2" y="262.1" font-size="5.6" fill="#262626" text-anchor="middle" font-weight="normal" font-family='"Liberation Sans",sans-serif' stroke="#262626" stroke-width="0.22" >600</text>
<line x1="416.62" y1="254.2" x2="416.62" y2="255.3" stroke="#444" stroke-width="0.6" />
<line x1="439.28" y1="254.2" x2="439.28" y2="255.3" stroke="#444" stroke-width="0.6" />
<line x1="461.93" y1="254.2" x2="461.93" y2="255.3" stroke="#444" stroke-width="0.6" />
<line x1="484.58" y1="254.2" x2="484.58" y2="255.3" stroke="#444" stroke-width="0.6" />
<line x1="507.23" y1="254.2" x2="507.23" y2="255.3" stroke="#444" stroke-width="0.6" />
<line x1="529.88" y1="254.2" x2="529.88" y2="255.3" stroke="#444" stroke-width="0.6" />
<text x="472.6" y="269.3" font-size="6" fill="#262626" text-anchor="middle" font-weight="normal" font-family='"Liberation Sans",sans-serif' stroke="#262626" stroke-width="0.22" >Time (s)</text>
<text transform="translate(387.5,204) rotate(-90)" font-size="6" fill="#262626" text-anchor="middle" font-family='"Liberation Sans",sans-serif' stroke="#262626" stroke-width="0.22">J (mA cm<tspan font-size="3.8" dy="-2.2">-2</tspan><tspan dy="2.2">)</tspan></text>
<path d="M405.4,168.5C405.58,169.08 405.73,171.08 406.5,172C407.27,172.92 408.58,173.5 410,174C411.42,174.5 413.67,174.8 415,175C416.33,175.2 417,174.9 418,175.2C419,175.5 418.17,176.25 421,176.8C423.83,177.35 430.13,177.97 435,178.5C439.87,179.03 447.67,179.75 450.2,180" fill="none" stroke="#b0407e" stroke-width="1" />
<path d="M455.2,180C457.67,180.27 465.03,181.13 470,181.6C474.97,182.07 481.83,182.87 485,182.8C488.17,182.73 487.67,181.37 489,181.2C490.33,181.03 489.5,181.45 493,181.8C496.5,182.15 502,182.67 510,183.3C518,183.93 535.83,185.22 541,185.6" fill="none" stroke="#b0407e" stroke-width="1" />
<path d="M405.3,186C405.75,186.5 406.38,188.12 408,189C409.62,189.88 411.33,190.47 415,191.3C418.67,192.13 424.07,193.22 430,194C435.93,194.78 447.17,195.67 450.6,196" fill="none" stroke="#24a064" stroke-width="1" />
<path d="M455,196C459.17,196.3 470.83,197.3 480,197.8C489.17,198.3 499.83,198.6 510,199C520.17,199.4 535.83,200 541,200.2" fill="none" stroke="#24a064" stroke-width="1" />
<path d="M405,218.5C405.25,219.42 405.67,222.67 406.5,224C407.33,225.33 407.75,225.6 410,226.5C412.25,227.4 415.83,228.48 420,229.4C424.17,230.32 429.83,231.27 435,232C440.17,232.73 448.33,233.5 451,233.8" fill="none" stroke="#3a3ab8" stroke-width="1" />
<path d="M455.5,233.5C457.92,233.75 462.58,234.48 470,235C477.42,235.52 488.17,236.07 500,236.6C511.83,237.13 534.17,237.93 541,238.2" fill="none" stroke="#3a3ab8" stroke-width="1" />
<path d="M405.2,253.6V168.5" fill="none" stroke="#6a48b0" stroke-width="1" />
<path d="M450.3,180V253.6M451.4,196V253.6" fill="none" stroke="#6a48b0" stroke-width="0.9" />
<path d="M455.3,253.6V180" fill="none" stroke="#6a48b0" stroke-width="1" />
<rect x="403.3" y="148.4" width="138" height="105.8" fill="none" stroke="#7c7c7c" stroke-width="1" />
<text x="486" y="177.8" font-size="6.2" fill="#b0407e" text-anchor="start" font-weight="normal" font-family='"Liberation Sans",sans-serif' stroke="#b0407e" stroke-width="0.22" >46% <tspan font-weight="bold">Porosity</tspan></text>
<text x="486" y="195.3" font-size="6.2" fill="#1f9a5c" text-anchor="start" font-weight="normal" font-family='"Liberation Sans",sans-serif' stroke="#1f9a5c" stroke-width="0.22" >12% <tspan font-weight="bold">Porosity</tspan></text>
<text x="486" y="233.2" font-size="6.2" fill="#3a3ab8" text-anchor="start" font-weight="normal" font-family='"Liberation Sans",sans-serif' stroke="#3a3ab8" stroke-width="0.22" >80% <tspan font-weight="bold">Porosity</tspan></text>
<text x="445" y="171" font-size="5.6" fill="#333" text-anchor="middle" font-weight="normal" font-family='"Liberation Sans",sans-serif' stroke="#333" stroke-width="0.22" >light off</text>
<line x1="446" y1="172.5" x2="450.2" y2="178.5" stroke="#333" stroke-width="0.6" />
<text x="420.5" y="245" font-size="5.6" fill="#333" text-anchor="middle" font-weight="normal" font-family='"Liberation Sans",sans-serif' stroke="#333" stroke-width="0.22" >light on</text>
<line x1="411.5" y1="249.5" x2="406.5" y2="253" stroke="#333" stroke-width="0.6" />
<text x="470.5" y="245.2" font-size="5.6" fill="#333" text-anchor="middle" font-weight="normal" font-family='"Liberation Sans",sans-serif' stroke="#333" stroke-width="0.22" >light on</text>
<line x1="461" y1="250.5" x2="456.5" y2="253" stroke="#333" stroke-width="0.6" />
<text x="3.1" y="284.5" font-size="17.5" fill="#111" text-anchor="start" font-weight="bold" font-family='"Liberation Serif",serif' ><tspan font-size="19.5">(</tspan>g<tspan font-size="19.5">)</tspan></text>
<line x1="51.5" y1="384.05" x2="53.3" y2="384.05" stroke="#444" stroke-width="0.8" />
<text x="49.9" y="386.28" font-size="6.2" fill="#262626" text-anchor="end" font-weight="normal" font-family='"Liberation Sans",sans-serif' stroke="#262626" stroke-width="0.22" >-30</text>
<line x1="51.5" y1="352.5" x2="53.3" y2="352.5" stroke="#444" stroke-width="0.8" />
<text x="49.9" y="354.73" font-size="6.2" fill="#262626" text-anchor="end" font-weight="normal" font-family='"Liberation Sans",sans-serif' stroke="#262626" stroke-width="0.22" >-20</text>
<line x1="51.5" y1="320.95" x2="53.3" y2="320.95" stroke="#444" stroke-width="0.8" />
<text x="49.9" y="323.18" font-size="6.2" fill="#262626" text-anchor="end" font-weight="normal" font-family='"Liberation Sans",sans-serif' stroke="#262626" stroke-width="0.22" >-10</text>
<line x1="51.5" y1="289.4" x2="53.3" y2="289.4" stroke="#444" stroke-width="0.8" />
<text x="49.9" y="291.63" font-size="6.2" fill="#262626" text-anchor="end" font-weight="normal" font-family='"Liberation Sans",sans-serif' stroke="#262626" stroke-width="0.22" >0</text>
<line x1="52.2" y1="368.27" x2="53.3" y2="368.27" stroke="#444" stroke-width="0.6" />
<line x1="52.2" y1="336.72" x2="53.3" y2="336.72" stroke="#444" stroke-width="0.6" />
<line x1="52.2" y1="305.17" x2="53.3" y2="305.17" stroke="#444" stroke-width="0.6" />
<line x1="54.24" y1="384" x2="54.24" y2="385.8" stroke="#444" stroke-width="0.8" />
<text x="54.24" y="393.2" font-size="6.2" fill="#262626" text-anchor="middle" font-weight="normal" font-family='"Liberation Sans",sans-serif' stroke="#262626" stroke-width="0.22" >-1.2</text>
<line x1="76.8" y1="384" x2="76.8" y2="385.8" stroke="#444" stroke-width="0.8" />
<text x="76.8" y="393.2" font-size="6.2" fill="#262626" text-anchor="middle" font-weight="normal" font-family='"Liberation Sans",sans-serif' stroke="#262626" stroke-width="0.22" >-1.0</text>
<line x1="99.36" y1="384" x2="99.36" y2="385.8" stroke="#444" stroke-width="0.8" />
<text x="99.36" y="393.2" font-size="6.2" fill="#262626" text-anchor="middle" font-weight="normal" font-family='"Liberation Sans",sans-serif' stroke="#262626" stroke-width="0.22" >-0.8</text>
<line x1="121.92" y1="384" x2="121.92" y2="385.8" stroke="#444" stroke-width="0.8" />
<text x="121.92" y="393.2" font-size="6.2" fill="#262626" text-anchor="middle" font-weight="normal" font-family='"Liberation Sans",sans-serif' stroke="#262626" stroke-width="0.22" >-0.6</text>
<line x1="144.48" y1="384" x2="144.48" y2="385.8" stroke="#444" stroke-width="0.8" />
<text x="144.48" y="393.2" font-size="6.2" fill="#262626" text-anchor="middle" font-weight="normal" font-family='"Liberation Sans",sans-serif' stroke="#262626" stroke-width="0.22" >-0.4</text>
<line x1="167.04" y1="384" x2="167.04" y2="385.8" stroke="#444" stroke-width="0.8" />
<text x="167.04" y="393.2" font-size="6.2" fill="#262626" text-anchor="middle" font-weight="normal" font-family='"Liberation Sans",sans-serif' stroke="#262626" stroke-width="0.22" >-0.2</text>
<line x1="189.6" y1="384" x2="189.6" y2="385.8" stroke="#444" stroke-width="0.8" />
<text x="189.6" y="393.2" font-size="6.2" fill="#262626" text-anchor="middle" font-weight="normal" font-family='"Liberation Sans",sans-serif' stroke="#262626" stroke-width="0.22" >0.0</text>
<line x1="65.52" y1="384" x2="65.52" y2="385.1" stroke="#444" stroke-width="0.6" />
<line x1="88.08" y1="384" x2="88.08" y2="385.1" stroke="#444" stroke-width="0.6" />
<line x1="110.64" y1="384" x2="110.64" y2="385.1" stroke="#444" stroke-width="0.6" />
<line x1="133.2" y1="384" x2="133.2" y2="385.1" stroke="#444" stroke-width="0.6" />
<line x1="155.76" y1="384" x2="155.76" y2="385.1" stroke="#444" stroke-width="0.6" />
<line x1="178.32" y1="384" x2="178.32" y2="385.1" stroke="#444" stroke-width="0.6" />
<text x="121.5" y="403" font-size="9" fill="#333" text-anchor="middle" font-weight="normal" font-family='"Liberation Sans",sans-serif' >Potential (V vs RHE)</text>
<text transform="translate(35,335) rotate(-90)" font-size="9" fill="#262626" text-anchor="middle" font-family='"Liberation Sans",sans-serif'>Current Density (mA cm<tspan font-size="5.5" dy="-3.5">-2</tspan><tspan dy="3.5">)</tspan></text>
<rect x="96" y="288" width="93.6" height="5" fill="#fdf0f7" stroke="none" stroke-width="1" />
<line x1="99" y1="290.4" x2="190" y2="290.4" stroke="#8a3a6c" stroke-width="1.2" />
<path d="M53.8,364.4C54.5,363.22 56.43,359.97 58,357.3C59.57,354.63 61.43,351.42 63.2,348.4C64.97,345.38 66.48,342.78 68.6,339.2C70.72,335.62 73.27,330.82 75.9,326.9C78.53,322.98 81.75,318.8 84.4,315.7C87.05,312.6 89.15,310.55 91.8,308.3C94.45,306.05 97.27,303.92 100.3,302.2C103.33,300.48 107.38,299.02 110,298C112.62,296.98 113.17,296.87 116,296.1C118.83,295.33 123.33,294.1 127,293.4C130.67,292.7 134.33,292.28 138,291.9C141.67,291.52 144.5,291.3 149,291.1C153.5,290.9 162.33,290.77 165,290.7" fill="none" stroke="#c88a6a" stroke-width="1.1" stroke-linejoin="round"/>
<path d="M53.8,355.6C54.5,354.25 56.57,350.28 58,347.5C59.43,344.72 60.9,341.82 62.4,338.9C63.9,335.98 65.37,333.05 67,330C68.63,326.95 70.7,323.47 72.2,320.6C73.7,317.73 74.77,315.25 76,312.8C77.23,310.35 78.38,307.9 79.6,305.9C80.82,303.9 82.08,302.23 83.3,300.8C84.52,299.37 85.7,298.3 86.9,297.3C88.1,296.3 89.28,295.52 90.5,294.8C91.72,294.08 92.15,293.6 94.2,293C96.25,292.4 100.17,291.6 102.8,291.2C105.43,290.8 108.8,290.7 110,290.6" fill="none" stroke="#7455b8" stroke-width="1.1" stroke-linejoin="round"/>
<rect x="53.3" y="283.4" width="136.9" height="100.6" fill="none" stroke="#333" stroke-width="1" />
<line x1="152" y1="298" x2="167" y2="298" stroke="#b8a080" stroke-width="0.9" />
<line x1="152" y1="307.4" x2="167" y2="307.4" stroke="#8c80c0" stroke-width="0.9" />
<text x="169" y="300.4" font-size="6.4" fill="#333" text-anchor="start" font-weight="normal" font-family='"Liberation Sans",sans-serif' stroke="#333" stroke-width="0.22" >f-Bi<tspan font-size="4" dy="1.6">2</tspan><tspan dy="-1.6">O</tspan><tspan font-size="4" dy="1.6">3</tspan></text>
<text x="169" y="309.8" font-size="6.4" fill="#333" text-anchor="start" font-weight="normal" font-family='"Liberation Sans",sans-serif' stroke="#333" stroke-width="0.22" >Bi<tspan font-size="4" dy="1.6">2</tspan><tspan dy="-1.6">O</tspan><tspan font-size="4" dy="1.6">3</tspan></text>
<text x="197.6" y="284.5" font-size="17.5" fill="#111" text-anchor="start" font-weight="bold" font-family='"Liberation Serif",serif' ><tspan font-size="19.5">(</tspan>h<tspan font-size="19.5">)</tspan></text>
<line x1="228.5" y1="384.45" x2="230.3" y2="384.45" stroke="#444" stroke-width="0.8" />
<text x="226.4" y="386.68" font-size="6.2" fill="#262626" text-anchor="end" font-weight="normal" font-family='"Liberation Sans",sans-serif' stroke="#262626" stroke-width="0.22" >-25</text>
<line x1="228.5" y1="366" x2="230.3" y2="366" stroke="#444" stroke-width="0.8" />
<text x="226.4" y="368.23" font-size="6.2" fill="#262626" text-anchor="end" font-weight="normal" font-family='"Liberation Sans",sans-serif' stroke="#262626" stroke-width="0.22" >-20</text>
<line x1="228.5" y1="347.55" x2="230.3" y2="347.55" stroke="#444" stroke-width="0.8" />
<text x="226.4" y="349.78" font-size="6.2" fill="#262626" text-anchor="end" font-weight="normal" font-family='"Liberation Sans",sans-serif' stroke="#262626" stroke-width="0.22" >-15</text>
<line x1="228.5" y1="329.1" x2="230.3" y2="329.1" stroke="#444" stroke-width="0.8" />
<text x="226.4" y="331.33" font-size="6.2" fill="#262626" text-anchor="end" font-weight="normal" font-family='"Liberation Sans",sans-serif' stroke="#262626" stroke-width="0.22" >-10</text>
<line x1="228.5" y1="310.65" x2="230.3" y2="310.65" stroke="#444" stroke-width="0.8" />
<text x="226.4" y="312.88" font-size="6.2" fill="#262626" text-anchor="end" font-weight="normal" font-family='"Liberation Sans",sans-serif' stroke="#262626" stroke-width="0.22" >-5</text>
<line x1="228.5" y1="292.2" x2="230.3" y2="292.2" stroke="#444" stroke-width="0.8" />
<text x="226.4" y="294.43" font-size="6.2" fill="#262626" text-anchor="end" font-weight="normal" font-family='"Liberation Sans",sans-serif' stroke="#262626" stroke-width="0.22" >0</text>
<line x1="229.2" y1="375.23" x2="230.3" y2="375.23" stroke="#444" stroke-width="0.6" />
<line x1="229.2" y1="356.77" x2="230.3" y2="356.77" stroke="#444" stroke-width="0.6" />
<line x1="229.2" y1="338.32" x2="230.3" y2="338.32" stroke="#444" stroke-width="0.6" />
<line x1="229.2" y1="319.88" x2="230.3" y2="319.88" stroke="#444" stroke-width="0.6" />
<line x1="229.2" y1="301.43" x2="230.3" y2="301.43" stroke="#444" stroke-width="0.6" />
<line x1="244" y1="384.2" x2="244" y2="386" stroke="#444" stroke-width="0.8" />
<text x="244" y="393.4" font-size="6.2" fill="#262626" text-anchor="middle" font-weight="normal" font-family='"Liberation Sans",sans-serif' stroke="#262626" stroke-width="0.22" >-1.2</text>
<line x1="271.65" y1="384.2" x2="271.65" y2="386" stroke="#444" stroke-width="0.8" />
<text x="271.65" y="393.4" font-size="6.2" fill="#262626" text-anchor="middle" font-weight="normal" font-family='"Liberation Sans",sans-serif' stroke="#262626" stroke-width="0.22" >-1.1</text>
<line x1="299.3" y1="384.2" x2="299.3" y2="386" stroke="#444" stroke-width="0.8" />
<text x="299.3" y="393.4" font-size="6.2" fill="#262626" text-anchor="middle" font-weight="normal" font-family='"Liberation Sans",sans-serif' stroke="#262626" stroke-width="0.22" >-1.0</text>
<line x1="326.95" y1="384.2" x2="326.95" y2="386" stroke="#444" stroke-width="0.8" />
<text x="326.95" y="393.4" font-size="6.2" fill="#262626" text-anchor="middle" font-weight="normal" font-family='"Liberation Sans",sans-serif' stroke="#262626" stroke-width="0.22" >-0.9</text>
<line x1="354.6" y1="384.2" x2="354.6" y2="386" stroke="#444" stroke-width="0.8" />
<text x="354.6" y="393.4" font-size="6.2" fill="#262626" text-anchor="middle" font-weight="normal" font-family='"Liberation Sans",sans-serif' stroke="#262626" stroke-width="0.22" >-0.8</text>
<line x1="230.17" y1="384.2" x2="230.17" y2="385.3" stroke="#444" stroke-width="0.6" />
<line x1="257.82" y1="384.2" x2="257.82" y2="385.3" stroke="#444" stroke-width="0.6" />
<line x1="285.47" y1="384.2" x2="285.47" y2="385.3" stroke="#444" stroke-width="0.6" />
<line x1="313.12" y1="384.2" x2="313.12" y2="385.3" stroke="#444" stroke-width="0.6" />
<line x1="340.77" y1="384.2" x2="340.77" y2="385.3" stroke="#444" stroke-width="0.6" />
<line x1="368.42" y1="384.2" x2="368.42" y2="385.3" stroke="#444" stroke-width="0.6" />
<text x="298.5" y="403" font-size="9" fill="#333" text-anchor="middle" font-weight="normal" font-family='"Liberation Sans",sans-serif' >Potential (V vs RHE)</text>
<text transform="translate(213,333.5) rotate(-90)" font-size="9" fill="#262626" text-anchor="middle" font-family='"Liberation Sans",sans-serif'><tspan font-style="italic">j</tspan><tspan font-size="5.5" dy="2.5">HCOO</tspan><tspan font-size="5.5" dy="-5">-</tspan><tspan dy="2.5"> (mA cm</tspan><tspan font-size="5.5" dy="-3.5">-2</tspan><tspan dy="3.5">)</tspan></text>
<path d="M244,371L271.6,350.4L299,327.4L326.6,311.6L353.6,297" fill="none" stroke="#fef5fa" stroke-width="8" stroke-linejoin="round" stroke-linecap="round"/>
<path d="M244,349.4L271.6,335.4L299,319L326.6,296L353.6,293" fill="none" stroke="#fef5fa" stroke-width="8" stroke-linejoin="round" stroke-linecap="round"/>
<path d="M244,371L271.6,350.4L299,327.4L326.6,311.6L353.6,297" fill="none" stroke="#a08a6a" stroke-width="1.1" stroke-dasharray="3,2.2" />
<path d="M244,349.4L271.6,335.4L299,319L326.6,296L353.6,293" fill="none" stroke="#7a68b0" stroke-width="1.1" stroke-dasharray="3,2.2" />
<rect x="241.9" y="368.9" width="4.2" height="4.2" fill="#8a7442" stroke="none" stroke-width="1" />
<rect x="269.5" y="348.3" width="4.2" height="4.2" fill="#8a7442" stroke="none" stroke-width="1" />
<rect x="296.9" y="325.3" width="4.2" height="4.2" fill="#8a7442" stroke="none" stroke-width="1" />
<rect x="324.5" y="309.5" width="4.2" height="4.2" fill="#8a7442" stroke="none" stroke-width="1" />
<rect x="351.5" y="294.9" width="4.2" height="4.2" fill="#8a7442" stroke="none" stroke-width="1" />
<circle cx="244" cy="349.4" r="2.4" fill="#3f2f8a"/>
<circle cx="271.6" cy="335.4" r="2.4" fill="#3f2f8a"/>
<circle cx="299" cy="319" r="2.4" fill="#3f2f8a"/>
<circle cx="326.6" cy="296" r="2.4" fill="#3f2f8a"/>
<circle cx="353.6" cy="293" r="2.4" fill="#3f2f8a"/>
<rect x="230.3" y="283.2" width="137.3" height="101" fill="none" stroke="#333" stroke-width="1" />
<line x1="328" y1="364" x2="338.5" y2="364" stroke="#a08a6a" stroke-width="1.1" stroke-dasharray="3,2" />
<rect x="332.7" y="362.3" width="3.4" height="3.4" fill="#8a7442" stroke="none" stroke-width="1" />
<line x1="328" y1="373.6" x2="338.5" y2="373.6" stroke="#7a68b0" stroke-width="1.1" stroke-dasharray="3,2" />
<circle cx="334.4" cy="373.6" r="1.9" fill="#3f2f8a"/>
<text x="344.4" y="366.2" font-size="6.2" fill="#333" text-anchor="start" font-weight="normal" font-family='"Liberation Sans",sans-serif' stroke="#333" stroke-width="0.22" >f-Bi<tspan font-size="4" dy="1.6">2</tspan><tspan dy="-1.6">O</tspan><tspan font-size="4" dy="1.6">3</tspan></text>
<text x="344.4" y="375.8" font-size="6.2" fill="#333" text-anchor="start" font-weight="normal" font-family='"Liberation Sans",sans-serif' stroke="#333" stroke-width="0.22" >Bi<tspan font-size="4" dy="1.6">2</tspan><tspan dy="-1.6">O</tspan><tspan font-size="4" dy="1.6">3</tspan></text>
<text x="372.9" y="284.3" font-size="17.5" fill="#111" text-anchor="start" font-weight="bold" font-family='"Liberation Serif",serif' ><tspan font-size="19.5">(</tspan>i<tspan font-size="19.5">)</tspan></text>
<line x1="402" y1="376.1" x2="403.8" y2="376.1" stroke="#444" stroke-width="0.8" />
<text x="399.9" y="378.33" font-size="6.2" fill="#262626" text-anchor="end" font-weight="normal" font-family='"Liberation Sans",sans-serif' stroke="#262626" stroke-width="0.22" >40</text>
<line x1="402" y1="359.3" x2="403.8" y2="359.3" stroke="#444" stroke-width="0.8" />
<text x="399.9" y="361.53" font-size="6.2" fill="#262626" text-anchor="end" font-weight="normal" font-family='"Liberation Sans",sans-serif' stroke="#262626" stroke-width="0.22" >50</text>
<line x1="402" y1="342.5" x2="403.8" y2="342.5" stroke="#444" stroke-width="0.8" />
<text x="399.9" y="344.73" font-size="6.2" fill="#262626" text-anchor="end" font-weight="normal" font-family='"Liberation Sans",sans-serif' stroke="#262626" stroke-width="0.22" >60</text>
<line x1="402" y1="325.7" x2="403.8" y2="325.7" stroke="#444" stroke-width="0.8" />
<text x="399.9" y="327.93" font-size="6.2" fill="#262626" text-anchor="end" font-weight="normal" font-family='"Liberation Sans",sans-serif' stroke="#262626" stroke-width="0.22" >70</text>
<line x1="402" y1="308.9" x2="403.8" y2="308.9" stroke="#444" stroke-width="0.8" />
<text x="399.9" y="311.13" font-size="6.2" fill="#262626" text-anchor="end" font-weight="normal" font-family='"Liberation Sans",sans-serif' stroke="#262626" stroke-width="0.22" >80</text>
<line x1="402" y1="292.1" x2="403.8" y2="292.1" stroke="#444" stroke-width="0.8" />
<text x="399.9" y="294.33" font-size="6.2" fill="#262626" text-anchor="end" font-weight="normal" font-family='"Liberation Sans",sans-serif' stroke="#262626" stroke-width="0.22" >90</text>
<line x1="402.7" y1="384.5" x2="403.8" y2="384.5" stroke="#444" stroke-width="0.6" />
<line x1="402.7" y1="367.7" x2="403.8" y2="367.7" stroke="#444" stroke-width="0.6" />
<line x1="402.7" y1="350.9" x2="403.8" y2="350.9" stroke="#444" stroke-width="0.6" />
<line x1="402.7" y1="334.1" x2="403.8" y2="334.1" stroke="#444" stroke-width="0.6" />
<line x1="402.7" y1="317.3" x2="403.8" y2="317.3" stroke="#444" stroke-width="0.6" />
<line x1="402.7" y1="300.5" x2="403.8" y2="300.5" stroke="#444" stroke-width="0.6" />
<line x1="402.7" y1="283.7" x2="403.8" y2="283.7" stroke="#444" stroke-width="0.6" />
<line x1="420.6" y1="384.6" x2="420.6" y2="386.4" stroke="#444" stroke-width="0.8" />
<text x="420.6" y="394" font-size="6.2" fill="#262626" text-anchor="middle" font-weight="normal" font-family='"Liberation Sans",sans-serif' stroke="#262626" stroke-width="0.22" >60</text>
<line x1="454.2" y1="384.6" x2="454.2" y2="386.4" stroke="#444" stroke-width="0.8" />
<text x="454.2" y="394" font-size="6.2" fill="#262626" text-anchor="middle" font-weight="normal" font-family='"Liberation Sans",sans-serif' stroke="#262626" stroke-width="0.22" >120</text>
<line x1="488" y1="384.6" x2="488" y2="386.4" stroke="#444" stroke-width="0.8" />
<text x="488" y="394" font-size="6.2" fill="#262626" text-anchor="middle" font-weight="normal" font-family='"Liberation Sans",sans-serif' stroke="#262626" stroke-width="0.22" >180</text>
<line x1="521.6" y1="384.6" x2="521.6" y2="386.4" stroke="#444" stroke-width="0.8" />
<text x="521.6" y="394" font-size="6.2" fill="#262626" text-anchor="middle" font-weight="normal" font-family='"Liberation Sans",sans-serif' stroke="#262626" stroke-width="0.22" >240</text>
<rect x="427.6" y="329.06" width="2.6" height="55.54" fill="#b0f4f0" stroke="none" stroke-width="1" />
<rect x="413.6" y="329.06" width="14" height="55.54" fill="#217a3a" stroke="#1a4424" stroke-width="0.9" />
<rect x="461" y="327.38" width="2.6" height="57.22" fill="#ffc0ec" stroke="none" stroke-width="1" />
<rect x="447.5" y="327.38" width="13.5" height="57.22" fill="#ea8a12" stroke="#8a4a10" stroke-width="0.9" />
<rect x="481" y="313.94" width="13.4" height="70.66" fill="#2a78d0" stroke="#0c5a6a" stroke-width="0.9" />
<rect x="511.8" y="288.78" width="2.2" height="95.82" fill="#ffd0ee" stroke="none" stroke-width="1" />
<rect x="514" y="293.78" width="14" height="90.82" fill="#e24646" stroke="#8a3a28" stroke-width="0.9" />
<line x1="454.2" y1="324.36" x2="454.2" y2="330.4" stroke="#222" stroke-width="0.8" />
<line x1="452.9" y1="324.36" x2="455.5" y2="324.36" stroke="#222" stroke-width="0.8" />
<line x1="452.9" y1="330.4" x2="455.5" y2="330.4" stroke="#222" stroke-width="0.8" />
<circle cx="454.2" cy="327.38" r="1" fill="#a01010"/>
<line x1="487.7" y1="308.9" x2="487.7" y2="318.98" stroke="#222" stroke-width="0.8" />
<line x1="486.4" y1="308.9" x2="489" y2="308.9" stroke="#222" stroke-width="0.8" />
<line x1="486.4" y1="318.98" x2="489" y2="318.98" stroke="#222" stroke-width="0.8" />
<circle cx="487.7" cy="313.94" r="1" fill="#a01010"/>
<line x1="521" y1="288.74" x2="521" y2="298.82" stroke="#222" stroke-width="0.8" />
<line x1="519.7" y1="288.74" x2="522.3" y2="288.74" stroke="#222" stroke-width="0.8" />
<line x1="519.7" y1="298.82" x2="522.3" y2="298.82" stroke="#222" stroke-width="0.8" />
<circle cx="521" cy="293.78" r="1" fill="#a01010"/>
<rect x="403.8" y="283.8" width="137.6" height="100.8" fill="none" stroke="#333" stroke-width="1" />
<text x="472.5" y="401.5" font-size="9.5" fill="#333" text-anchor="middle" font-weight="normal" font-family='"Liberation Sans",sans-serif' >t<tspan font-size="5" dy="2.4">dep</tspan><tspan dy="-2.4"> (s)</tspan></text>
<text transform="translate(389,330) rotate(-90)" font-size="9.5" fill="#262626" text-anchor="middle" font-family='"Liberation Sans",sans-serif'>FE<tspan font-size="5.5" dy="2.5">HCOO</tspan><tspan font-size="5.5" dy="-5">-</tspan><tspan dy="2.5"> (%)</tspan></text>
</svg></body></html>
